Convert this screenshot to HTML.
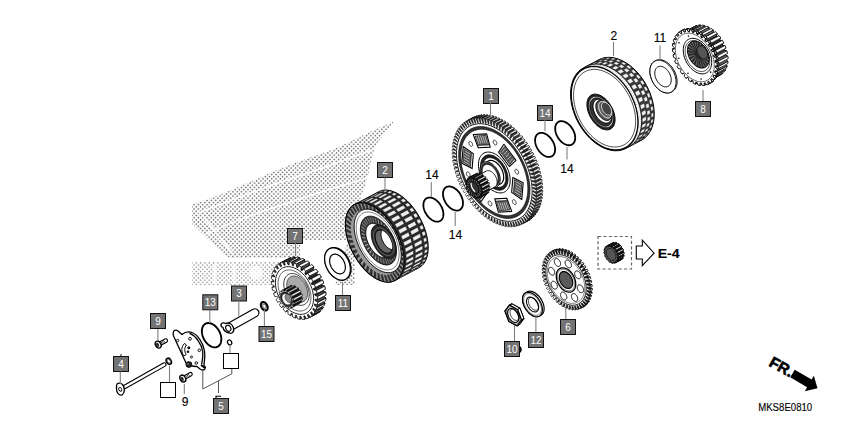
<!DOCTYPE html>
<html><head><meta charset="utf-8"><style>
html,body{margin:0;padding:0;background:#fff;overflow:hidden;}
svg{display:block;}
</style></head><body>
<svg width="842" height="421" viewBox="0 0 842 421">
<rect width="842" height="421" fill="#fff"/>
<g id="watermark">
<defs><pattern id="dots" width="3.05" height="3.05" patternUnits="userSpaceOnUse" patternTransform="rotate(45)">
<rect x="0.65" y="0.65" width="1.45" height="1.45" fill="#6a6a6a"/></pattern>
<pattern id="dots2" width="3.05" height="3.05" patternUnits="userSpaceOnUse" patternTransform="rotate(45)">
<rect x="0.7" y="0.7" width="1.3" height="1.3" fill="#858585"/></pattern></defs>
<path fill="url(#dots)" d="M394,121.5 C380,127 355,139 341,146 C325,153 295,162 270,173 C250,182 232,190 224,193 C212,198 200,202 192,204 L192,224 L214,245 L229,258 L300,258 L300,240 L355,240 L355,285 L335,285 L358,205 L367,180 L373,153 L378,142 Z"/>
<path fill="url(#dots2)" d="M192,262 L300,262 L300,285 L192,285 Z"/>
<g fill="#fff" fill-opacity="0.8"><rect x="213.2" y="264" width="3" height="20"/><rect x="232.5" y="264" width="3" height="20"/><ellipse cx="256" cy="272.5" rx="6.5" ry="7"/></g>
<g fill="none" stroke="#fff" stroke-width="1.5" stroke-linecap="round" stroke-linejoin="round">
<path d="M199,213 C210,208 240,197 275,184 C300,176 340,162 377,148"/>
<path d="M202,215 L233,254"/>
<path d="M207,234 C230,222 260,212 318,193 C340,186 360,180 375,176"/>
</g>
</g>
<g id="gear_8">
<polygon points="695.90,29.17 694.90,26.31 696.68,25.62 698.24,28.25 699.12,28.06 698.57,25.20 700.56,25.07 701.75,27.88 702.70,27.95 702.63,25.21 704.75,25.64 705.49,28.51 706.49,28.84 706.89,26.34 709.05,27.31 709.33,30.11 710.32,30.68 711.18,28.54 713.28,30.01 713.08,32.62 714.02,33.41 715.31,31.71 717.25,33.61 716.58,35.92 717.43,36.89 719.08,35.71 720.79,37.97 719.68,39.87 720.40,40.99 722.35,40.37 723.75,42.89 722.24,44.30 722.80,45.51 724.97,45.49 725.99,48.15 724.16,49.02 724.54,50.26 726.81,50.84 727.42,53.53 725.34,53.81 725.52,55.04 727.81,56.19 727.98,58.79 725.74,58.47 725.71,59.63 727.92,61.31 727.63,63.71 725.34,62.79 725.10,63.84 727.13,65.96 726.40,68.05 724.15,66.59 723.72,67.47 725.47,69.95 724.35,71.64 722.23,69.70 721.62,70.38 723.03,73.11 721.55,74.33 719.67,71.99 718.91,72.43 719.91,75.29 718.13,75.98 716.56,73.34 715.69,73.54 716.24,76.40 714.24,76.53 713.06,73.72 712.10,73.65 712.18,76.39 710.06,75.96 709.31,73.09 708.32,72.76 707.91,75.26 705.76,74.29 705.48,71.48 704.49,70.91 703.62,73.06 701.53,71.59 701.73,68.98 700.79,68.19 699.50,69.89 697.56,67.98 698.23,65.67 697.38,64.70 695.72,65.89 694.02,63.63 695.13,61.72 694.41,60.61 692.45,61.22 691.06,58.71 692.57,57.29 692.00,56.09 689.84,56.10 688.82,53.44 690.65,52.58 690.27,51.33 687.99,50.75 687.39,48.06 689.47,47.79 689.29,46.56 687.00,45.40 686.83,42.80 689.07,43.13 689.10,41.97 686.89,40.29 687.17,37.89 689.47,38.81 689.71,37.76 687.68,35.64 688.40,33.55 690.66,35.01 691.09,34.12 689.33,31.64 690.46,29.95 692.58,31.90 693.18,31.22 691.77,28.49 693.26,27.27 695.14,29.61" fill="#fff" stroke="#000" stroke-width="0.70" stroke-linejoin="round" />
<polygon points="677.54,59.44 679.37,58.58 690.65,52.58 688.82,53.44" fill="#666" stroke="#000" stroke-width="0.70" stroke-linejoin="round" />
<polygon points="686.10,70.70 684.45,71.88 695.72,65.89 697.38,64.70" fill="#666" stroke="#000" stroke-width="0.70" stroke-linejoin="round" />
<polygon points="676.11,54.06 678.19,53.79 689.47,47.79 687.39,48.06" fill="#666" stroke="#000" stroke-width="0.70" stroke-linejoin="round" />
<polygon points="689.51,74.19 688.22,75.89 699.50,69.89 700.79,68.19" fill="#666" stroke="#000" stroke-width="0.70" stroke-linejoin="round" />
<polygon points="675.55,48.80 677.79,49.13 689.07,43.13 686.83,42.80" fill="#666" stroke="#000" stroke-width="0.70" stroke-linejoin="round" />
<polygon points="693.21,76.91 692.35,79.06 703.62,73.06 704.49,70.91" fill="#666" stroke="#000" stroke-width="0.70" stroke-linejoin="round" />
<polygon points="675.90,43.89 678.19,44.80 689.47,38.81 687.17,37.89" fill="#666" stroke="#000" stroke-width="0.70" stroke-linejoin="round" />
<polygon points="697.04,78.76 696.64,81.25 707.91,75.26 708.32,72.76" fill="#666" stroke="#000" stroke-width="0.70" stroke-linejoin="round" />
<polygon points="677.13,39.54 679.38,41.00 690.66,35.01 688.40,33.55" fill="#666" stroke="#000" stroke-width="0.70" stroke-linejoin="round" />
<polygon points="700.83,79.64 700.90,82.38 712.18,76.39 712.10,73.65" fill="#666" stroke="#000" stroke-width="0.70" stroke-linejoin="round" />
<polygon points="679.18,35.95 681.30,37.89 692.58,31.90 690.46,29.95" fill="#666" stroke="#000" stroke-width="0.70" stroke-linejoin="round" />
<polygon points="704.41,79.53 704.96,82.39 716.24,76.40 715.69,73.54" fill="#666" stroke="#000" stroke-width="0.70" stroke-linejoin="round" />
<polygon points="681.98,33.27 683.86,35.61 695.14,29.61 693.26,27.27" fill="#666" stroke="#000" stroke-width="0.70" stroke-linejoin="round" />
<polygon points="707.63,78.43 708.63,81.28 719.91,75.29 718.91,72.43" fill="#666" stroke="#000" stroke-width="0.70" stroke-linejoin="round" />
<polygon points="708.39,77.98 707.63,78.43 718.91,72.43 719.67,71.99" fill="#666" stroke="#000" stroke-width="0.70" stroke-linejoin="round" />
<polygon points="683.62,32.31 685.40,31.61 696.68,25.62 694.90,26.31" fill="#fff" stroke="#000" stroke-width="0.70" stroke-linejoin="round" />
<polygon points="711.76,79.10 710.27,80.32 721.55,74.33 723.03,73.11" fill="#fff" stroke="#000" stroke-width="0.70" stroke-linejoin="round" />
<polygon points="685.40,31.61 686.97,34.25 698.24,28.25 696.68,25.62" fill="#666" stroke="#000" stroke-width="0.70" stroke-linejoin="round" />
<polygon points="686.97,34.25 687.84,34.06 699.12,28.06 698.24,28.25" fill="#666" stroke="#000" stroke-width="0.70" stroke-linejoin="round" />
<polygon points="710.35,76.38 711.76,79.10 723.03,73.11 721.62,70.38" fill="#666" stroke="#000" stroke-width="0.70" stroke-linejoin="round" />
<polygon points="710.95,75.70 710.35,76.38 721.62,70.38 722.23,69.70" fill="#666" stroke="#000" stroke-width="0.70" stroke-linejoin="round" />
<polygon points="687.29,31.20 689.29,31.06 700.56,25.07 698.57,25.20" fill="#fff" stroke="#000" stroke-width="0.70" stroke-linejoin="round" />
<polygon points="689.29,31.06 690.47,33.88 701.75,27.88 700.56,25.07" fill="#666" stroke="#000" stroke-width="0.70" stroke-linejoin="round" />
<polygon points="714.20,75.95 713.07,77.64 724.35,71.64 725.47,69.95" fill="#fff" stroke="#000" stroke-width="0.70" stroke-linejoin="round" />
<polygon points="690.47,33.88 691.43,33.94 702.70,27.95 701.75,27.88" fill="#666" stroke="#000" stroke-width="0.70" stroke-linejoin="round" />
<polygon points="712.44,73.47 714.20,75.95 725.47,69.95 723.72,67.47" fill="#666" stroke="#000" stroke-width="0.70" stroke-linejoin="round" />
<polygon points="712.87,72.59 712.44,73.47 723.72,67.47 724.15,66.59" fill="#666" stroke="#000" stroke-width="0.70" stroke-linejoin="round" />
<polygon points="691.35,31.21 693.47,31.63 704.75,25.64 702.63,25.21" fill="#fff" stroke="#000" stroke-width="0.70" stroke-linejoin="round" />
<polygon points="693.47,31.63 694.22,34.51 705.49,28.51 704.75,25.64" fill="#666" stroke="#000" stroke-width="0.70" stroke-linejoin="round" />
<polygon points="694.22,34.51 695.21,34.83 706.49,28.84 705.49,28.51" fill="#666" stroke="#000" stroke-width="0.70" stroke-linejoin="round" />
<polygon points="715.85,71.96 715.13,74.05 726.40,68.05 727.13,65.96" fill="#fff" stroke="#000" stroke-width="0.70" stroke-linejoin="round" />
<polygon points="714.06,68.79 713.82,69.83 725.10,63.84 725.34,62.79" fill="#666" stroke="#000" stroke-width="0.70" stroke-linejoin="round" />
<polygon points="713.82,69.83 715.85,71.96 727.13,65.96 725.10,63.84" fill="#666" stroke="#000" stroke-width="0.70" stroke-linejoin="round" />
<polygon points="698.05,36.11 699.04,36.68 710.32,30.68 709.33,30.11" fill="#666" stroke="#000" stroke-width="0.70" stroke-linejoin="round" />
<polygon points="695.62,32.34 697.77,33.31 709.05,27.31 706.89,26.34" fill="#fff" stroke="#000" stroke-width="0.70" stroke-linejoin="round" />
<polygon points="697.77,33.31 698.05,36.11 709.33,30.11 709.05,27.31" fill="#666" stroke="#000" stroke-width="0.70" stroke-linejoin="round" />
<polygon points="714.46,64.46 714.43,65.63 725.71,59.63 725.74,58.47" fill="#666" stroke="#000" stroke-width="0.70" stroke-linejoin="round" />
<polygon points="716.64,67.30 716.36,69.70 727.63,63.71 727.92,61.31" fill="#fff" stroke="#000" stroke-width="0.70" stroke-linejoin="round" />
<polygon points="714.43,65.63 716.64,67.30 727.92,61.31 725.71,59.63" fill="#666" stroke="#000" stroke-width="0.70" stroke-linejoin="round" />
<polygon points="701.80,38.62 702.74,39.40 714.02,33.41 713.08,32.62" fill="#666" stroke="#000" stroke-width="0.70" stroke-linejoin="round" />
<polygon points="714.06,59.80 714.24,61.04 725.52,55.04 725.34,53.81" fill="#666" stroke="#000" stroke-width="0.70" stroke-linejoin="round" />
<polygon points="702.00,36.00 701.80,38.62 713.08,32.62 713.28,30.01" fill="#666" stroke="#000" stroke-width="0.70" stroke-linejoin="round" />
<polygon points="699.91,34.53 702.00,36.00 713.28,30.01 711.18,28.54" fill="#fff" stroke="#000" stroke-width="0.70" stroke-linejoin="round" />
<polygon points="714.24,61.04 716.53,62.19 727.81,56.19 725.52,55.04" fill="#666" stroke="#000" stroke-width="0.70" stroke-linejoin="round" />
<polygon points="716.53,62.19 716.70,64.79 727.98,58.79 727.81,56.19" fill="#fff" stroke="#000" stroke-width="0.70" stroke-linejoin="round" />
<polygon points="705.30,41.92 706.15,42.89 717.43,36.89 716.58,35.92" fill="#666" stroke="#000" stroke-width="0.70" stroke-linejoin="round" />
<polygon points="712.88,55.01 713.26,56.26 724.54,50.26 724.16,49.02" fill="#666" stroke="#000" stroke-width="0.70" stroke-linejoin="round" />
<polygon points="705.97,39.61 705.30,41.92 716.58,35.92 717.25,33.61" fill="#666" stroke="#000" stroke-width="0.70" stroke-linejoin="round" />
<polygon points="708.40,45.87 709.12,46.98 720.40,40.99 719.68,39.87" fill="#666" stroke="#000" stroke-width="0.70" stroke-linejoin="round" />
<polygon points="710.96,50.30 711.53,51.51 722.80,45.51 722.24,44.30" fill="#666" stroke="#000" stroke-width="0.70" stroke-linejoin="round" />
<polygon points="713.26,56.26 715.54,56.84 726.81,50.84 724.54,50.26" fill="#666" stroke="#000" stroke-width="0.70" stroke-linejoin="round" />
<polygon points="704.03,37.70 705.97,39.61 717.25,33.61 715.31,31.71" fill="#fff" stroke="#000" stroke-width="0.70" stroke-linejoin="round" />
<polygon points="715.54,56.84 716.14,59.53 727.42,53.53 726.81,50.84" fill="#fff" stroke="#000" stroke-width="0.70" stroke-linejoin="round" />
<polygon points="709.51,43.97 708.40,45.87 719.68,39.87 720.79,37.97" fill="#666" stroke="#000" stroke-width="0.70" stroke-linejoin="round" />
<polygon points="711.53,51.51 713.69,51.49 724.97,45.49 722.80,45.51" fill="#666" stroke="#000" stroke-width="0.70" stroke-linejoin="round" />
<polygon points="709.12,46.98 711.08,46.37 722.35,40.37 720.40,40.99" fill="#666" stroke="#000" stroke-width="0.70" stroke-linejoin="round" />
<polygon points="712.47,48.89 710.96,50.30 722.24,44.30 723.75,42.89" fill="#666" stroke="#000" stroke-width="0.70" stroke-linejoin="round" />
<polygon points="707.81,41.71 709.51,43.97 720.79,37.97 719.08,35.71" fill="#fff" stroke="#000" stroke-width="0.70" stroke-linejoin="round" />
<polygon points="713.69,51.49 714.71,54.15 725.99,48.15 724.97,45.49" fill="#fff" stroke="#000" stroke-width="0.70" stroke-linejoin="round" />
<polygon points="711.08,46.37 712.47,48.89 723.75,42.89 722.35,40.37" fill="#fff" stroke="#000" stroke-width="0.70" stroke-linejoin="round" />
<polygon points="683.55,32.34 682.82,29.90 684.56,29.21 685.99,31.36 687.16,31.10 686.82,28.69 688.77,28.55 689.90,30.89 691.18,30.97 691.25,28.71 693.33,29.11 694.10,31.54 695.43,31.97 695.90,29.94 698.02,30.87 698.40,33.29 699.73,34.04 700.58,32.33 702.64,33.77 702.62,36.05 703.88,37.10 705.08,35.79 706.99,37.65 706.57,39.72 707.71,41.01 709.20,40.16 710.88,42.37 710.07,44.12 711.05,45.61 712.77,45.25 714.15,47.71 712.98,49.07 713.75,50.68 715.62,50.83 716.63,53.44 715.17,54.35 715.69,56.02 717.63,56.67 718.24,59.31 716.54,59.73 716.79,61.38 718.72,62.50 718.89,65.06 717.04,64.97 717.01,66.53 718.84,68.08 718.57,70.44 716.63,69.85 716.32,71.25 717.97,73.16 717.28,75.22 715.34,74.15 714.77,75.33 716.17,77.51 715.07,79.18 713.23,77.68 712.42,78.60 713.51,80.95 712.06,82.16 710.38,80.30 709.37,80.90 710.10,83.33 708.36,84.03 706.93,81.87 705.75,82.14 706.09,84.54 704.14,84.69 703.01,82.35 701.73,82.27 701.67,84.53 699.59,84.13 698.81,81.70 697.48,81.27 697.01,83.30 694.90,82.36 694.51,79.95 693.19,79.20 692.33,80.90 690.28,79.47 690.30,77.18 689.04,76.14 687.84,77.45 685.92,75.58 686.35,73.52 685.21,72.23 683.72,73.08 682.03,70.86 682.84,69.12 681.87,67.63 680.15,67.99 678.77,65.52 679.93,64.17 679.17,62.55 677.30,62.41 676.28,59.79 677.74,58.89 677.23,57.22 675.29,56.57 674.68,53.93 676.37,53.51 676.12,51.86 674.20,50.73 674.02,48.18 675.88,48.26 675.91,46.70 674.08,45.15 674.35,42.79 676.29,43.39 676.59,41.98 674.94,40.08 675.64,38.02 677.58,39.09 678.15,37.90 676.74,35.72 677.84,34.05 679.69,35.55 680.50,34.64 679.41,32.28 680.86,31.07 682.54,32.94" fill="#fff" stroke="#000" stroke-width="0.90" stroke-linejoin="round" />
<polygon points="683.55,73.11 682.06,73.96 683.72,73.08 685.21,72.23" fill="#fff" stroke="#000" stroke-width="0.90" stroke-linejoin="round" />
<polygon points="673.02,54.81 674.71,54.39 676.37,53.51 674.68,53.93" fill="#fff" stroke="#000" stroke-width="0.90" stroke-linejoin="round" />
<polygon points="687.38,77.02 686.18,78.33 687.84,77.45 689.04,76.14" fill="#fff" stroke="#000" stroke-width="0.90" stroke-linejoin="round" />
<polygon points="672.36,49.06 674.22,49.15 675.88,48.26 674.02,48.18" fill="#fff" stroke="#000" stroke-width="0.90" stroke-linejoin="round" />
<polygon points="691.53,80.08 690.68,81.79 692.33,80.90 693.19,79.20" fill="#fff" stroke="#000" stroke-width="0.90" stroke-linejoin="round" />
<polygon points="672.69,43.68 674.63,44.27 676.29,43.39 674.35,42.79" fill="#fff" stroke="#000" stroke-width="0.90" stroke-linejoin="round" />
<polygon points="695.83,82.15 695.35,84.18 697.01,83.30 697.48,81.27" fill="#fff" stroke="#000" stroke-width="0.90" stroke-linejoin="round" />
<polygon points="673.98,38.90 675.92,39.97 677.58,39.09 675.64,38.02" fill="#fff" stroke="#000" stroke-width="0.90" stroke-linejoin="round" />
<polygon points="700.08,83.15 700.01,85.41 701.67,84.53 701.73,82.27" fill="#fff" stroke="#000" stroke-width="0.90" stroke-linejoin="round" />
<polygon points="676.18,34.93 678.03,36.44 679.69,35.55 677.84,34.05" fill="#fff" stroke="#000" stroke-width="0.90" stroke-linejoin="round" />
<polygon points="704.10,83.02 704.44,85.42 706.09,84.54 705.75,82.14" fill="#fff" stroke="#000" stroke-width="0.90" stroke-linejoin="round" />
<polygon points="679.20,31.95 680.88,33.82 682.54,32.94 680.86,31.07" fill="#fff" stroke="#000" stroke-width="0.90" stroke-linejoin="round" />
<polygon points="707.71,81.78 708.44,84.21 710.10,83.33 709.37,80.90" fill="#fff" stroke="#000" stroke-width="0.90" stroke-linejoin="round" />
<polygon points="708.72,81.18 707.71,81.78 709.37,80.90 710.38,80.30" fill="#fff" stroke="#000" stroke-width="0.90" stroke-linejoin="round" />
<polygon points="681.16,30.79 682.90,30.09 684.56,29.21 682.82,29.90" fill="#fff" stroke="#000" stroke-width="0.90" stroke-linejoin="round" />
<polygon points="682.90,30.09 684.33,32.24 685.99,31.36 684.56,29.21" fill="#fff" stroke="#000" stroke-width="0.90" stroke-linejoin="round" />
<polygon points="711.85,81.84 710.40,83.05 712.06,82.16 713.51,80.95" fill="#fff" stroke="#000" stroke-width="0.90" stroke-linejoin="round" />
<polygon points="684.33,32.24 685.50,31.98 687.16,31.10 685.99,31.36" fill="#fff" stroke="#000" stroke-width="0.90" stroke-linejoin="round" />
<polygon points="710.76,79.48 711.85,81.84 713.51,80.95 712.42,78.60" fill="#fff" stroke="#000" stroke-width="0.90" stroke-linejoin="round" />
<polygon points="711.57,78.56 710.76,79.48 712.42,78.60 713.23,77.68" fill="#fff" stroke="#000" stroke-width="0.90" stroke-linejoin="round" />
<polygon points="685.16,29.58 687.12,29.43 688.77,28.55 686.82,28.69" fill="#fff" stroke="#000" stroke-width="0.90" stroke-linejoin="round" />
<polygon points="687.12,29.43 688.24,31.77 689.90,30.89 688.77,28.55" fill="#fff" stroke="#000" stroke-width="0.90" stroke-linejoin="round" />
<polygon points="714.51,78.40 713.42,80.07 715.07,79.18 716.17,77.51" fill="#fff" stroke="#000" stroke-width="0.90" stroke-linejoin="round" />
<polygon points="688.24,31.77 689.52,31.85 691.18,30.97 689.90,30.89" fill="#fff" stroke="#000" stroke-width="0.90" stroke-linejoin="round" />
<polygon points="713.11,76.22 714.51,78.40 716.17,77.51 714.77,75.33" fill="#fff" stroke="#000" stroke-width="0.90" stroke-linejoin="round" />
<polygon points="713.68,75.03 713.11,76.22 714.77,75.33 715.34,74.15" fill="#fff" stroke="#000" stroke-width="0.90" stroke-linejoin="round" />
<polygon points="689.59,29.59 691.67,29.99 693.33,29.11 691.25,28.71" fill="#fff" stroke="#000" stroke-width="0.90" stroke-linejoin="round" />
<polygon points="691.67,29.99 692.44,32.42 694.10,31.54 693.33,29.11" fill="#fff" stroke="#000" stroke-width="0.90" stroke-linejoin="round" />
<polygon points="692.44,32.42 693.77,32.85 695.43,31.97 694.10,31.54" fill="#fff" stroke="#000" stroke-width="0.90" stroke-linejoin="round" />
<polygon points="716.32,74.04 715.62,76.10 717.28,75.22 717.97,73.16" fill="#fff" stroke="#000" stroke-width="0.90" stroke-linejoin="round" />
<polygon points="714.66,72.14 716.32,74.04 717.97,73.16 716.32,71.25" fill="#fff" stroke="#000" stroke-width="0.90" stroke-linejoin="round" />
<polygon points="714.97,70.73 714.66,72.14 716.32,71.25 716.63,69.85" fill="#fff" stroke="#000" stroke-width="0.90" stroke-linejoin="round" />
<polygon points="694.25,30.82 696.36,31.76 698.02,30.87 695.90,29.94" fill="#fff" stroke="#000" stroke-width="0.90" stroke-linejoin="round" />
<polygon points="696.36,31.76 696.75,34.17 698.40,33.29 698.02,30.87" fill="#fff" stroke="#000" stroke-width="0.90" stroke-linejoin="round" />
<polygon points="696.75,34.17 698.07,34.92 699.73,34.04 698.40,33.29" fill="#fff" stroke="#000" stroke-width="0.90" stroke-linejoin="round" />
<polygon points="717.18,68.96 716.91,71.32 718.57,70.44 718.84,68.08" fill="#fff" stroke="#000" stroke-width="0.90" stroke-linejoin="round" />
<polygon points="715.38,65.85 715.35,67.41 717.01,66.53 717.04,64.97" fill="#fff" stroke="#000" stroke-width="0.90" stroke-linejoin="round" />
<polygon points="715.35,67.41 717.18,68.96 718.84,68.08 717.01,66.53" fill="#fff" stroke="#000" stroke-width="0.90" stroke-linejoin="round" />
<polygon points="700.96,36.93 702.22,37.98 703.88,37.10 702.62,36.05" fill="#fff" stroke="#000" stroke-width="0.90" stroke-linejoin="round" />
<polygon points="698.92,33.21 700.98,34.65 702.64,33.77 700.58,32.33" fill="#fff" stroke="#000" stroke-width="0.90" stroke-linejoin="round" />
<polygon points="700.98,34.65 700.96,36.93 702.62,36.05 702.64,33.77" fill="#fff" stroke="#000" stroke-width="0.90" stroke-linejoin="round" />
<polygon points="714.89,60.61 715.13,62.26 716.79,61.38 716.54,59.73" fill="#fff" stroke="#000" stroke-width="0.90" stroke-linejoin="round" />
<polygon points="715.13,62.26 717.06,63.39 718.72,62.50 716.79,61.38" fill="#fff" stroke="#000" stroke-width="0.90" stroke-linejoin="round" />
<polygon points="717.06,63.39 717.24,65.94 718.89,65.06 718.72,62.50" fill="#fff" stroke="#000" stroke-width="0.90" stroke-linejoin="round" />
<polygon points="704.91,40.60 706.05,41.89 707.71,41.01 706.57,39.72" fill="#fff" stroke="#000" stroke-width="0.90" stroke-linejoin="round" />
<polygon points="713.51,55.23 714.03,56.90 715.69,56.02 715.17,54.35" fill="#fff" stroke="#000" stroke-width="0.90" stroke-linejoin="round" />
<polygon points="705.33,38.54 704.91,40.60 706.57,39.72 706.99,37.65" fill="#fff" stroke="#000" stroke-width="0.90" stroke-linejoin="round" />
<polygon points="703.42,36.67 705.33,38.54 706.99,37.65 705.08,35.79" fill="#fff" stroke="#000" stroke-width="0.90" stroke-linejoin="round" />
<polygon points="714.03,56.90 715.97,57.55 717.63,56.67 715.69,56.02" fill="#fff" stroke="#000" stroke-width="0.90" stroke-linejoin="round" />
<polygon points="708.42,45.00 709.39,46.49 711.05,45.61 710.07,44.12" fill="#fff" stroke="#000" stroke-width="0.90" stroke-linejoin="round" />
<polygon points="711.33,49.95 712.09,51.56 713.75,50.68 712.98,49.07" fill="#fff" stroke="#000" stroke-width="0.90" stroke-linejoin="round" />
<polygon points="715.97,57.55 716.58,60.19 718.24,59.31 717.63,56.67" fill="#fff" stroke="#000" stroke-width="0.90" stroke-linejoin="round" />
<polygon points="714.98,54.32 713.51,55.23 715.17,54.35 716.63,53.44" fill="#fff" stroke="#000" stroke-width="0.90" stroke-linejoin="round" />
<polygon points="709.23,43.25 708.42,45.00 710.07,44.12 710.88,42.37" fill="#fff" stroke="#000" stroke-width="0.90" stroke-linejoin="round" />
<polygon points="712.09,51.56 713.96,51.71 715.62,50.83 713.75,50.68" fill="#fff" stroke="#000" stroke-width="0.90" stroke-linejoin="round" />
<polygon points="709.39,46.49 711.11,46.13 712.77,45.25 711.05,45.61" fill="#fff" stroke="#000" stroke-width="0.90" stroke-linejoin="round" />
<polygon points="712.49,48.59 711.33,49.95 712.98,49.07 714.15,47.71" fill="#fff" stroke="#000" stroke-width="0.90" stroke-linejoin="round" />
<polygon points="707.54,41.04 709.23,43.25 710.88,42.37 709.20,40.16" fill="#fff" stroke="#000" stroke-width="0.90" stroke-linejoin="round" />
<polygon points="713.96,51.71 714.98,54.32 716.63,53.44 715.62,50.83" fill="#fff" stroke="#000" stroke-width="0.90" stroke-linejoin="round" />
<polygon points="711.11,46.13 712.49,48.59 714.15,47.71 712.77,45.25" fill="#fff" stroke="#000" stroke-width="0.90" stroke-linejoin="round" />
<polygon points="681.89,33.22 681.16,30.79 682.90,30.09 684.33,32.24 685.50,31.98 685.16,29.58 687.12,29.43 688.24,31.77 689.52,31.85 689.59,29.59 691.67,29.99 692.44,32.42 693.77,32.85 694.25,30.82 696.36,31.76 696.75,34.17 698.07,34.92 698.92,33.21 700.98,34.65 700.96,36.93 702.22,37.98 703.42,36.67 705.33,38.54 704.91,40.60 706.05,41.89 707.54,41.04 709.23,43.25 708.42,45.00 709.39,46.49 711.11,46.13 712.49,48.59 711.33,49.95 712.09,51.56 713.96,51.71 714.98,54.32 713.51,55.23 714.03,56.90 715.97,57.55 716.58,60.19 714.89,60.61 715.13,62.26 717.06,63.39 717.24,65.94 715.38,65.85 715.35,67.41 717.18,68.96 716.91,71.32 714.97,70.73 714.66,72.14 716.32,74.04 715.62,76.10 713.68,75.03 713.11,76.22 714.51,78.40 713.42,80.07 711.57,78.56 710.76,79.48 711.85,81.84 710.40,83.05 708.72,81.18 707.71,81.78 708.44,84.21 706.70,84.91 705.27,82.76 704.10,83.02 704.44,85.42 702.48,85.57 701.36,83.23 700.08,83.15 700.01,85.41 697.93,85.01 697.16,82.58 695.83,82.15 695.35,84.18 693.24,83.24 692.85,80.83 691.53,80.08 690.68,81.79 688.62,80.35 688.64,78.07 687.38,77.02 686.18,78.33 684.27,76.46 684.69,74.40 683.55,73.11 682.06,73.96 680.37,71.75 681.18,70.00 680.21,68.51 678.49,68.87 677.11,66.41 678.27,65.05 677.51,63.44 675.64,63.29 674.62,60.68 676.09,59.77 675.57,58.10 673.63,57.45 673.02,54.81 674.71,54.39 674.47,52.74 672.54,51.61 672.36,49.06 674.22,49.15 674.25,47.59 672.42,46.04 672.69,43.68 674.63,44.27 674.94,42.86 673.28,40.96 673.98,38.90 675.92,39.97 676.49,38.78 675.09,36.60 676.18,34.93 678.03,36.44 678.84,35.52 677.75,33.16 679.20,31.95 680.88,33.82" fill="#fff" stroke="#000" stroke-width="0.90" stroke-linejoin="round" />
<polygon points="682.59,34.54 683.96,33.93 685.41,33.49 686.93,33.24 688.51,33.17 690.14,33.29 691.80,33.59 693.49,34.07 695.19,34.74 696.88,35.57 698.56,36.57 700.21,37.73 701.82,39.04 703.37,40.50 704.86,42.08 706.28,43.78 707.60,45.58 708.83,47.47 709.95,49.44 710.96,51.48 711.84,53.55 712.59,55.66 713.21,57.78 713.69,59.90 714.02,62.00 714.21,64.07 714.25,66.08 714.14,68.04 713.89,69.91 713.49,71.68 712.95,73.35 712.27,74.90 711.45,76.32 710.51,77.59 709.45,78.71 708.28,79.67 707.01,80.46 705.64,81.07 704.19,81.51 702.67,81.76 701.09,81.83 699.46,81.71 697.80,81.41 696.11,80.93 694.41,80.26 692.72,79.43 691.04,78.43 689.39,77.27 687.78,75.96 686.23,74.50 684.74,72.92 683.32,71.22 682.00,69.42 680.77,67.53 679.65,65.56 678.64,63.52 677.76,61.45 677.01,59.34 676.39,57.22 675.91,55.10 675.58,53.00 675.39,50.93 675.35,48.92 675.46,46.96 675.71,45.09 676.11,43.32 676.65,41.65 677.33,40.10 678.15,38.68 679.09,37.41 680.15,36.29 681.32,35.33" fill="none" stroke="#000" stroke-width="0.60" stroke-linejoin="round" />
<circle cx="688.45" cy="35.99" r="0.8" fill="#000"/>
<circle cx="701.62" cy="41.72" r="0.8" fill="#000"/>
<circle cx="710.80" cy="56.69" r="0.8" fill="#000"/>
<circle cx="710.60" cy="72.14" r="0.8" fill="#000"/>
<circle cx="701.15" cy="79.01" r="0.8" fill="#000"/>
<circle cx="687.98" cy="73.28" r="0.8" fill="#000"/>
<circle cx="678.80" cy="58.31" r="0.8" fill="#000"/>
<circle cx="679.00" cy="42.86" r="0.8" fill="#000"/>
<polygon points="688.53,39.31 689.53,38.86 690.59,38.55 691.70,38.36 692.86,38.31 694.05,38.40 695.26,38.62 696.50,38.97 697.74,39.45 698.98,40.06 700.20,40.80 701.41,41.64 702.58,42.60 703.72,43.66 704.81,44.82 705.84,46.06 706.81,47.38 707.71,48.76 708.53,50.20 709.26,51.69 709.91,53.20 710.46,54.74 710.91,56.29 711.26,57.84 711.50,59.38 711.64,60.89 711.67,62.36 711.59,63.79 711.40,65.16 711.11,66.45 710.71,67.67 710.22,68.81 709.62,69.84 708.94,70.77 708.16,71.59 707.30,72.29 706.37,72.87 705.37,73.31 704.32,73.63 703.20,73.82 702.05,73.87 700.86,73.78 699.64,73.56 698.41,73.21 697.17,72.72 695.93,72.11 694.71,71.38 693.50,70.53 692.32,69.58 691.19,68.51 690.10,67.36 689.07,66.12 688.10,64.80 687.20,63.42 686.38,61.98 685.65,60.49 685.00,58.97 684.45,57.43 684.00,55.88 683.65,54.33 683.40,52.80 683.27,51.29 683.24,49.82 683.32,48.39 683.50,47.02 683.80,45.72 684.19,44.50 684.69,43.37 685.28,42.34 685.97,41.41 686.75,40.59 687.60,39.89" fill="#fff" stroke="#000" stroke-width="1.00" stroke-linejoin="round" />
<polygon points="689.71,41.52 690.57,41.13 691.49,40.85 692.46,40.69 693.46,40.65 694.50,40.72 695.55,40.92 696.62,41.22 697.70,41.64 698.77,42.17 699.84,42.81 700.89,43.55 701.91,44.38 702.89,45.30 703.84,46.30 704.74,47.38 705.58,48.52 706.36,49.73 707.07,50.98 707.71,52.27 708.27,53.58 708.75,54.92 709.14,56.27 709.44,57.61 709.65,58.95 709.77,60.26 709.80,61.54 709.73,62.78 709.57,63.96 709.31,65.09 708.97,66.15 708.54,67.13 708.02,68.03 707.42,68.84 706.75,69.55 706.01,70.16 705.20,70.66 704.33,71.05 703.41,71.32 702.45,71.48 701.44,71.53 700.41,71.45 699.35,71.26 698.28,70.96 697.21,70.54 696.13,70.01 695.07,69.37 694.02,68.63 693.00,67.80 692.01,66.88 691.07,65.88 690.17,64.80 689.33,63.65 688.55,62.45 687.84,61.20 687.20,59.91 686.64,58.59 686.16,57.26 685.77,55.91 685.47,54.57 685.25,53.23 685.13,51.92 685.11,50.64 685.18,49.40 685.34,48.22 685.59,47.09 685.94,46.03 686.37,45.05 686.89,44.15 687.48,43.34 688.16,42.63 688.90,42.02" fill="none" stroke="#000" stroke-width="0.70" stroke-linejoin="round" />
<polygon points="691.50,41.70 692.27,41.36 693.07,41.11 693.92,40.97 694.80,40.93 695.71,41.00 696.64,41.17 697.58,41.44 698.53,41.81 699.47,42.27 700.41,42.83 701.33,43.48 702.22,44.21 703.09,45.02 703.92,45.90 704.71,46.85 705.45,47.85 706.13,48.91 706.76,50.01 707.32,51.14 707.81,52.30 708.23,53.47 708.58,54.66 708.85,55.84 709.03,57.01 709.14,58.16 709.16,59.29 709.10,60.38 708.96,61.42 708.73,62.41 708.43,63.34 708.05,64.21 707.60,64.99 707.07,65.70 706.48,66.33 705.83,66.86 705.12,67.30 704.36,67.65 703.55,67.89 702.70,68.03 701.82,68.07 700.91,68.00 699.98,67.83 699.04,67.57 698.09,67.20 697.15,66.73 696.21,66.17 695.29,65.52 694.40,64.79 693.53,63.98 692.70,63.10 691.91,62.15 691.17,61.15 690.49,60.09 689.86,58.99 689.30,57.86 688.81,56.70 688.39,55.53 688.04,54.34 687.78,53.16 687.59,51.99 687.48,50.84 687.46,49.71 687.52,48.62 687.66,47.58 687.89,46.59 688.19,45.66 688.57,44.80 689.02,44.01 689.55,43.30 690.14,42.67 690.79,42.14" fill="#2a2a2a" stroke="#000" stroke-width="1.00" stroke-linejoin="round" />
<polygon points="695.96,50.09 691.74,42.14 692.46,41.81 696.22,49.97" fill="#aaa" stroke="#000" stroke-width="0.20" stroke-linejoin="round" />
<polygon points="696.88,49.83 694.30,41.42 695.15,41.41 697.18,49.82" fill="#aaa" stroke="#000" stroke-width="0.20" stroke-linejoin="round" />
<polygon points="697.91,49.95 697.19,41.76 698.09,42.06 698.23,50.06" fill="#aaa" stroke="#000" stroke-width="0.20" stroke-linejoin="round" />
<polygon points="698.98,50.44 700.17,43.13 701.05,43.73 699.29,50.65" fill="#aaa" stroke="#000" stroke-width="0.20" stroke-linejoin="round" />
<polygon points="699.99,51.26 703.00,45.42 703.79,46.26 700.27,51.56" fill="#aaa" stroke="#000" stroke-width="0.20" stroke-linejoin="round" />
<polygon points="700.86,52.34 705.45,48.45 706.08,49.46 701.09,52.70" fill="#aaa" stroke="#000" stroke-width="0.20" stroke-linejoin="round" />
<polygon points="701.53,53.60 707.32,51.97 707.75,53.08 701.68,53.99" fill="#aaa" stroke="#000" stroke-width="0.20" stroke-linejoin="round" />
<polygon points="701.94,54.93 708.46,55.69 708.65,56.80 702.00,55.32" fill="#aaa" stroke="#000" stroke-width="0.20" stroke-linejoin="round" />
<polygon points="702.05,56.22 708.78,59.32 708.71,60.34 702.02,56.59" fill="#aaa" stroke="#000" stroke-width="0.20" stroke-linejoin="round" />
<polygon points="701.86,57.38 708.25,62.55 707.93,63.41 701.75,57.68" fill="#aaa" stroke="#000" stroke-width="0.20" stroke-linejoin="round" />
<polygon points="701.38,58.30 706.92,65.14 706.37,65.75 701.19,58.52" fill="#aaa" stroke="#000" stroke-width="0.20" stroke-linejoin="round" />
<polygon points="700.66,58.92 704.88,66.86 704.16,67.19 700.40,59.03" fill="#aaa" stroke="#000" stroke-width="0.20" stroke-linejoin="round" />
<polygon points="699.74,59.17 702.32,67.58 701.48,67.59 699.44,59.18" fill="#aaa" stroke="#000" stroke-width="0.20" stroke-linejoin="round" />
<polygon points="698.71,59.05 699.43,67.25 698.53,66.94 698.39,58.94" fill="#aaa" stroke="#000" stroke-width="0.20" stroke-linejoin="round" />
<polygon points="697.65,58.56 696.45,65.87 695.57,65.28 697.33,58.35" fill="#aaa" stroke="#000" stroke-width="0.20" stroke-linejoin="round" />
<polygon points="696.64,57.74 693.62,63.58 692.84,62.74 696.36,57.44" fill="#aaa" stroke="#000" stroke-width="0.20" stroke-linejoin="round" />
<polygon points="695.76,56.66 691.17,60.55 690.54,59.54 695.54,56.30" fill="#aaa" stroke="#000" stroke-width="0.20" stroke-linejoin="round" />
<polygon points="695.09,55.41 689.30,57.04 688.88,55.93 694.94,55.01" fill="#aaa" stroke="#000" stroke-width="0.20" stroke-linejoin="round" />
<polygon points="694.68,54.08 688.16,53.31 687.97,52.20 694.62,53.68" fill="#aaa" stroke="#000" stroke-width="0.20" stroke-linejoin="round" />
<polygon points="694.57,52.78 687.84,49.68 687.91,48.66 694.60,52.41" fill="#aaa" stroke="#000" stroke-width="0.20" stroke-linejoin="round" />
<polygon points="694.76,51.62 688.37,46.45 688.69,45.59 694.87,51.32" fill="#aaa" stroke="#000" stroke-width="0.20" stroke-linejoin="round" />
<polygon points="695.24,50.70 689.71,43.86 690.25,43.25 695.43,50.48" fill="#aaa" stroke="#000" stroke-width="0.20" stroke-linejoin="round" />
<polygon points="699.00,46.20 699.37,46.04 699.76,45.92 700.17,45.85 700.60,45.83 701.04,45.87 701.48,45.95 701.94,46.08 702.40,46.26 702.85,46.48 703.30,46.75 703.75,47.06 704.18,47.42 704.60,47.81 705.00,48.23 705.38,48.69 705.74,49.18 706.07,49.69 706.37,50.22 706.64,50.76 706.88,51.32 707.08,51.89 707.25,52.46 707.38,53.03 707.47,53.60 707.52,54.15 707.53,54.70 707.50,55.22 707.43,55.73 707.32,56.20 707.18,56.65 706.99,57.07 706.77,57.45 706.52,57.79 706.24,58.09 705.92,58.35 705.58,58.57 705.21,58.73 704.82,58.85 704.41,58.92 703.98,58.93 703.54,58.90 703.10,58.82 702.64,58.69 702.19,58.51 701.73,58.29 701.28,58.02 700.83,57.71 700.40,57.35 699.98,56.96 699.58,56.54 699.20,56.08 698.84,55.59 698.51,55.08 698.21,54.55 697.94,54.01 697.70,53.45 697.50,52.88 697.33,52.31 697.20,51.74 697.11,51.17 697.06,50.62 697.05,50.07 697.08,49.55 697.15,49.04 697.26,48.57 697.40,48.12 697.59,47.70 697.81,47.32 698.06,46.98 698.35,46.67 698.66,46.42" fill="#555" stroke="#000" stroke-width="0.60" stroke-linejoin="round" />
</g>
<g id="washer_11_upper">
<polygon points="671.22,92.05 670.30,92.47 669.32,92.76 668.30,92.93 667.23,92.97 666.14,92.90 665.02,92.69 663.88,92.37 662.74,91.92 661.60,91.36 660.47,90.69 659.36,89.90 658.28,89.02 657.23,88.04 656.23,86.98 655.28,85.84 654.38,84.62 653.56,83.35 652.80,82.02 652.12,80.66 651.53,79.26 651.02,77.84 650.61,76.41 650.29,74.98 650.06,73.57 649.93,72.18 649.91,70.82 649.98,69.51 650.15,68.25 650.42,67.05 650.79,65.93 651.24,64.89 651.79,63.93 652.42,63.08 653.14,62.32 653.93,61.68 654.78,61.15 655.78,60.62 656.70,60.21 657.67,59.91 658.70,59.74 659.76,59.70 660.86,59.78 661.98,59.98 663.11,60.30 664.26,60.75 665.40,61.31 666.53,61.99 667.64,62.77 668.72,63.65 669.77,64.63 670.77,65.69 671.72,66.83 672.61,68.05 673.44,69.32 674.19,70.65 674.87,72.02 675.46,73.41 675.97,74.83 676.39,76.26 676.71,77.69 676.93,79.10 677.06,80.49 677.09,81.85 677.02,83.16 676.84,84.42 676.57,85.62 676.21,86.74 675.75,87.78 675.20,88.74 674.57,89.59 673.86,90.35 673.07,90.99 672.21,91.52" fill="#fff" stroke="#000" stroke-width="1.00" stroke-linejoin="round" />
<polygon points="654.78,61.15 655.70,60.73 656.68,60.44 657.70,60.27 658.77,60.23 659.86,60.30 660.98,60.51 662.12,60.83 663.26,61.28 664.40,61.84 665.53,62.51 666.64,63.30 667.72,64.18 668.77,65.16 669.77,66.22 670.72,67.36 671.62,68.58 672.44,69.85 673.20,71.18 673.88,72.54 674.47,73.94 674.98,75.36 675.39,76.79 675.71,78.22 675.94,79.63 676.07,81.02 676.09,82.38 676.02,83.69 675.85,84.95 675.58,86.15 675.21,87.27 674.76,88.31 674.21,89.27 673.58,90.12 672.86,90.88 672.07,91.52 671.22,92.05 670.30,92.47 669.32,92.76 668.30,92.93 667.23,92.97 666.14,92.90 665.02,92.69 663.88,92.37 662.74,91.92 661.60,91.36 660.47,90.69 659.36,89.90 658.28,89.02 657.23,88.04 656.23,86.98 655.28,85.84 654.38,84.62 653.56,83.35 652.80,82.02 652.12,80.66 651.53,79.26 651.02,77.84 650.61,76.41 650.29,74.98 650.06,73.57 649.93,72.18 649.91,70.82 649.98,69.51 650.15,68.25 650.42,67.05 650.79,65.93 651.24,64.89 651.79,63.93 652.42,63.08 653.14,62.32 653.93,61.68" fill="#fff" stroke="#000" stroke-width="1.00" stroke-linejoin="round" />
<polygon points="657.84,66.89 658.41,66.63 659.03,66.44 659.67,66.34 660.34,66.31 661.03,66.36 661.73,66.48 662.45,66.69 663.16,66.97 663.88,67.32 664.59,67.75 665.29,68.24 665.97,68.79 666.63,69.41 667.26,70.08 667.86,70.79 668.42,71.56 668.94,72.36 669.41,73.19 669.84,74.05 670.21,74.93 670.53,75.82 670.79,76.72 670.99,77.62 671.13,78.50 671.21,79.38 671.23,80.23 671.18,81.06 671.08,81.85 670.91,82.60 670.68,83.31 670.39,83.96 670.05,84.56 669.65,85.10 669.20,85.57 668.70,85.98 668.16,86.31 667.59,86.57 666.97,86.76 666.33,86.86 665.66,86.89 664.97,86.84 664.27,86.72 663.55,86.51 662.84,86.23 662.12,85.88 661.41,85.45 660.71,84.96 660.03,84.41 659.37,83.79 658.74,83.12 658.14,82.41 657.58,81.64 657.06,80.84 656.59,80.01 656.16,79.15 655.79,78.27 655.47,77.38 655.21,76.48 655.01,75.58 654.87,74.70 654.79,73.82 654.77,72.97 654.82,72.14 654.92,71.35 655.09,70.60 655.32,69.89 655.61,69.24 655.95,68.64 656.35,68.10 656.80,67.63 657.30,67.22" fill="#fff" stroke="#000" stroke-width="1.00" stroke-linejoin="round" />
</g>
<g id="drum_2_right">
<polygon points="625.96,148.37 623.57,149.45 621.03,150.21 618.37,150.65 615.60,150.77 612.75,150.57 609.84,150.04 606.89,149.20 603.92,148.04 600.96,146.58 598.02,144.82 595.13,142.79 592.32,140.50 589.60,137.96 586.99,135.19 584.52,132.22 582.20,129.06 580.05,125.75 578.09,122.30 576.32,118.74 574.78,115.11 573.46,111.42 572.38,107.71 571.54,104.00 570.96,100.32 570.63,96.71 570.56,93.18 570.75,89.76 571.19,86.49 571.89,83.38 572.84,80.46 574.03,77.75 575.46,75.27 577.10,73.04 578.96,71.08 581.01,69.41 583.24,68.03 598.83,59.74 601.22,58.66 603.76,57.90 606.42,57.46 609.18,57.34 612.03,57.54 614.95,58.07 617.90,58.92 620.87,60.07 623.83,61.54 626.77,63.29 629.66,65.32 632.47,67.62 635.19,70.16 637.80,72.92 640.27,75.90 642.59,79.05 644.74,82.37 646.70,85.81 648.46,89.37 650.01,93.00 651.33,96.69 652.41,100.40 653.25,104.11 653.83,107.79 654.16,111.41 654.23,114.94 654.04,118.35 653.60,121.62 652.89,124.73 651.94,127.65 650.75,130.36 649.33,132.84 647.68,135.07 645.83,137.03 643.78,138.70 641.55,140.09" fill="#3a3a3a" stroke="#000" stroke-width="1.00" stroke-linejoin="round" />
<polygon points="583.24,68.03 584.66,67.34 587.64,65.76 586.22,66.44" fill="#fff" stroke="none" />
<polygon points="584.66,67.34 586.13,66.77 589.11,65.19 587.64,65.76" fill="#fff" stroke="none" />
<polygon points="586.13,66.77 587.65,66.32 590.63,64.73 589.11,65.19" fill="#fff" stroke="none" />
<polygon points="587.65,66.32 589.22,65.97 592.20,64.39 590.63,64.73" fill="#fff" stroke="none" />
<polygon points="589.22,65.97 590.83,65.75 593.81,64.16 592.20,64.39" fill="#fff" stroke="none" />
<polygon points="590.83,65.75 592.48,65.64 595.46,64.05 593.81,64.16" fill="#fff" stroke="none" />
<polygon points="592.48,65.64 594.16,65.64 597.14,64.05 595.46,64.05" fill="#fff" stroke="none" />
<polygon points="594.16,65.64 595.87,65.76 598.86,64.18 597.14,64.05" fill="#fff" stroke="none" />
<polygon points="595.87,65.76 597.60,66.00 600.59,64.42 598.86,64.18" fill="#fff" stroke="none" />
<polygon points="597.60,66.00 599.36,66.36 602.34,64.77 600.59,64.42" fill="#fff" stroke="none" />
<polygon points="599.36,66.36 601.13,66.83 604.11,65.24 602.34,64.77" fill="#fff" stroke="none" />
<polygon points="601.13,66.83 602.90,67.41 605.89,65.82 604.11,65.24" fill="#fff" stroke="none" />
<polygon points="602.90,67.41 604.69,68.11 607.67,66.52 605.89,65.82" fill="#fff" stroke="none" />
<polygon points="604.69,68.11 606.47,68.91 609.45,67.32 607.67,66.52" fill="#fff" stroke="none" />
<polygon points="606.47,68.91 608.24,69.82 611.23,68.24 609.45,67.32" fill="#fff" stroke="none" />
<polygon points="608.24,69.82 610.01,70.84 613.00,69.25 611.23,68.24" fill="#fff" stroke="none" />
<polygon points="610.01,70.84 611.76,71.96 614.75,70.37 613.00,69.25" fill="#fff" stroke="none" />
<polygon points="611.76,71.96 613.50,73.18 616.48,71.59 614.75,70.37" fill="#fff" stroke="none" />
<polygon points="613.50,73.18 615.20,74.50 618.19,72.91 616.48,71.59" fill="#fff" stroke="none" />
<polygon points="615.20,74.50 616.88,75.90 619.87,74.32 618.19,72.91" fill="#fff" stroke="none" />
<polygon points="616.88,75.90 618.53,77.40 621.51,75.81 619.87,74.32" fill="#fff" stroke="none" />
<polygon points="618.53,77.40 620.13,78.98 623.12,77.39 621.51,75.81" fill="#fff" stroke="none" />
<polygon points="620.13,78.98 621.70,80.64 624.68,79.05 623.12,77.39" fill="#fff" stroke="none" />
<polygon points="621.70,80.64 623.22,82.38 626.20,80.79 624.68,79.05" fill="#fff" stroke="none" />
<polygon points="623.22,82.38 624.68,84.18 627.67,82.60 626.20,80.79" fill="#fff" stroke="none" />
<polygon points="624.68,84.18 626.09,86.06 629.08,84.47 627.67,82.60" fill="#fff" stroke="none" />
<polygon points="626.09,86.06 627.45,87.99 630.43,86.40 629.08,84.47" fill="#fff" stroke="none" />
<polygon points="627.45,87.99 628.74,89.98 631.72,88.39 630.43,86.40" fill="#fff" stroke="none" />
<polygon points="628.74,89.98 629.96,92.02 632.95,90.43 631.72,88.39" fill="#fff" stroke="none" />
<polygon points="629.96,92.02 631.11,94.10 634.10,92.51 632.95,90.43" fill="#fff" stroke="none" />
<polygon points="631.11,94.10 632.20,96.22 635.18,94.64 634.10,92.51" fill="#fff" stroke="none" />
<polygon points="632.20,96.22 633.20,98.38 636.19,96.79 635.18,94.64" fill="#fff" stroke="none" />
<polygon points="633.20,98.38 634.13,100.56 637.12,98.97 636.19,96.79" fill="#fff" stroke="none" />
<polygon points="634.13,100.56 634.98,102.76 637.96,101.18 637.12,98.97" fill="#fff" stroke="none" />
<polygon points="634.98,102.76 635.74,104.98 638.73,103.39 637.96,101.18" fill="#fff" stroke="none" />
<polygon points="635.74,104.98 636.42,107.21 639.40,105.62 638.73,103.39" fill="#fff" stroke="none" />
<polygon points="636.42,107.21 637.01,109.44 639.99,107.85 639.40,105.62" fill="#fff" stroke="none" />
<polygon points="637.01,109.44 637.51,111.66 640.50,110.07 639.99,107.85" fill="#fff" stroke="none" />
<polygon points="637.51,111.66 637.92,113.88 640.91,112.29 640.50,110.07" fill="#fff" stroke="none" />
<polygon points="637.92,113.88 638.24,116.08 641.23,114.49 640.91,112.29" fill="#fff" stroke="none" />
<polygon points="638.24,116.08 638.47,118.26 641.46,116.67 641.23,114.49" fill="#fff" stroke="none" />
<polygon points="638.47,118.26 638.61,120.41 641.59,118.82 641.46,116.67" fill="#fff" stroke="none" />
<polygon points="638.61,120.41 638.65,122.53 641.63,120.94 641.59,118.82" fill="#fff" stroke="none" />
<polygon points="638.65,122.53 638.60,124.60 641.58,123.02 641.63,120.94" fill="#fff" stroke="none" />
<polygon points="638.60,124.60 638.45,126.64 641.44,125.05 641.58,123.02" fill="#fff" stroke="none" />
<polygon points="638.45,126.64 638.22,128.62 641.20,127.03 641.44,125.05" fill="#fff" stroke="none" />
<polygon points="638.22,128.62 637.89,130.55 640.87,128.96 641.20,127.03" fill="#fff" stroke="none" />
<polygon points="637.89,130.55 637.47,132.41 640.45,130.83 640.87,128.96" fill="#fff" stroke="none" />
<polygon points="637.47,132.41 636.96,134.21 639.94,132.63 640.45,130.83" fill="#fff" stroke="none" />
<polygon points="636.96,134.21 636.36,135.94 639.34,134.36 639.94,132.63" fill="#fff" stroke="none" />
<polygon points="636.36,135.94 635.67,137.59 638.66,136.01 639.34,134.36" fill="#fff" stroke="none" />
<polygon points="635.67,137.59 634.90,139.17 637.88,137.58 638.66,136.01" fill="#fff" stroke="none" />
<polygon points="634.90,139.17 634.04,140.65 637.03,139.07 637.88,137.58" fill="#fff" stroke="none" />
<polygon points="634.04,140.65 633.11,142.05 636.09,140.46 637.03,139.07" fill="#fff" stroke="none" />
<polygon points="633.11,142.05 632.10,143.36 635.08,141.77 636.09,140.46" fill="#fff" stroke="none" />
<polygon points="632.10,143.36 631.01,144.57 633.99,142.98 635.08,141.77" fill="#fff" stroke="none" />
<polygon points="631.01,144.57 629.85,145.67 632.83,144.09 633.99,142.98" fill="#fff" stroke="none" />
<polygon points="629.85,145.67 628.62,146.68 631.60,145.09 632.83,144.09" fill="#fff" stroke="none" />
<polygon points="628.62,146.68 627.32,147.58 630.30,145.99 631.60,145.09" fill="#fff" stroke="none" />
<polygon points="627.32,147.58 625.96,148.37 628.95,146.79 630.30,145.99" fill="#fff" stroke="none" />
<polygon points="586.22,66.44 588.62,65.36 591.15,64.60 593.81,64.16 596.58,64.04 599.43,64.24 602.34,64.77 605.30,65.62 608.26,66.78 611.23,68.24 614.17,69.99 617.05,72.02 619.87,74.32 622.59,76.86 625.19,79.62 627.67,82.60 629.99,85.75 632.14,89.07 634.10,92.51 635.86,96.07 637.41,99.70 638.73,103.39 639.81,107.11 640.64,110.81 641.23,114.49 641.56,118.11 641.63,121.64 641.44,125.05 640.99,128.33 640.29,131.44 639.34,134.36 638.15,137.06 636.73,139.54 635.08,141.77 633.23,143.73 631.18,145.41 628.95,146.79 626.55,147.86 624.02,148.62 621.36,149.07 618.59,149.19 615.74,148.98 612.83,148.45 609.87,147.61 606.90,146.45 603.94,144.99 601.00,143.24 598.12,141.20 595.30,138.91 592.58,136.37 589.97,133.60 587.50,130.63 585.18,127.47 583.03,124.16 581.07,120.71 579.31,117.16 577.76,113.52 576.44,109.83 575.36,106.12 574.53,102.41 573.94,98.74 573.61,95.12 573.54,91.59 573.73,88.17 574.18,84.90 574.88,81.79 575.83,78.87 577.02,76.16 578.44,73.68 580.09,71.46 581.94,69.50 583.99,67.82" fill="none" stroke="#000" stroke-width="0.80" stroke-linejoin="round" />
<polygon points="591.30,64.38 594.25,63.83 598.23,61.71 595.28,62.26" fill="#f0f0f0" stroke="#000" stroke-width="0.35" stroke-linejoin="round" />
<polygon points="596.13,63.70 599.28,63.80 603.26,61.68 600.11,61.58" fill="#f0f0f0" stroke="#000" stroke-width="0.35" stroke-linejoin="round" />
<polygon points="601.25,64.06 604.53,64.82 608.51,62.70 605.23,61.95" fill="#f0f0f0" stroke="#000" stroke-width="0.35" stroke-linejoin="round" />
<polygon points="606.55,65.47 609.87,66.85 613.85,64.74 610.53,63.36" fill="#f0f0f0" stroke="#000" stroke-width="0.35" stroke-linejoin="round" />
<polygon points="611.89,67.88 615.17,69.86 619.15,67.74 615.87,65.77" fill="#f0f0f0" stroke="#000" stroke-width="0.35" stroke-linejoin="round" />
<polygon points="617.14,71.24 620.30,73.76 624.28,71.64 621.12,69.12" fill="#f0f0f0" stroke="#000" stroke-width="0.35" stroke-linejoin="round" />
<polygon points="622.18,75.46 625.13,78.46 629.11,76.35 626.16,73.34" fill="#f0f0f0" stroke="#000" stroke-width="0.35" stroke-linejoin="round" />
<polygon points="626.86,80.44 629.55,83.85 633.53,81.74 630.84,78.32" fill="#f0f0f0" stroke="#000" stroke-width="0.35" stroke-linejoin="round" />
<polygon points="631.10,86.05 633.44,89.79 637.42,87.67 635.08,83.93" fill="#f0f0f0" stroke="#000" stroke-width="0.35" stroke-linejoin="round" />
<polygon points="634.76,92.16 636.71,96.14 640.69,94.02 638.74,90.05" fill="#f0f0f0" stroke="#000" stroke-width="0.35" stroke-linejoin="round" />
<polygon points="637.78,98.62 639.29,102.73 643.27,100.61 641.76,96.50" fill="#f0f0f0" stroke="#000" stroke-width="0.35" stroke-linejoin="round" />
<polygon points="640.07,105.27 641.09,109.41 645.07,107.29 644.05,103.15" fill="#f0f0f0" stroke="#000" stroke-width="0.35" stroke-linejoin="round" />
<polygon points="641.57,111.94 642.09,116.01 646.07,113.90 645.55,109.82" fill="#f0f0f0" stroke="#000" stroke-width="0.35" stroke-linejoin="round" />
<polygon points="642.25,118.47 642.26,122.38 646.24,120.26 646.23,116.35" fill="#f0f0f0" stroke="#000" stroke-width="0.35" stroke-linejoin="round" />
<polygon points="642.10,124.70 641.59,128.34 645.57,126.23 646.08,122.58" fill="#f0f0f0" stroke="#000" stroke-width="0.35" stroke-linejoin="round" />
<polygon points="641.11,130.47 640.09,133.77 644.07,131.65 645.09,128.36" fill="#f0f0f0" stroke="#000" stroke-width="0.35" stroke-linejoin="round" />
<polygon points="639.32,135.66 637.82,138.51 641.80,136.39 643.30,133.54" fill="#f0f0f0" stroke="#000" stroke-width="0.35" stroke-linejoin="round" />
<polygon points="636.76,140.11 634.81,142.46 638.79,140.35 640.74,138.00" fill="#f0f0f0" stroke="#000" stroke-width="0.35" stroke-linejoin="round" />
<polygon points="633.49,143.73 631.15,145.52 635.13,143.41 637.47,141.62" fill="#f0f0f0" stroke="#000" stroke-width="0.35" stroke-linejoin="round" />
<polygon points="597.68,61.42 600.70,61.07 603.69,59.48 600.67,59.83" fill="#f0f0f0" stroke="#000" stroke-width="0.35" stroke-linejoin="round" />
<polygon points="602.61,61.05 605.81,61.35 608.79,59.76 605.60,59.46" fill="#f0f0f0" stroke="#000" stroke-width="0.35" stroke-linejoin="round" />
<polygon points="607.81,61.73 611.10,62.68 614.08,61.09 610.79,60.15" fill="#f0f0f0" stroke="#000" stroke-width="0.35" stroke-linejoin="round" />
<polygon points="613.13,63.45 616.44,65.01 619.43,63.42 616.12,61.86" fill="#f0f0f0" stroke="#000" stroke-width="0.35" stroke-linejoin="round" />
<polygon points="618.46,66.15 621.70,68.29 624.69,66.71 621.44,64.56" fill="#f0f0f0" stroke="#000" stroke-width="0.35" stroke-linejoin="round" />
<polygon points="623.66,69.78 626.76,72.45 629.74,70.86 626.64,68.19" fill="#f0f0f0" stroke="#000" stroke-width="0.35" stroke-linejoin="round" />
<polygon points="628.60,74.23 631.48,77.37 634.46,75.78 631.58,72.65" fill="#f0f0f0" stroke="#000" stroke-width="0.35" stroke-linejoin="round" />
<polygon points="633.16,79.42 635.75,82.94 638.74,81.35 636.15,77.83" fill="#f0f0f0" stroke="#000" stroke-width="0.35" stroke-linejoin="round" />
<polygon points="637.23,85.19 639.47,89.01 642.45,87.43 640.22,83.61" fill="#f0f0f0" stroke="#000" stroke-width="0.35" stroke-linejoin="round" />
<polygon points="640.71,91.42 642.54,95.45 645.52,93.86 643.70,89.84" fill="#f0f0f0" stroke="#000" stroke-width="0.35" stroke-linejoin="round" />
<polygon points="643.52,97.96 644.89,102.09 647.87,100.50 646.50,96.37" fill="#f0f0f0" stroke="#000" stroke-width="0.35" stroke-linejoin="round" />
<polygon points="645.58,104.63 646.46,108.76 649.44,107.17 648.56,103.04" fill="#f0f0f0" stroke="#000" stroke-width="0.35" stroke-linejoin="round" />
<polygon points="646.84,111.27 647.21,115.31 650.19,113.72 649.82,109.69" fill="#f0f0f0" stroke="#000" stroke-width="0.35" stroke-linejoin="round" />
<polygon points="647.27,117.73 647.12,121.57 650.10,119.98 650.26,116.14" fill="#f0f0f0" stroke="#000" stroke-width="0.35" stroke-linejoin="round" />
<polygon points="646.87,123.84 646.20,127.39 649.18,125.80 649.85,122.25" fill="#f0f0f0" stroke="#000" stroke-width="0.35" stroke-linejoin="round" />
<polygon points="645.63,129.45 644.47,132.62 647.45,131.03 648.62,127.87" fill="#f0f0f0" stroke="#000" stroke-width="0.35" stroke-linejoin="round" />
<polygon points="643.60,134.43 641.96,137.14 644.95,135.55 646.59,132.84" fill="#f0f0f0" stroke="#000" stroke-width="0.35" stroke-linejoin="round" />
<polygon points="640.82,138.65 638.75,140.83 641.74,139.24 643.81,137.06" fill="#f0f0f0" stroke="#000" stroke-width="0.35" stroke-linejoin="round" />
<polygon points="637.36,142.00 634.92,143.61 637.90,142.02 640.35,140.41" fill="#f0f0f0" stroke="#000" stroke-width="0.35" stroke-linejoin="round" />
<polygon points="600.25,59.61 603.20,59.07 605.53,57.83 602.57,58.38" fill="#f0f0f0" stroke="#000" stroke-width="0.35" stroke-linejoin="round" />
<polygon points="605.08,58.93 608.23,59.04 610.55,57.80 607.40,57.70" fill="#f0f0f0" stroke="#000" stroke-width="0.35" stroke-linejoin="round" />
<polygon points="610.21,59.30 613.48,60.05 615.80,58.82 612.53,58.07" fill="#f0f0f0" stroke="#000" stroke-width="0.35" stroke-linejoin="round" />
<polygon points="615.51,60.71 618.82,62.09 621.14,60.86 617.83,59.48" fill="#f0f0f0" stroke="#000" stroke-width="0.35" stroke-linejoin="round" />
<polygon points="620.85,63.12 624.12,65.10 626.44,63.86 623.17,61.89" fill="#f0f0f0" stroke="#000" stroke-width="0.35" stroke-linejoin="round" />
<polygon points="626.10,66.48 629.25,69.00 631.57,67.77 628.42,65.24" fill="#f0f0f0" stroke="#000" stroke-width="0.35" stroke-linejoin="round" />
<polygon points="631.13,70.70 634.09,73.70 636.41,72.47 633.45,69.46" fill="#f0f0f0" stroke="#000" stroke-width="0.35" stroke-linejoin="round" />
<polygon points="635.82,75.68 638.50,79.09 640.83,77.86 638.14,74.44" fill="#f0f0f0" stroke="#000" stroke-width="0.35" stroke-linejoin="round" />
<polygon points="640.05,81.29 642.40,85.03 644.72,83.79 642.37,80.06" fill="#f0f0f0" stroke="#000" stroke-width="0.35" stroke-linejoin="round" />
<polygon points="643.72,87.40 645.67,91.37 647.99,90.14 646.04,86.17" fill="#f0f0f0" stroke="#000" stroke-width="0.35" stroke-linejoin="round" />
<polygon points="646.73,93.86 648.24,97.97 650.56,96.73 649.05,92.62" fill="#f0f0f0" stroke="#000" stroke-width="0.35" stroke-linejoin="round" />
<polygon points="649.02,100.51 650.05,104.65 652.37,103.41 651.34,99.27" fill="#f0f0f0" stroke="#000" stroke-width="0.35" stroke-linejoin="round" />
<polygon points="650.53,107.18 651.05,111.25 653.37,110.02 652.85,105.94" fill="#f0f0f0" stroke="#000" stroke-width="0.35" stroke-linejoin="round" />
<polygon points="651.21,113.71 651.21,117.62 653.54,116.38 653.53,112.47" fill="#f0f0f0" stroke="#000" stroke-width="0.35" stroke-linejoin="round" />
<polygon points="651.06,119.94 650.54,123.58 652.86,122.35 653.38,118.70" fill="#f0f0f0" stroke="#000" stroke-width="0.35" stroke-linejoin="round" />
<polygon points="650.07,125.71 649.05,129.00 651.37,127.77 652.39,124.48" fill="#f0f0f0" stroke="#000" stroke-width="0.35" stroke-linejoin="round" />
<polygon points="648.27,130.89 646.77,133.75 649.09,132.51 650.60,129.66" fill="#f0f0f0" stroke="#000" stroke-width="0.35" stroke-linejoin="round" />
<polygon points="645.71,135.35 643.77,137.70 646.09,136.47 648.03,134.12" fill="#f0f0f0" stroke="#000" stroke-width="0.35" stroke-linejoin="round" />
<polygon points="642.45,138.97 640.11,140.76 642.43,139.53 644.77,137.74" fill="#f0f0f0" stroke="#000" stroke-width="0.35" stroke-linejoin="round" />
<polygon points="583.71,68.91 586.05,67.86 588.53,67.11 591.13,66.68 593.84,66.56 596.63,66.76 599.47,67.28 602.36,68.11 605.27,69.24 608.16,70.67 611.04,72.38 613.86,74.37 616.61,76.61 619.27,79.10 621.82,81.80 624.24,84.71 626.51,87.80 628.61,91.04 630.53,94.41 632.25,97.89 633.77,101.44 635.06,105.05 636.11,108.68 636.93,112.31 637.50,115.90 637.83,119.44 637.89,122.89 637.71,126.23 637.27,129.44 636.59,132.48 635.66,135.33 634.49,137.98 633.10,140.41 631.49,142.58 629.68,144.50 627.67,146.14 625.49,147.49 623.15,148.54 620.67,149.29 618.07,149.72 615.36,149.84 612.57,149.64 609.73,149.12 606.84,148.29 603.93,147.16 601.04,145.73 598.16,144.02 595.34,142.03 592.59,139.79 589.93,137.30 587.38,134.60 584.96,131.69 582.69,128.60 580.59,125.36 578.67,121.99 576.95,118.51 575.43,114.96 574.14,111.35 573.09,107.72 572.27,104.09 571.70,100.50 571.37,96.96 571.31,93.51 571.49,90.17 571.93,86.96 572.61,83.92 573.54,81.07 574.71,78.42 576.10,75.99 577.71,73.82 579.52,71.90 581.53,70.26" fill="#fff" stroke="#000" stroke-width="1.10" stroke-linejoin="round" />
<polygon points="585.12,71.56 587.30,70.58 589.61,69.88 592.04,69.48 594.56,69.37 597.16,69.56 599.82,70.04 602.51,70.81 605.22,71.86 607.92,73.20 610.60,74.80 613.24,76.65 615.80,78.74 618.28,81.06 620.66,83.58 622.92,86.30 625.03,89.17 626.99,92.20 628.78,95.34 630.39,98.58 631.80,101.90 633.00,105.26 633.99,108.65 634.75,112.03 635.29,115.39 635.59,118.68 635.65,121.90 635.48,125.02 635.07,128.00 634.43,130.84 633.56,133.50 632.48,135.97 631.18,138.23 629.68,140.27 627.99,142.05 626.12,143.58 624.08,144.84 621.90,145.82 619.59,146.52 617.16,146.92 614.64,147.03 612.04,146.84 609.38,146.36 606.69,145.59 603.98,144.54 601.28,143.20 598.60,141.60 595.96,139.75 593.40,137.66 590.92,135.34 588.54,132.82 586.28,130.10 584.17,127.23 582.21,124.20 580.42,121.06 578.81,117.82 577.40,114.50 576.20,111.14 575.21,107.75 574.45,104.37 573.91,101.01 573.61,97.72 573.55,94.50 573.72,91.38 574.13,88.40 574.77,85.56 575.64,82.90 576.72,80.43 578.02,78.17 579.52,76.13 581.21,74.35 583.08,72.82" fill="none" stroke="#000" stroke-width="0.70" stroke-linejoin="round" />
<polygon points="591.25,95.11 592.17,94.67 593.16,94.35 594.20,94.17 595.30,94.13 596.45,94.22 597.62,94.45 598.83,94.81 600.04,95.30 601.27,95.92 602.49,96.66 603.71,97.52 604.90,98.49 606.06,99.56 607.19,100.73 608.26,101.98 609.29,103.31 610.24,104.70 611.13,106.15 611.94,107.64 612.67,109.17 613.31,110.72 613.86,112.28 614.30,113.84 614.65,115.38 614.89,116.89 615.03,118.37 615.06,119.80 614.98,121.18 614.80,122.48 614.51,123.70 614.12,124.83 613.63,125.87 613.04,126.80 612.36,127.62 611.60,128.31 610.75,128.89 609.83,129.33 608.84,129.65 607.80,129.83 606.70,129.87 605.55,129.78 604.38,129.55 603.17,129.19 601.96,128.70 600.73,128.08 599.51,127.34 598.29,126.48 597.10,125.51 595.94,124.44 594.81,123.27 593.74,122.02 592.71,120.69 591.76,119.30 590.87,117.85 590.06,116.36 589.33,114.83 588.69,113.28 588.14,111.72 587.70,110.16 587.35,108.62 587.11,107.11 586.97,105.63 586.94,104.20 587.02,102.82 587.20,101.52 587.49,100.30 587.88,99.17 588.37,98.13 588.96,97.20 589.64,96.38 590.40,95.69" fill="#222" stroke="#000" stroke-width="1.00" stroke-linejoin="round" />
<polygon points="592.50,97.28 593.30,96.89 594.16,96.62 595.08,96.46 596.03,96.42 597.03,96.50 598.06,96.70 599.10,97.01 600.17,97.44 601.24,97.98 602.30,98.63 603.36,99.38 604.40,100.22 605.41,101.16 606.39,102.17 607.33,103.26 608.22,104.42 609.06,105.64 609.83,106.90 610.54,108.20 611.18,109.53 611.73,110.88 612.21,112.24 612.60,113.60 612.90,114.94 613.11,116.27 613.23,117.56 613.26,118.80 613.19,120.00 613.03,121.13 612.78,122.20 612.44,123.19 612.01,124.09 611.50,124.90 610.90,125.61 610.24,126.22 609.50,126.72 608.70,127.11 607.84,127.38 606.92,127.54 605.97,127.58 604.97,127.50 603.94,127.30 602.90,126.99 601.83,126.56 600.76,126.02 599.70,125.37 598.64,124.62 597.60,123.78 596.59,122.84 595.61,121.83 594.67,120.74 593.78,119.58 592.94,118.36 592.17,117.10 591.46,115.80 590.82,114.47 590.27,113.12 589.79,111.76 589.40,110.40 589.10,109.06 588.89,107.73 588.77,106.44 588.74,105.20 588.81,104.00 588.97,102.87 589.22,101.80 589.56,100.81 589.99,99.91 590.50,99.10 591.10,98.39 591.76,97.78" fill="#fff" stroke="#000" stroke-width="0.60" stroke-linejoin="round" />
<polygon points="593.25,98.58 593.98,98.22 594.77,97.97 595.60,97.83 596.47,97.80 597.38,97.87 598.32,98.05 599.27,98.34 600.24,98.73 601.21,99.22 602.19,99.81 603.15,100.49 604.10,101.26 605.02,102.11 605.92,103.04 606.77,104.03 607.59,105.09 608.35,106.20 609.05,107.35 609.70,108.54 610.28,109.75 610.79,110.98 611.22,112.22 611.57,113.46 611.85,114.68 612.04,115.89 612.15,117.07 612.18,118.20 612.11,119.29 611.97,120.33 611.74,121.30 611.43,122.20 611.04,123.02 610.57,123.76 610.03,124.41 609.42,124.97 608.75,125.42 608.02,125.78 607.23,126.03 606.40,126.17 605.53,126.20 604.62,126.13 603.68,125.95 602.73,125.66 601.76,125.27 600.79,124.78 599.81,124.19 598.85,123.51 597.90,122.74 596.98,121.89 596.08,120.96 595.23,119.97 594.41,118.91 593.65,117.80 592.95,116.65 592.30,115.46 591.72,114.25 591.21,113.02 590.78,111.78 590.43,110.54 590.15,109.32 589.96,108.11 589.85,106.93 589.82,105.80 589.89,104.71 590.03,103.67 590.26,102.70 590.57,101.80 590.96,100.98 591.43,100.24 591.97,99.59 592.58,99.03" fill="#333" stroke="#000" stroke-width="0.80" stroke-linejoin="round" />
<polygon points="595.89,99.94 596.50,99.64 597.16,99.44 597.86,99.32 598.59,99.29 599.35,99.35 600.13,99.50 600.94,99.74 601.75,100.07 602.57,100.48 603.38,100.98 604.19,101.55 604.99,102.19 605.76,102.91 606.51,103.68 607.23,104.52 607.91,105.40 608.55,106.33 609.14,107.30 609.68,108.30 610.17,109.31 610.59,110.35 610.96,111.39 611.25,112.42 611.49,113.45 611.65,114.46 611.74,115.45 611.76,116.40 611.71,117.32 611.58,118.19 611.39,119.00 611.13,119.76 610.80,120.45 610.41,121.07 609.96,121.61 609.45,122.08 608.89,122.46 608.27,122.76 607.61,122.96 606.92,123.08 606.18,123.11 605.42,123.05 604.64,122.90 603.84,122.66 603.02,122.33 602.21,121.92 601.39,121.42 600.58,120.85 599.79,120.21 599.01,119.49 598.26,118.72 597.54,117.88 596.86,117.00 596.22,116.07 595.63,115.10 595.09,114.10 594.60,113.09 594.18,112.05 593.81,111.01 593.52,109.98 593.29,108.95 593.12,107.94 593.03,106.95 593.01,106.00 593.06,105.08 593.19,104.21 593.38,103.40 593.64,102.64 593.97,101.95 594.36,101.33 594.81,100.79 595.32,100.32" fill="#fff" stroke="#000" stroke-width="1.00" stroke-linejoin="round" />
<polygon points="598.27,100.87 598.79,100.62 599.35,100.45 599.94,100.34 600.56,100.32 601.20,100.37 601.87,100.50 602.54,100.70 603.23,100.98 603.92,101.33 604.61,101.75 605.30,102.23 605.97,102.78 606.63,103.38 607.26,104.04 607.87,104.75 608.45,105.50 608.99,106.28 609.49,107.10 609.94,107.94 610.36,108.80 610.72,109.68 611.02,110.56 611.28,111.44 611.47,112.31 611.61,113.16 611.69,114.00 611.70,114.80 611.66,115.58 611.56,116.31 611.39,117.00 611.17,117.64 610.89,118.22 610.56,118.75 610.18,119.21 609.75,119.60 609.27,119.93 608.75,120.18 608.20,120.35 607.60,120.46 606.98,120.48 606.34,120.43 605.68,120.30 605.00,120.10 604.31,119.82 603.62,119.47 602.93,119.05 602.24,118.57 601.57,118.02 600.92,117.42 600.28,116.76 599.67,116.05 599.10,115.30 598.56,114.52 598.06,113.70 597.60,112.86 597.19,112.00 596.83,111.12 596.52,110.24 596.27,109.36 596.07,108.49 595.93,107.64 595.86,106.80 595.84,106.00 595.88,105.22 595.99,104.49 596.15,103.80 596.37,103.16 596.65,102.58 596.98,102.05 597.36,101.59 597.79,101.20" fill="#555" stroke="#000" stroke-width="1.00" stroke-linejoin="round" />
<polygon points="600.66,101.81 601.08,101.60 601.54,101.46 602.02,101.37 602.53,101.35 603.05,101.39 603.60,101.50 604.15,101.67 604.72,101.89 605.28,102.18 605.85,102.52 606.41,102.92 606.96,103.36 607.49,103.86 608.01,104.40 608.51,104.97 608.98,105.59 609.42,106.23 609.83,106.90 610.21,107.59 610.54,108.29 610.84,109.01 611.09,109.73 611.30,110.45 611.46,111.16 611.57,111.86 611.63,112.54 611.65,113.20 611.61,113.84 611.53,114.44 611.39,115.00 611.21,115.52 610.99,116.00 610.71,116.43 610.40,116.81 610.05,117.13 609.66,117.39 609.23,117.60 608.78,117.74 608.29,117.83 607.79,117.85 607.26,117.81 606.72,117.70 606.16,117.53 605.60,117.31 605.03,117.02 604.47,116.68 603.91,116.28 603.36,115.84 602.82,115.34 602.30,114.80 601.80,114.23 601.33,113.61 600.89,112.97 600.48,112.30 600.11,111.61 599.77,110.91 599.48,110.19 599.22,109.47 599.02,108.75 598.86,108.04 598.75,107.34 598.68,106.66 598.67,106.00 598.70,105.36 598.79,104.76 598.92,104.20 599.10,103.68 599.33,103.20 599.60,102.77 599.91,102.39 600.27,102.07" fill="none" stroke="#fff" stroke-width="1.00" stroke-linejoin="round" />
<polygon points="603.04,102.74 603.37,102.58 603.73,102.47 604.10,102.40 604.50,102.39 604.91,102.42 605.33,102.50 605.76,102.63 606.20,102.81 606.64,103.03 607.08,103.29 607.51,103.60 607.94,103.95 608.36,104.33 608.76,104.75 609.15,105.20 609.52,105.68 609.86,106.18 610.18,106.70 610.47,107.24 610.73,107.78 610.96,108.34 611.16,108.90 611.32,109.46 611.44,110.01 611.53,110.56 611.58,111.09 611.59,111.60 611.56,112.09 611.50,112.56 611.39,113.00 611.25,113.41 611.08,113.78 610.86,114.11 610.62,114.41 610.35,114.66 610.04,114.86 609.71,115.02 609.36,115.13 608.98,115.20 608.59,115.21 608.18,115.18 607.75,115.10 607.32,114.97 606.89,114.79 606.45,114.57 606.01,114.31 605.57,114.00 605.14,113.65 604.73,113.27 604.32,112.85 603.94,112.40 603.57,111.92 603.22,111.42 602.91,110.90 602.61,110.36 602.35,109.82 602.12,109.26 601.93,108.70 601.77,108.14 601.64,107.59 601.56,107.04 601.51,106.51 601.50,106.00 601.52,105.51 601.59,105.04 601.69,104.60 601.83,104.19 602.01,103.82 602.22,103.49 602.46,103.19 602.74,102.94" fill="#444" stroke="#fff" stroke-width="0.80" stroke-linejoin="round" />
</g>
<g id="rings_14_upper">
<polygon points="558.21,122.01 558.86,121.66 559.56,121.40 560.30,121.23 561.08,121.15 561.89,121.16 562.72,121.27 563.58,121.46 564.45,121.75 565.32,122.12 566.19,122.58 567.06,123.11 567.91,123.73 568.74,124.41 569.54,125.16 570.31,125.98 571.04,126.85 571.73,127.76 572.36,128.72 572.95,129.72 573.47,130.74 573.93,131.77 574.32,132.82 574.65,133.87 574.90,134.92 575.08,135.95 575.18,136.97 575.21,137.95 575.16,138.90 575.04,139.80 574.84,140.66 574.57,141.45 574.22,142.19 573.81,142.85 573.33,143.45 572.79,143.96 572.19,144.39 571.54,144.74 570.84,145.00 570.10,145.17 569.32,145.25 568.51,145.24 567.68,145.13 566.82,144.94 565.95,144.65 565.08,144.28 564.21,143.82 563.34,143.29 562.49,142.67 561.66,141.99 560.86,141.24 560.09,140.42 559.36,139.55 558.67,138.64 558.04,137.68 557.45,136.68 556.93,135.66 556.47,134.63 556.08,133.58 555.75,132.53 555.50,131.48 555.32,130.45 555.22,129.43 555.19,128.45 555.24,127.50 555.36,126.60 555.56,125.74 555.83,124.95 556.18,124.21 556.59,123.55 557.07,122.95 557.61,122.44" fill="none" stroke="#000" stroke-width="1.80" stroke-linejoin="round" />
<polygon points="538.11,133.71 538.76,133.36 539.46,133.10 540.20,132.93 540.98,132.85 541.79,132.86 542.62,132.97 543.48,133.16 544.35,133.45 545.22,133.82 546.09,134.28 546.96,134.81 547.81,135.43 548.64,136.11 549.44,136.86 550.21,137.68 550.94,138.55 551.63,139.46 552.26,140.42 552.85,141.42 553.37,142.44 553.83,143.47 554.22,144.52 554.55,145.57 554.80,146.62 554.98,147.65 555.08,148.67 555.11,149.65 555.06,150.60 554.94,151.50 554.74,152.36 554.47,153.15 554.12,153.89 553.71,154.55 553.23,155.15 552.69,155.66 552.09,156.09 551.44,156.44 550.74,156.70 550.00,156.87 549.22,156.95 548.41,156.94 547.58,156.83 546.72,156.64 545.85,156.35 544.98,155.98 544.11,155.52 543.24,154.99 542.39,154.37 541.56,153.69 540.76,152.94 539.99,152.12 539.26,151.25 538.57,150.34 537.94,149.38 537.35,148.38 536.83,147.36 536.37,146.33 535.98,145.28 535.65,144.23 535.40,143.18 535.22,142.15 535.12,141.13 535.09,140.15 535.14,139.20 535.26,138.30 535.46,137.44 535.73,136.65 536.08,135.91 536.49,135.25 536.97,134.65 537.51,134.14" fill="none" stroke="#000" stroke-width="1.80" stroke-linejoin="round" />
</g>
<g id="gear_1">
<polygon points="475.42,121.95 473.35,117.39 474.40,116.88 476.89,121.24 477.57,120.96 475.72,116.34 476.83,115.95 479.13,120.42 479.84,120.21 478.21,115.56 479.38,115.29 481.47,119.84 482.22,119.72 480.82,115.05 482.03,114.91 483.91,119.52 484.69,119.47 483.54,114.81 484.78,114.80 486.44,119.45 487.24,119.48 486.33,114.86 487.62,114.97 489.04,119.64 489.85,119.75 489.20,115.18 490.52,115.41 491.69,120.08 492.53,120.26 492.13,115.78 493.46,116.13 494.39,120.76 495.24,121.03 495.10,116.64 496.45,117.12 497.13,121.70 497.98,122.04 498.10,117.78 499.46,118.38 499.88,122.87 500.73,123.29 501.11,119.18 502.47,119.89 502.63,124.29 503.48,124.77 504.12,120.83 505.47,121.66 505.37,125.93 506.22,126.48 507.11,122.73 508.44,123.66 508.09,127.79 508.93,128.41 510.07,124.87 511.38,125.90 510.77,129.86 511.59,130.55 512.97,127.23 514.26,128.36 513.40,132.14 514.20,132.88 515.82,129.81 517.07,131.03 515.96,134.60 516.74,135.40 518.58,132.58 519.80,133.89 518.45,137.23 519.20,138.09 521.26,135.54 522.43,136.94 520.84,140.04 521.56,140.93 523.83,138.68 524.94,140.14 523.13,142.99 523.81,143.93 526.28,141.97 527.34,143.50 525.30,146.07 525.95,147.05 528.60,145.40 529.59,146.98 527.35,149.27 527.96,150.28 530.77,148.95 531.70,150.58 529.26,152.57 529.82,153.61 532.79,152.60 533.65,154.27 531.02,155.96 531.54,157.02 534.65,156.34 535.43,158.04 532.63,159.41 533.10,160.49 536.33,160.14 537.03,161.87 534.08,162.92 534.49,164.01 537.84,163.99 538.45,165.73 535.35,166.45 535.71,167.55 539.15,167.86 539.67,169.61 536.45,170.00 536.75,171.10 540.26,171.75 540.70,173.49 537.36,173.55 537.61,174.64 541.17,175.62 541.52,177.35 538.09,177.07 538.28,178.16 541.88,179.45 542.13,181.16 538.63,180.55 538.75,181.62 542.37,183.24 542.52,184.92 538.97,183.98 539.03,185.03 542.65,186.95 542.71,188.59 539.11,187.33 539.12,188.35 542.72,190.57 542.68,192.17 539.06,190.59 539.00,191.58 542.57,194.08 542.43,195.62 538.81,193.74 538.70,194.69 542.21,197.47 541.97,198.95 538.37,196.76 538.19,197.67 541.63,200.71 541.31,202.12 537.73,199.64 537.50,200.50 540.85,203.79 540.43,205.12 536.91,202.37 536.62,203.18 539.86,206.70 539.35,207.94 535.90,204.93 535.55,205.68 538.67,209.41 538.07,210.57 534.71,207.30 534.30,208.00 537.28,211.92 536.60,212.98 533.34,209.49 532.89,210.12 535.71,214.21 534.94,215.17 531.81,211.46 531.30,212.03 533.96,216.27 533.12,217.12 530.12,213.22 529.56,213.73 532.04,218.09 531.12,218.83 528.28,214.76 527.68,215.19 529.96,219.67 528.97,220.29 526.29,216.07 525.65,216.42 527.72,220.98 526.67,221.49 524.18,217.13 523.50,217.41 525.35,222.03 524.24,222.42 521.94,217.95 521.23,218.16 522.86,222.81 521.69,223.08 519.60,218.53 518.85,218.65 520.25,223.32 519.04,223.46 517.16,218.85 516.38,218.90 517.53,223.56 516.28,223.57 514.63,218.92 513.83,218.89 514.74,223.51 513.45,223.40 512.03,218.73 511.22,218.62 511.87,223.19 510.55,222.96 509.38,218.29 508.54,218.11 508.94,222.59 507.61,222.24 506.67,217.61 505.83,217.34 505.97,221.73 504.62,221.25 503.94,216.67 503.09,216.33 502.97,220.59 501.61,219.99 501.19,215.50 500.34,215.08 499.96,219.19 498.60,218.48 498.44,214.08 497.59,213.60 496.95,217.54 495.60,216.71 495.69,212.44 494.85,211.89 493.96,215.64 492.62,214.71 492.98,210.58 492.14,209.96 491.00,213.50 489.69,212.47 490.30,208.51 489.48,207.82 488.10,211.14 486.81,210.01 487.67,206.23 486.87,205.49 485.25,208.56 484.00,207.34 485.11,203.77 484.33,202.97 482.49,205.79 481.27,204.48 482.62,201.13 481.87,200.28 479.81,202.82 478.64,201.43 480.23,198.33 479.51,197.43 477.24,199.69 476.12,198.23 477.94,195.38 477.26,194.44 474.79,196.40 473.73,194.87 475.77,192.30 475.12,191.32 472.47,192.97 471.48,191.39 473.72,189.10 473.11,188.09 470.30,189.42 469.37,187.79 471.81,185.80 471.25,184.76 468.28,185.77 467.42,184.10 470.05,182.41 469.53,181.35 466.42,182.03 465.64,180.33 468.44,178.96 467.97,177.88 464.74,178.23 464.04,176.50 466.99,175.45 466.58,174.36 463.23,174.38 462.62,172.64 465.72,171.92 465.36,170.82 461.92,170.50 461.40,168.76 464.62,168.37 464.32,167.27 460.81,166.62 460.37,164.88 463.71,164.82 463.46,163.73 459.90,162.75 459.55,161.02 462.98,161.30 462.79,160.21 459.19,158.92 458.94,157.21 462.44,157.82 462.32,156.75 458.70,155.13 458.54,153.45 462.10,154.39 462.04,153.34 458.42,151.42 458.36,149.78 461.96,151.04 461.95,150.02 458.35,147.80 458.39,146.20 462.01,147.78 462.07,146.79 458.50,144.29 458.64,142.75 462.26,144.63 462.37,143.68 458.86,140.90 459.09,139.42 462.70,141.61 462.88,140.70 459.44,137.66 459.76,136.25 463.34,138.73 463.57,137.87 460.22,134.58 460.64,133.25 464.16,136.00 464.45,135.19 461.21,131.67 461.72,130.43 465.17,133.44 465.52,132.68 462.40,128.96 463.00,127.80 466.36,131.07 466.77,130.37 463.79,126.45 464.47,125.39 467.73,128.88 468.18,128.25 465.36,124.16 466.13,123.20 469.26,126.91 469.77,126.34 467.11,122.10 467.95,121.25 470.95,125.14 471.51,124.64 469.03,120.28 469.95,119.54 472.79,123.61 473.39,123.18 471.11,118.70 472.10,118.08 474.78,122.30" fill="#fff" stroke="#000" stroke-width="0.50" stroke-linejoin="round" />
<polygon points="459.40,183.64 462.20,182.27 468.44,178.96 465.64,180.33" fill="#333" stroke="#000" stroke-width="0.50" stroke-linejoin="round" />
<polygon points="468.89,194.64 466.24,196.29 472.47,192.97 475.12,191.32" fill="#333" stroke="#000" stroke-width="0.50" stroke-linejoin="round" />
<polygon points="457.80,179.82 460.76,178.77 466.99,175.45 464.04,176.50" fill="#333" stroke="#000" stroke-width="0.50" stroke-linejoin="round" />
<polygon points="471.02,197.76 468.56,199.72 474.79,196.40 477.26,194.44" fill="#333" stroke="#000" stroke-width="0.50" stroke-linejoin="round" />
<polygon points="456.39,175.95 459.48,175.23 465.72,171.92 462.62,172.64" fill="#333" stroke="#000" stroke-width="0.50" stroke-linejoin="round" />
<polygon points="473.28,200.75 471.01,203.01 477.24,199.69 479.51,197.43" fill="#333" stroke="#000" stroke-width="0.50" stroke-linejoin="round" />
<polygon points="455.16,172.07 458.38,171.68 464.62,168.37 461.40,168.76" fill="#333" stroke="#000" stroke-width="0.50" stroke-linejoin="round" />
<polygon points="475.64,203.60 473.58,206.14 479.81,202.82 481.87,200.28" fill="#333" stroke="#000" stroke-width="0.50" stroke-linejoin="round" />
<polygon points="454.14,168.19 457.47,168.14 463.71,164.82 460.37,164.88" fill="#333" stroke="#000" stroke-width="0.50" stroke-linejoin="round" />
<polygon points="478.09,206.29 476.25,209.10 482.49,205.79 484.33,202.97" fill="#333" stroke="#000" stroke-width="0.50" stroke-linejoin="round" />
<polygon points="453.32,164.34 456.74,164.61 462.98,161.30 459.55,161.02" fill="#333" stroke="#000" stroke-width="0.50" stroke-linejoin="round" />
<polygon points="480.63,208.81 479.02,211.88 485.25,208.56 486.87,205.49" fill="#333" stroke="#000" stroke-width="0.50" stroke-linejoin="round" />
<polygon points="452.71,160.52 456.21,161.13 462.44,157.82 458.94,157.21" fill="#333" stroke="#000" stroke-width="0.50" stroke-linejoin="round" />
<polygon points="483.24,211.14 481.86,214.46 488.10,211.14 489.48,207.82" fill="#333" stroke="#000" stroke-width="0.50" stroke-linejoin="round" />
<polygon points="452.31,156.77 455.87,157.71 462.10,154.39 458.54,153.45" fill="#333" stroke="#000" stroke-width="0.50" stroke-linejoin="round" />
<polygon points="485.91,213.27 484.77,216.82 491.00,213.50 492.14,209.96" fill="#333" stroke="#000" stroke-width="0.50" stroke-linejoin="round" />
<polygon points="452.13,153.09 455.72,154.36 461.96,151.04 458.36,149.78" fill="#333" stroke="#000" stroke-width="0.50" stroke-linejoin="round" />
<polygon points="488.61,215.20 487.73,218.95 493.96,215.64 494.85,211.89" fill="#333" stroke="#000" stroke-width="0.50" stroke-linejoin="round" />
<polygon points="452.16,149.52 455.77,151.10 462.01,147.78 458.39,146.20" fill="#333" stroke="#000" stroke-width="0.50" stroke-linejoin="round" />
<polygon points="491.35,216.91 490.72,220.85 496.95,217.54 497.59,213.60" fill="#333" stroke="#000" stroke-width="0.50" stroke-linejoin="round" />
<polygon points="452.40,146.06 456.02,147.95 462.26,144.63 458.64,142.75" fill="#333" stroke="#000" stroke-width="0.50" stroke-linejoin="round" />
<polygon points="494.10,218.40 493.72,222.51 499.96,219.19 500.34,215.08" fill="#333" stroke="#000" stroke-width="0.50" stroke-linejoin="round" />
<polygon points="452.86,142.74 456.47,144.93 462.70,141.61 459.09,139.42" fill="#333" stroke="#000" stroke-width="0.50" stroke-linejoin="round" />
<polygon points="496.86,219.65 496.73,223.90 502.97,220.59 503.09,216.33" fill="#333" stroke="#000" stroke-width="0.50" stroke-linejoin="round" />
<polygon points="453.53,139.57 457.10,142.04 463.34,138.73 459.76,136.25" fill="#333" stroke="#000" stroke-width="0.50" stroke-linejoin="round" />
<polygon points="499.60,220.66 499.73,225.04 505.97,221.73 505.83,217.34" fill="#333" stroke="#000" stroke-width="0.50" stroke-linejoin="round" />
<polygon points="454.41,136.56 457.93,139.32 464.16,136.00 460.64,133.25" fill="#333" stroke="#000" stroke-width="0.50" stroke-linejoin="round" />
<polygon points="502.31,221.42 502.70,225.91 508.94,222.59 508.54,218.11" fill="#333" stroke="#000" stroke-width="0.50" stroke-linejoin="round" />
<polygon points="455.49,133.74 458.94,136.76 465.17,133.44 461.72,130.43" fill="#333" stroke="#000" stroke-width="0.50" stroke-linejoin="round" />
<polygon points="504.98,221.94 505.63,226.51 511.87,223.19 511.22,218.62" fill="#333" stroke="#000" stroke-width="0.50" stroke-linejoin="round" />
<polygon points="456.77,131.12 460.13,134.38 466.36,131.07 463.00,127.80" fill="#333" stroke="#000" stroke-width="0.50" stroke-linejoin="round" />
<polygon points="507.60,222.20 508.50,226.83 514.74,223.51 513.83,218.89" fill="#333" stroke="#000" stroke-width="0.50" stroke-linejoin="round" />
<polygon points="458.24,128.71 461.49,132.20 467.73,128.88 464.47,125.39" fill="#333" stroke="#000" stroke-width="0.50" stroke-linejoin="round" />
<polygon points="510.15,222.21 511.30,226.87 517.53,223.56 516.38,218.90" fill="#333" stroke="#000" stroke-width="0.50" stroke-linejoin="round" />
<polygon points="459.89,126.52 463.02,130.22 469.26,126.91 466.13,123.20" fill="#333" stroke="#000" stroke-width="0.50" stroke-linejoin="round" />
<polygon points="512.62,221.97 514.01,226.64 520.25,223.32 518.85,218.65" fill="#333" stroke="#000" stroke-width="0.50" stroke-linejoin="round" />
<polygon points="461.72,124.56 464.72,128.46 470.95,125.14 467.95,121.25" fill="#333" stroke="#000" stroke-width="0.50" stroke-linejoin="round" />
<polygon points="514.99,221.47 516.62,226.13 522.86,222.81 521.23,218.16" fill="#333" stroke="#000" stroke-width="0.50" stroke-linejoin="round" />
<polygon points="463.71,122.85 466.56,126.92 472.79,123.61 469.95,119.54" fill="#333" stroke="#000" stroke-width="0.50" stroke-linejoin="round" />
<polygon points="517.26,220.73 519.12,225.35 525.35,222.03 523.50,217.41" fill="#333" stroke="#000" stroke-width="0.50" stroke-linejoin="round" />
<polygon points="465.87,121.39 468.54,125.62 474.78,122.30 472.10,118.08" fill="#333" stroke="#000" stroke-width="0.50" stroke-linejoin="round" />
<polygon points="519.42,219.74 521.49,224.30 527.72,220.98 525.65,216.42" fill="#333" stroke="#000" stroke-width="0.50" stroke-linejoin="round" />
<polygon points="520.06,219.38 519.42,219.74 525.65,216.42 526.29,216.07" fill="#333" stroke="#000" stroke-width="0.50" stroke-linejoin="round" />
<polygon points="467.11,120.70 468.16,120.20 474.40,116.88 473.35,117.39" fill="#fff" stroke="#000" stroke-width="0.50" stroke-linejoin="round" />
<polygon points="468.16,120.20 470.66,124.55 476.89,121.24 474.40,116.88" fill="#333" stroke="#000" stroke-width="0.50" stroke-linejoin="round" />
<polygon points="523.72,222.98 522.73,223.61 528.97,220.29 529.96,219.67" fill="#fff" stroke="#000" stroke-width="0.50" stroke-linejoin="round" />
<polygon points="470.66,124.55 471.34,124.27 477.57,120.96 476.89,121.24" fill="#333" stroke="#000" stroke-width="0.50" stroke-linejoin="round" />
<polygon points="521.44,218.51 523.72,222.98 529.96,219.67 527.68,215.19" fill="#333" stroke="#000" stroke-width="0.50" stroke-linejoin="round" />
<polygon points="522.04,218.08 521.44,218.51 527.68,215.19 528.28,214.76" fill="#333" stroke="#000" stroke-width="0.50" stroke-linejoin="round" />
<polygon points="469.48,119.65 470.59,119.27 476.83,115.95 475.72,116.34" fill="#fff" stroke="#000" stroke-width="0.50" stroke-linejoin="round" />
<polygon points="470.59,119.27 472.89,123.73 479.13,120.42 476.83,115.95" fill="#333" stroke="#000" stroke-width="0.50" stroke-linejoin="round" />
<polygon points="525.80,221.41 524.89,222.15 531.12,218.83 532.04,218.09" fill="#fff" stroke="#000" stroke-width="0.50" stroke-linejoin="round" />
<polygon points="472.89,123.73 473.61,123.53 479.84,120.21 479.13,120.42" fill="#333" stroke="#000" stroke-width="0.50" stroke-linejoin="round" />
<polygon points="523.33,217.04 525.80,221.41 532.04,218.09 529.56,213.73" fill="#333" stroke="#000" stroke-width="0.50" stroke-linejoin="round" />
<polygon points="523.88,216.54 523.33,217.04 529.56,213.73 530.12,213.22" fill="#333" stroke="#000" stroke-width="0.50" stroke-linejoin="round" />
<polygon points="471.98,118.87 473.14,118.61 479.38,115.29 478.21,115.56" fill="#fff" stroke="#000" stroke-width="0.50" stroke-linejoin="round" />
<polygon points="473.14,118.61 475.24,123.16 481.47,119.84 479.38,115.29" fill="#333" stroke="#000" stroke-width="0.50" stroke-linejoin="round" />
<polygon points="475.24,123.16 475.98,123.03 482.22,119.72 481.47,119.84" fill="#333" stroke="#000" stroke-width="0.50" stroke-linejoin="round" />
<polygon points="527.72,219.59 526.88,220.44 533.12,217.12 533.96,216.27" fill="#fff" stroke="#000" stroke-width="0.50" stroke-linejoin="round" />
<polygon points="525.07,215.35 527.72,219.59 533.96,216.27 531.30,212.03" fill="#333" stroke="#000" stroke-width="0.50" stroke-linejoin="round" />
<polygon points="525.58,214.78 525.07,215.35 531.30,212.03 531.81,211.46" fill="#333" stroke="#000" stroke-width="0.50" stroke-linejoin="round" />
<polygon points="474.59,118.36 475.80,118.22 482.03,114.91 480.82,115.05" fill="#fff" stroke="#000" stroke-width="0.50" stroke-linejoin="round" />
<polygon points="475.80,118.22 477.68,122.84 483.91,119.52 482.03,114.91" fill="#333" stroke="#000" stroke-width="0.50" stroke-linejoin="round" />
<polygon points="477.68,122.84 478.45,122.79 484.69,119.47 483.91,119.52" fill="#333" stroke="#000" stroke-width="0.50" stroke-linejoin="round" />
<polygon points="529.48,217.53 528.71,218.48 534.94,215.17 535.71,214.21" fill="#fff" stroke="#000" stroke-width="0.50" stroke-linejoin="round" />
<polygon points="526.65,213.44 529.48,217.53 535.71,214.21 532.89,210.12" fill="#333" stroke="#000" stroke-width="0.50" stroke-linejoin="round" />
<polygon points="527.11,212.80 526.65,213.44 532.89,210.12 533.34,209.49" fill="#333" stroke="#000" stroke-width="0.50" stroke-linejoin="round" />
<polygon points="477.30,118.13 478.55,118.11 484.78,114.80 483.54,114.81" fill="#fff" stroke="#000" stroke-width="0.50" stroke-linejoin="round" />
<polygon points="480.20,122.77 481.00,122.80 487.24,119.48 486.44,119.45" fill="#333" stroke="#000" stroke-width="0.50" stroke-linejoin="round" />
<polygon points="478.55,118.11 480.20,122.77 486.44,119.45 484.78,114.80" fill="#333" stroke="#000" stroke-width="0.50" stroke-linejoin="round" />
<polygon points="531.05,215.23 530.36,216.29 536.60,212.98 537.28,211.92" fill="#fff" stroke="#000" stroke-width="0.50" stroke-linejoin="round" />
<polygon points="528.47,210.62 528.07,211.32 534.30,208.00 534.71,207.30" fill="#333" stroke="#000" stroke-width="0.50" stroke-linejoin="round" />
<polygon points="528.07,211.32 531.05,215.23 537.28,211.92 534.30,208.00" fill="#333" stroke="#000" stroke-width="0.50" stroke-linejoin="round" />
<polygon points="482.80,122.95 483.62,123.06 489.85,119.75 489.04,119.64" fill="#333" stroke="#000" stroke-width="0.50" stroke-linejoin="round" />
<polygon points="480.10,118.17 481.38,118.28 487.62,114.97 486.33,114.86" fill="#fff" stroke="#000" stroke-width="0.50" stroke-linejoin="round" />
<polygon points="481.38,118.28 482.80,122.95 489.04,119.64 487.62,114.97" fill="#333" stroke="#000" stroke-width="0.50" stroke-linejoin="round" />
<polygon points="529.66,208.24 529.31,209.00 535.55,205.68 535.90,204.93" fill="#333" stroke="#000" stroke-width="0.50" stroke-linejoin="round" />
<polygon points="532.43,212.73 531.83,213.88 538.07,210.57 538.67,209.41" fill="#fff" stroke="#000" stroke-width="0.50" stroke-linejoin="round" />
<polygon points="529.31,209.00 532.43,212.73 538.67,209.41 535.55,205.68" fill="#333" stroke="#000" stroke-width="0.50" stroke-linejoin="round" />
<polygon points="485.46,123.39 486.29,123.58 492.53,120.26 491.69,120.08" fill="#333" stroke="#000" stroke-width="0.50" stroke-linejoin="round" />
<polygon points="484.28,118.73 485.46,123.39 491.69,120.08 490.52,115.41" fill="#333" stroke="#000" stroke-width="0.50" stroke-linejoin="round" />
<polygon points="482.97,118.49 484.28,118.73 490.52,115.41 489.20,115.18" fill="#fff" stroke="#000" stroke-width="0.50" stroke-linejoin="round" />
<polygon points="530.67,205.68 530.38,206.50 536.62,203.18 536.91,202.37" fill="#333" stroke="#000" stroke-width="0.50" stroke-linejoin="round" />
<polygon points="530.38,206.50 533.62,210.01 539.86,206.70 536.62,203.18" fill="#333" stroke="#000" stroke-width="0.50" stroke-linejoin="round" />
<polygon points="533.62,210.01 533.11,211.26 539.35,207.94 539.86,206.70" fill="#fff" stroke="#000" stroke-width="0.50" stroke-linejoin="round" />
<polygon points="488.16,124.08 489.00,124.34 495.24,121.03 494.39,120.76" fill="#333" stroke="#000" stroke-width="0.50" stroke-linejoin="round" />
<polygon points="487.23,119.45 488.16,124.08 494.39,120.76 493.46,116.13" fill="#333" stroke="#000" stroke-width="0.50" stroke-linejoin="round" />
<polygon points="485.90,119.09 487.23,119.45 493.46,116.13 492.13,115.78" fill="#fff" stroke="#000" stroke-width="0.50" stroke-linejoin="round" />
<polygon points="531.50,202.96 531.26,203.82 537.50,200.50 537.73,199.64" fill="#333" stroke="#000" stroke-width="0.50" stroke-linejoin="round" />
<polygon points="531.26,203.82 534.61,207.11 540.85,203.79 537.50,200.50" fill="#333" stroke="#000" stroke-width="0.50" stroke-linejoin="round" />
<polygon points="534.61,207.11 534.19,208.44 540.43,205.12 540.85,203.79" fill="#fff" stroke="#000" stroke-width="0.50" stroke-linejoin="round" />
<polygon points="490.89,125.01 491.74,125.35 497.98,122.04 497.13,121.70" fill="#333" stroke="#000" stroke-width="0.50" stroke-linejoin="round" />
<polygon points="490.21,120.44 490.89,125.01 497.13,121.70 496.45,117.12" fill="#333" stroke="#000" stroke-width="0.50" stroke-linejoin="round" />
<polygon points="532.13,200.07 531.96,200.98 538.19,197.67 538.37,196.76" fill="#333" stroke="#000" stroke-width="0.50" stroke-linejoin="round" />
<polygon points="488.87,119.96 490.21,120.44 496.45,117.12 495.10,116.64" fill="#fff" stroke="#000" stroke-width="0.50" stroke-linejoin="round" />
<polygon points="531.96,200.98 535.40,204.03 541.63,200.71 538.19,197.67" fill="#333" stroke="#000" stroke-width="0.50" stroke-linejoin="round" />
<polygon points="535.40,204.03 535.07,205.43 541.31,202.12 541.63,200.71" fill="#fff" stroke="#000" stroke-width="0.50" stroke-linejoin="round" />
<polygon points="493.64,126.19 494.50,126.60 500.73,123.29 499.88,122.87" fill="#333" stroke="#000" stroke-width="0.50" stroke-linejoin="round" />
<polygon points="532.58,197.05 532.46,198.00 538.70,194.69 538.81,193.74" fill="#333" stroke="#000" stroke-width="0.50" stroke-linejoin="round" />
<polygon points="493.22,121.69 493.64,126.19 499.88,122.87 499.46,118.38" fill="#333" stroke="#000" stroke-width="0.50" stroke-linejoin="round" />
<polygon points="491.87,121.10 493.22,121.69 499.46,118.38 498.10,117.78" fill="#fff" stroke="#000" stroke-width="0.50" stroke-linejoin="round" />
<polygon points="532.46,198.00 535.97,200.78 542.21,197.47 538.70,194.69" fill="#333" stroke="#000" stroke-width="0.50" stroke-linejoin="round" />
<polygon points="535.97,200.78 535.74,202.26 541.97,198.95 542.21,197.47" fill="#fff" stroke="#000" stroke-width="0.50" stroke-linejoin="round" />
<polygon points="496.40,127.60 497.25,128.09 503.48,124.77 502.63,124.29" fill="#333" stroke="#000" stroke-width="0.50" stroke-linejoin="round" />
<polygon points="532.83,193.90 532.77,194.89 539.00,191.58 539.06,190.59" fill="#333" stroke="#000" stroke-width="0.50" stroke-linejoin="round" />
<polygon points="496.23,123.21 496.40,127.60 502.63,124.29 502.47,119.89" fill="#333" stroke="#000" stroke-width="0.50" stroke-linejoin="round" />
<polygon points="494.88,122.49 496.23,123.21 502.47,119.89 501.11,119.18" fill="#fff" stroke="#000" stroke-width="0.50" stroke-linejoin="round" />
<polygon points="532.77,194.89 536.34,197.40 542.57,194.08 539.00,191.58" fill="#333" stroke="#000" stroke-width="0.50" stroke-linejoin="round" />
<polygon points="499.14,129.24 499.99,129.80 506.22,126.48 505.37,125.93" fill="#333" stroke="#000" stroke-width="0.50" stroke-linejoin="round" />
<polygon points="536.34,197.40 536.20,198.94 542.43,195.62 542.57,194.08" fill="#fff" stroke="#000" stroke-width="0.50" stroke-linejoin="round" />
<polygon points="532.88,190.64 532.88,191.67 539.12,188.35 539.11,187.33" fill="#333" stroke="#000" stroke-width="0.50" stroke-linejoin="round" />
<polygon points="499.23,124.97 499.14,129.24 505.37,125.93 505.47,121.66" fill="#333" stroke="#000" stroke-width="0.50" stroke-linejoin="round" />
<polygon points="532.88,191.67 536.48,193.89 542.72,190.57 539.12,188.35" fill="#333" stroke="#000" stroke-width="0.50" stroke-linejoin="round" />
<polygon points="497.88,124.15 499.23,124.97 505.47,121.66 504.12,120.83" fill="#fff" stroke="#000" stroke-width="0.50" stroke-linejoin="round" />
<polygon points="501.86,131.10 502.69,131.73 508.93,128.41 508.09,127.79" fill="#333" stroke="#000" stroke-width="0.50" stroke-linejoin="round" />
<polygon points="532.73,187.29 532.80,188.34 539.03,185.03 538.97,183.98" fill="#333" stroke="#000" stroke-width="0.50" stroke-linejoin="round" />
<polygon points="536.48,193.89 536.44,195.48 542.68,192.17 542.72,190.57" fill="#fff" stroke="#000" stroke-width="0.50" stroke-linejoin="round" />
<polygon points="502.21,126.98 501.86,131.10 508.09,127.79 508.44,123.66" fill="#333" stroke="#000" stroke-width="0.50" stroke-linejoin="round" />
<polygon points="532.80,188.34 536.42,190.26 542.65,186.95 539.03,185.03" fill="#333" stroke="#000" stroke-width="0.50" stroke-linejoin="round" />
<polygon points="504.54,133.18 505.36,133.86 511.59,130.55 510.77,129.86" fill="#333" stroke="#000" stroke-width="0.50" stroke-linejoin="round" />
<polygon points="500.87,126.05 502.21,126.98 508.44,123.66 507.11,122.73" fill="#fff" stroke="#000" stroke-width="0.50" stroke-linejoin="round" />
<polygon points="532.39,183.87 532.52,184.94 538.75,181.62 538.63,180.55" fill="#333" stroke="#000" stroke-width="0.50" stroke-linejoin="round" />
<polygon points="536.42,190.26 536.47,191.91 542.71,188.59 542.65,186.95" fill="#fff" stroke="#000" stroke-width="0.50" stroke-linejoin="round" />
<polygon points="505.15,129.22 504.54,133.18 510.77,129.86 511.38,125.90" fill="#333" stroke="#000" stroke-width="0.50" stroke-linejoin="round" />
<polygon points="507.17,135.45 507.97,136.19 514.20,132.88 513.40,132.14" fill="#333" stroke="#000" stroke-width="0.50" stroke-linejoin="round" />
<polygon points="532.52,184.94 536.14,186.55 542.37,183.24 538.75,181.62" fill="#333" stroke="#000" stroke-width="0.50" stroke-linejoin="round" />
<polygon points="531.86,180.39 532.04,181.47 538.28,178.16 538.09,177.07" fill="#333" stroke="#000" stroke-width="0.50" stroke-linejoin="round" />
<polygon points="503.83,128.18 505.15,129.22 511.38,125.90 510.07,124.87" fill="#fff" stroke="#000" stroke-width="0.50" stroke-linejoin="round" />
<polygon points="536.14,186.55 536.29,188.23 542.52,184.92 542.37,183.24" fill="#fff" stroke="#000" stroke-width="0.50" stroke-linejoin="round" />
<polygon points="509.73,137.91 510.51,138.71 516.74,135.40 515.96,134.60" fill="#333" stroke="#000" stroke-width="0.50" stroke-linejoin="round" />
<polygon points="508.03,131.68 507.17,135.45 513.40,132.14 514.26,128.36" fill="#333" stroke="#000" stroke-width="0.50" stroke-linejoin="round" />
<polygon points="531.13,176.86 531.37,177.96 537.61,174.64 537.36,173.55" fill="#333" stroke="#000" stroke-width="0.50" stroke-linejoin="round" />
<polygon points="532.04,181.47 535.64,182.77 541.88,179.45 538.28,178.16" fill="#333" stroke="#000" stroke-width="0.50" stroke-linejoin="round" />
<polygon points="512.21,140.55 512.96,141.40 519.20,138.09 518.45,137.23" fill="#333" stroke="#000" stroke-width="0.50" stroke-linejoin="round" />
<polygon points="506.74,130.54 508.03,131.68 514.26,128.36 512.97,127.23" fill="#fff" stroke="#000" stroke-width="0.50" stroke-linejoin="round" />
<polygon points="510.84,134.35 509.73,137.91 515.96,134.60 517.07,131.03" fill="#333" stroke="#000" stroke-width="0.50" stroke-linejoin="round" />
<polygon points="530.22,173.32 530.52,174.42 536.75,171.10 536.45,170.00" fill="#333" stroke="#000" stroke-width="0.50" stroke-linejoin="round" />
<polygon points="535.64,182.77 535.89,184.48 542.13,181.16 541.88,179.45" fill="#fff" stroke="#000" stroke-width="0.50" stroke-linejoin="round" />
<polygon points="531.37,177.96 534.94,178.93 541.17,175.62 537.61,174.64" fill="#333" stroke="#000" stroke-width="0.50" stroke-linejoin="round" />
<polygon points="514.60,143.35 515.32,144.25 521.56,140.93 520.84,140.04" fill="#333" stroke="#000" stroke-width="0.50" stroke-linejoin="round" />
<polygon points="529.12,169.77 529.48,170.87 535.71,167.55 535.35,166.45" fill="#333" stroke="#000" stroke-width="0.50" stroke-linejoin="round" />
<polygon points="513.56,137.21 512.21,140.55 518.45,137.23 519.80,133.89" fill="#333" stroke="#000" stroke-width="0.50" stroke-linejoin="round" />
<polygon points="509.58,133.12 510.84,134.35 517.07,131.03 515.82,129.81" fill="#fff" stroke="#000" stroke-width="0.50" stroke-linejoin="round" />
<polygon points="516.89,146.30 517.58,147.24 523.81,143.93 523.13,142.99" fill="#333" stroke="#000" stroke-width="0.50" stroke-linejoin="round" />
<polygon points="530.52,174.42 534.03,175.06 540.26,171.75 536.75,171.10" fill="#333" stroke="#000" stroke-width="0.50" stroke-linejoin="round" />
<polygon points="527.84,166.23 528.26,167.32 534.49,164.01 534.08,162.92" fill="#333" stroke="#000" stroke-width="0.50" stroke-linejoin="round" />
<polygon points="534.94,178.93 535.28,180.66 541.52,177.35 541.17,175.62" fill="#fff" stroke="#000" stroke-width="0.50" stroke-linejoin="round" />
<polygon points="519.07,149.38 519.71,150.36 525.95,147.05 525.30,146.07" fill="#333" stroke="#000" stroke-width="0.50" stroke-linejoin="round" />
<polygon points="526.40,162.73 526.86,163.81 533.10,160.49 532.63,159.41" fill="#333" stroke="#000" stroke-width="0.50" stroke-linejoin="round" />
<polygon points="516.19,140.25 514.60,143.35 520.84,140.04 522.43,136.94" fill="#333" stroke="#000" stroke-width="0.50" stroke-linejoin="round" />
<polygon points="521.11,152.58 521.72,153.60 527.96,150.28 527.35,149.27" fill="#333" stroke="#000" stroke-width="0.50" stroke-linejoin="round" />
<polygon points="524.79,159.27 525.30,160.34 531.54,157.02 531.02,155.96" fill="#333" stroke="#000" stroke-width="0.50" stroke-linejoin="round" />
<polygon points="523.02,155.89 523.59,156.93 529.82,153.61 529.26,152.57" fill="#333" stroke="#000" stroke-width="0.50" stroke-linejoin="round" />
<polygon points="529.48,170.87 532.91,171.18 539.15,167.86 535.71,167.55" fill="#333" stroke="#000" stroke-width="0.50" stroke-linejoin="round" />
<polygon points="512.35,135.90 513.56,137.21 519.80,133.89 518.58,132.58" fill="#fff" stroke="#000" stroke-width="0.50" stroke-linejoin="round" />
<polygon points="534.03,175.06 534.46,176.81 540.70,173.49 540.26,171.75" fill="#fff" stroke="#000" stroke-width="0.50" stroke-linejoin="round" />
<polygon points="518.71,143.46 516.89,146.30 523.13,142.99 524.94,140.14" fill="#333" stroke="#000" stroke-width="0.50" stroke-linejoin="round" />
<polygon points="528.26,167.32 531.60,167.30 537.84,163.99 534.49,164.01" fill="#333" stroke="#000" stroke-width="0.50" stroke-linejoin="round" />
<polygon points="521.10,146.81 519.07,149.38 525.30,146.07 527.34,143.50" fill="#333" stroke="#000" stroke-width="0.50" stroke-linejoin="round" />
<polygon points="515.02,138.86 516.19,140.25 522.43,136.94 521.26,135.54" fill="#fff" stroke="#000" stroke-width="0.50" stroke-linejoin="round" />
<polygon points="526.86,163.81 530.10,163.46 536.33,160.14 533.10,160.49" fill="#333" stroke="#000" stroke-width="0.50" stroke-linejoin="round" />
<polygon points="532.91,171.18 533.44,172.93 539.67,169.61 539.15,167.86" fill="#fff" stroke="#000" stroke-width="0.50" stroke-linejoin="round" />
<polygon points="523.36,150.30 521.11,152.58 527.35,149.27 529.59,146.98" fill="#333" stroke="#000" stroke-width="0.50" stroke-linejoin="round" />
<polygon points="525.30,160.34 528.42,159.65 534.65,156.34 531.54,157.02" fill="#333" stroke="#000" stroke-width="0.50" stroke-linejoin="round" />
<polygon points="521.72,153.60 524.54,152.26 530.77,148.95 527.96,150.28" fill="#333" stroke="#000" stroke-width="0.50" stroke-linejoin="round" />
<polygon points="527.42,157.59 524.79,159.27 531.02,155.96 533.65,154.27" fill="#333" stroke="#000" stroke-width="0.50" stroke-linejoin="round" />
<polygon points="525.47,153.89 523.02,155.89 529.26,152.57 531.70,150.58" fill="#333" stroke="#000" stroke-width="0.50" stroke-linejoin="round" />
<polygon points="523.59,156.93 526.56,155.92 532.79,152.60 529.82,153.61" fill="#333" stroke="#000" stroke-width="0.50" stroke-linejoin="round" />
<polygon points="517.59,141.99 518.71,143.46 524.94,140.14 523.83,138.68" fill="#fff" stroke="#000" stroke-width="0.50" stroke-linejoin="round" />
<polygon points="531.60,167.30 532.21,169.05 538.45,165.73 537.84,163.99" fill="#fff" stroke="#000" stroke-width="0.50" stroke-linejoin="round" />
<polygon points="520.04,145.28 521.10,146.81 527.34,143.50 526.28,141.97" fill="#fff" stroke="#000" stroke-width="0.50" stroke-linejoin="round" />
<polygon points="530.10,163.46 530.80,165.18 537.03,161.87 536.33,160.14" fill="#fff" stroke="#000" stroke-width="0.50" stroke-linejoin="round" />
<polygon points="522.36,148.71 523.36,150.30 529.59,146.98 528.60,145.40" fill="#fff" stroke="#000" stroke-width="0.50" stroke-linejoin="round" />
<polygon points="528.42,159.65 529.20,161.36 535.43,158.04 534.65,156.34" fill="#fff" stroke="#000" stroke-width="0.50" stroke-linejoin="round" />
<polygon points="524.54,152.26 525.47,153.89 531.70,150.58 530.77,148.95" fill="#fff" stroke="#000" stroke-width="0.50" stroke-linejoin="round" />
<polygon points="526.56,155.92 527.42,157.59 533.65,154.27 532.79,152.60" fill="#fff" stroke="#000" stroke-width="0.50" stroke-linejoin="round" />
<polygon points="469.18,125.26 467.11,120.70 468.16,120.20 470.66,124.55 471.34,124.27 469.48,119.65 470.59,119.27 472.89,123.73 473.61,123.53 471.98,118.87 473.14,118.61 475.24,123.16 475.98,123.03 474.59,118.36 475.80,118.22 477.68,122.84 478.45,122.79 477.30,118.13 478.55,118.11 480.20,122.77 481.00,122.80 480.10,118.17 481.38,118.28 482.80,122.95 483.62,123.06 482.97,118.49 484.28,118.73 485.46,123.39 486.29,123.58 485.90,119.09 487.23,119.45 488.16,124.08 489.00,124.34 488.87,119.96 490.21,120.44 490.89,125.01 491.74,125.35 491.87,121.10 493.22,121.69 493.64,126.19 494.50,126.60 494.88,122.49 496.23,123.21 496.40,127.60 497.25,128.09 497.88,124.15 499.23,124.97 499.14,129.24 499.99,129.80 500.87,126.05 502.21,126.98 501.86,131.10 502.69,131.73 503.83,128.18 505.15,129.22 504.54,133.18 505.36,133.86 506.74,130.54 508.03,131.68 507.17,135.45 507.97,136.19 509.58,133.12 510.84,134.35 509.73,137.91 510.51,138.71 512.35,135.90 513.56,137.21 512.21,140.55 512.96,141.40 515.02,138.86 516.19,140.25 514.60,143.35 515.32,144.25 517.59,141.99 518.71,143.46 516.89,146.30 517.58,147.24 520.04,145.28 521.10,146.81 519.07,149.38 519.71,150.36 522.36,148.71 523.36,150.30 521.11,152.58 521.72,153.60 524.54,152.26 525.47,153.89 523.02,155.89 523.59,156.93 526.56,155.92 527.42,157.59 524.79,159.27 525.30,160.34 528.42,159.65 529.20,161.36 526.40,162.73 526.86,163.81 530.10,163.46 530.80,165.18 527.84,166.23 528.26,167.32 531.60,167.30 532.21,169.05 529.12,169.77 529.48,170.87 532.91,171.18 533.44,172.93 530.22,173.32 530.52,174.42 534.03,175.06 534.46,176.81 531.13,176.86 531.37,177.96 534.94,178.93 535.28,180.66 531.86,180.39 532.04,181.47 535.64,182.77 535.89,184.48 532.39,183.87 532.52,184.94 536.14,186.55 536.29,188.23 532.73,187.29 532.80,188.34 536.42,190.26 536.47,191.91 532.88,190.64 532.88,191.67 536.48,193.89 536.44,195.48 532.83,193.90 532.77,194.89 536.34,197.40 536.20,198.94 532.58,197.05 532.46,198.00 535.97,200.78 535.74,202.26 532.13,200.07 531.96,200.98 535.40,204.03 535.07,205.43 531.50,202.96 531.26,203.82 534.61,207.11 534.19,208.44 530.67,205.68 530.38,206.50 533.62,210.01 533.11,211.26 529.66,208.24 529.31,209.00 532.43,212.73 531.83,213.88 528.47,210.62 528.07,211.32 531.05,215.23 530.36,216.29 527.11,212.80 526.65,213.44 529.48,217.53 528.71,218.48 525.58,214.78 525.07,215.35 527.72,219.59 526.88,220.44 523.88,216.54 523.33,217.04 525.80,221.41 524.89,222.15 522.04,218.08 521.44,218.51 523.72,222.98 522.73,223.61 520.06,219.38 519.42,219.74 521.49,224.30 520.44,224.80 517.94,220.45 517.26,220.73 519.12,225.35 518.01,225.73 515.71,221.27 514.99,221.47 516.62,226.13 515.46,226.39 513.36,221.84 512.62,221.97 514.01,226.64 512.80,226.78 510.92,222.16 510.15,222.21 511.30,226.87 510.05,226.89 508.40,222.23 507.60,222.20 508.50,226.83 507.22,226.72 505.80,222.05 504.98,221.94 505.63,226.51 504.32,226.27 503.14,221.61 502.31,221.42 502.70,225.91 501.37,225.55 500.44,220.92 499.60,220.66 499.73,225.04 498.39,224.56 497.71,219.99 496.86,219.65 496.73,223.90 495.38,223.31 494.96,218.81 494.10,218.40 493.72,222.51 492.37,221.79 492.20,217.40 491.35,216.91 490.72,220.85 489.37,220.03 489.46,215.76 488.61,215.20 487.73,218.95 486.39,218.02 486.74,213.90 485.91,213.27 484.77,216.82 483.45,215.78 484.06,211.82 483.24,211.14 481.86,214.46 480.57,213.32 481.43,209.55 480.63,208.81 479.02,211.88 477.76,210.65 478.87,207.09 478.09,206.29 476.25,209.10 475.04,207.79 476.39,204.45 475.64,203.60 473.58,206.14 472.41,204.75 474.00,201.65 473.28,200.75 471.01,203.01 469.89,201.54 471.71,198.70 471.02,197.76 468.56,199.72 467.50,198.19 469.53,195.62 468.89,194.64 466.24,196.29 465.24,194.70 467.49,192.42 466.88,191.40 464.06,192.74 463.13,191.11 465.58,189.11 465.01,188.07 462.04,189.08 461.18,187.41 463.81,185.73 463.30,184.66 460.18,185.35 459.40,183.64 462.20,182.27 461.74,181.19 458.50,181.54 457.80,179.82 460.76,178.77 460.34,177.68 457.00,177.70 456.39,175.95 459.48,175.23 459.12,174.13 455.69,173.82 455.16,172.07 458.38,171.68 458.08,170.58 454.57,169.94 454.14,168.19 457.47,168.14 457.23,167.04 453.66,166.07 453.32,164.34 456.74,164.61 456.56,163.53 452.96,162.23 452.71,160.52 456.21,161.13 456.08,160.06 452.46,158.45 452.31,156.77 455.87,157.71 455.80,156.66 452.18,154.74 452.13,153.09 455.72,154.36 455.72,153.33 452.12,151.11 452.16,149.52 455.77,151.10 455.83,150.11 452.26,147.60 452.40,146.06 456.02,147.95 456.14,147.00 452.63,144.22 452.86,142.74 456.47,144.93 456.64,144.02 453.20,140.97 453.53,139.57 457.10,142.04 457.34,141.18 453.99,137.89 454.41,136.56 457.93,139.32 458.22,138.50 454.98,134.99 455.49,133.74 458.94,136.76 459.29,136.00 456.17,132.27 456.77,131.12 460.13,134.38 460.53,133.68 457.55,129.77 458.24,128.71 461.49,132.20 461.95,131.56 459.12,127.47 459.89,126.52 463.02,130.22 463.53,129.65 460.88,125.41 461.72,124.56 464.72,128.46 465.27,127.96 462.80,123.59 463.71,122.85 466.56,126.92 467.16,126.49 464.88,122.02 465.87,121.39 468.54,125.62" fill="#fff" stroke="#000" stroke-width="0.50" stroke-linejoin="round" />
<polygon points="469.65,126.15 472.25,124.99 475.02,124.20 477.93,123.77 480.97,123.71 484.11,124.03 487.32,124.71 490.59,125.76 493.89,127.17 497.19,128.92 500.47,131.00 503.71,133.39 506.87,136.09 509.93,139.06 512.88,142.29 515.68,145.74 518.32,149.40 520.78,153.24 523.04,157.22 525.08,161.32 526.88,165.50 528.44,169.74 529.74,173.99 530.76,178.24 531.51,182.44 531.98,186.57 532.16,190.59 532.05,194.47 531.65,198.19 530.97,201.71 530.02,205.00 528.78,208.05 527.29,210.83 525.55,213.32 523.56,215.50 521.36,217.35 518.95,218.85 516.35,220.01 513.58,220.80 510.67,221.23 507.63,221.29 504.49,220.97 501.28,220.29 498.01,219.24 494.71,217.83 491.41,216.08 488.13,214.00 484.89,211.61 481.73,208.91 478.67,205.94 475.72,202.71 472.92,199.26 470.28,195.60 467.82,191.76 465.56,187.78 463.52,183.68 461.72,179.50 460.16,175.26 458.86,171.01 457.84,166.76 457.09,162.56 456.62,158.43 456.44,154.41 456.55,150.53 456.95,146.81 457.63,143.29 458.58,140.00 459.82,136.95 461.31,134.17 463.05,131.68 465.04,129.50 467.24,127.65" fill="#fff" stroke="#000" stroke-width="0.90" stroke-linejoin="round" />
<path d="M471.06,128.79 L473.51,127.70 L476.12,126.96 L478.87,126.55 L481.73,126.50 L484.69,126.80 L487.72,127.45 L490.81,128.43 L493.92,129.76 L497.03,131.41 L500.12,133.37 L503.17,135.63 L506.15,138.17 L509.04,140.97 L511.82,144.01 L514.46,147.27 L516.95,150.72 L519.27,154.34 L521.40,158.09 L523.32,161.96 L525.02,165.90 L526.49,169.89 L527.71,173.91 L528.68,177.91 L529.39,181.88 L529.83,185.77 L530.00,189.56 L529.89,193.22 L529.52,196.72 L528.88,200.04 L527.97,203.15 L526.81,206.02 L525.41,208.64 L523.76,210.99 L521.89,213.04 L519.81,214.78 L517.54,216.21 L515.09,217.30 L512.48,218.04 L509.73,218.45 L506.87,218.50 L503.91,218.20 L500.88,217.55 L497.79,216.57 L494.68,215.24 L491.57,213.59 L488.48,211.63 L485.43,209.37 L482.45,206.83 L479.56,204.03 L476.78,200.99 L474.14,197.73 L471.65,194.28 L469.33,190.66 L467.20,186.91 L465.28,183.04 L463.58,179.10 L462.11,175.11 L460.89,171.09 L459.92,167.09 L459.21,163.12 L458.77,159.23 L458.60,155.44 L458.71,151.78 L459.08,148.28 L459.72,144.96 L460.63,141.85 L461.79,138.98 L463.19,136.36 L464.84,134.01 L466.71,131.96 L468.79,130.22 L471.06,128.79 Z M472.47,131.44 L470.33,132.78 L468.38,134.42 L466.63,136.35 L465.08,138.55 L463.76,141.01 L462.67,143.71 L461.82,146.63 L461.21,149.75 L460.86,153.04 L460.77,156.48 L460.93,160.04 L461.34,163.69 L462.00,167.42 L462.91,171.18 L464.06,174.95 L465.44,178.70 L467.04,182.41 L468.84,186.03 L470.84,189.56 L473.02,192.96 L475.36,196.20 L477.85,199.26 L480.46,202.12 L483.17,204.75 L485.97,207.14 L488.83,209.26 L491.74,211.10 L494.66,212.65 L497.58,213.90 L500.48,214.82 L503.33,215.43 L506.11,215.71 L508.80,215.66 L511.38,215.28 L513.83,214.58 L516.13,213.56 L518.27,212.22 L520.22,210.58 L521.97,208.65 L523.52,206.45 L524.84,203.99 L525.93,201.29 L526.78,198.37 L527.39,195.25 L527.74,191.96 L527.83,188.52 L527.67,184.96 L527.26,181.31 L526.60,177.58 L525.69,173.82 L524.54,170.05 L523.16,166.30 L521.56,162.59 L519.76,158.97 L517.76,155.44 L515.58,152.04 L513.24,148.80 L510.75,145.74 L508.14,142.88 L505.43,140.25 L502.63,137.86 L499.77,135.74 L496.86,133.90 L493.94,132.35 L491.02,131.10 L488.12,130.18 L485.27,129.57 L482.49,129.29 L479.80,129.34 L477.22,129.72 L474.77,130.42 L472.47,131.44 Z" fill="#333" fill-rule="evenodd" stroke="#000" stroke-width="0.60"/>
<polygon points="483.97,153.08 485.06,152.59 486.22,152.26 487.44,152.08 488.71,152.06 490.03,152.19 491.38,152.48 492.75,152.92 494.13,153.50 495.51,154.24 496.89,155.11 498.24,156.11 499.57,157.24 500.85,158.49 502.08,159.84 503.26,161.29 504.37,162.82 505.40,164.43 506.34,166.10 507.20,167.81 507.95,169.57 508.61,171.34 509.15,173.13 509.58,174.91 509.89,176.67 510.09,178.40 510.16,180.08 510.12,181.71 509.95,183.26 509.67,184.74 509.27,186.12 508.75,187.40 508.12,188.56 507.39,189.61 506.56,190.52 505.64,191.29 504.63,191.92 503.54,192.41 502.38,192.74 501.16,192.92 499.89,192.94 498.57,192.81 497.22,192.52 495.85,192.08 494.47,191.50 493.09,190.76 491.71,189.89 490.36,188.89 489.03,187.76 487.75,186.51 486.52,185.16 485.34,183.71 484.23,182.18 483.20,180.57 482.26,178.90 481.40,177.19 480.65,175.43 479.99,173.66 479.45,171.87 479.02,170.09 478.71,168.33 478.51,166.60 478.44,164.92 478.48,163.29 478.65,161.74 478.93,160.26 479.33,158.88 479.85,157.60 480.48,156.44 481.21,155.39 482.04,154.48 482.96,153.71" fill="#fff" stroke="#000" stroke-width="1.00" stroke-linejoin="round" />
<path d="M485.38,155.72 L486.32,155.31 L487.32,155.02 L488.38,154.86 L489.48,154.84 L490.61,154.96 L491.78,155.21 L492.96,155.59 L494.15,156.09 L495.35,156.73 L496.53,157.48 L497.70,158.35 L498.85,159.32 L499.96,160.40 L501.02,161.57 L502.04,162.82 L502.99,164.14 L503.88,165.53 L504.70,166.97 L505.44,168.45 L506.09,169.97 L506.66,171.50 L507.12,173.04 L507.50,174.58 L507.77,176.10 L507.94,177.59 L508.00,179.05 L507.96,180.45 L507.82,181.80 L507.57,183.07 L507.23,184.26 L506.78,185.37 L506.24,186.37 L505.61,187.27 L504.89,188.06 L504.09,188.73 L503.22,189.28 L502.28,189.69 L501.28,189.98 L500.22,190.14 L499.12,190.16 L497.99,190.04 L496.82,189.79 L495.64,189.41 L494.45,188.91 L493.25,188.27 L492.07,187.52 L490.90,186.65 L489.75,185.68 L488.64,184.60 L487.58,183.43 L486.56,182.18 L485.61,180.86 L484.72,179.47 L483.90,178.03 L483.16,176.55 L482.51,175.03 L481.94,173.50 L481.48,171.96 L481.10,170.42 L480.83,168.90 L480.66,167.41 L480.60,165.95 L480.64,164.55 L480.78,163.20 L481.03,161.93 L481.37,160.74 L481.82,159.63 L482.36,158.63 L482.99,157.73 L483.71,156.94 L484.51,156.27 L485.38,155.72 Z M486.79,158.37 L486.05,158.83 L485.38,159.40 L484.78,160.06 L484.25,160.82 L483.79,161.66 L483.42,162.59 L483.12,163.60 L482.92,164.67 L482.80,165.80 L482.76,166.99 L482.82,168.21 L482.96,169.47 L483.19,170.75 L483.50,172.04 L483.90,173.34 L484.37,174.63 L484.92,175.91 L485.54,177.16 L486.23,178.37 L486.98,179.54 L487.78,180.65 L488.64,181.71 L489.54,182.69 L490.47,183.60 L491.43,184.42 L492.42,185.15 L493.42,185.78 L494.42,186.32 L495.43,186.74 L496.43,187.06 L497.41,187.27 L498.36,187.37 L499.29,187.35 L500.18,187.22 L501.02,186.98 L501.81,186.63 L502.55,186.17 L503.22,185.60 L503.82,184.94 L504.35,184.18 L504.81,183.34 L505.18,182.41 L505.48,181.40 L505.68,180.33 L505.80,179.20 L505.84,178.01 L505.78,176.79 L505.64,175.53 L505.41,174.25 L505.10,172.96 L504.70,171.66 L504.23,170.37 L503.68,169.09 L503.06,167.84 L502.37,166.63 L501.62,165.46 L500.82,164.35 L499.96,163.29 L499.06,162.31 L498.13,161.40 L497.17,160.58 L496.18,159.85 L495.18,159.22 L494.18,158.68 L493.17,158.26 L492.17,157.94 L491.19,157.73 L490.24,157.63 L489.31,157.65 L488.42,157.78 L487.58,158.02 L486.79,158.37 Z" fill="#222" fill-rule="evenodd" stroke="#000" stroke-width="0.80"/>
<polygon points="486.79,158.37 487.58,158.02 488.42,157.78 489.31,157.65 490.24,157.63 491.19,157.73 492.17,157.94 493.17,158.26 494.18,158.68 495.18,159.22 496.18,159.85 497.17,160.58 498.13,161.40 499.06,162.31 499.96,163.29 500.82,164.35 501.62,165.46 502.37,166.63 503.06,167.84 503.68,169.09 504.23,170.37 504.70,171.66 505.10,172.96 505.41,174.25 505.64,175.53 505.78,176.79 505.84,178.01 505.80,179.20 505.68,180.33 505.48,181.40 505.18,182.41 504.81,183.34 504.35,184.18 503.82,184.94 503.22,185.60 502.55,186.17 501.81,186.63 501.02,186.98 500.18,187.22 499.29,187.35 498.36,187.37 497.41,187.27 496.43,187.06 495.43,186.74 494.42,186.32 493.42,185.78 492.42,185.15 491.43,184.42 490.47,183.60 489.54,182.69 488.64,181.71 487.78,180.65 486.98,179.54 486.23,178.37 485.54,177.16 484.92,175.91 484.37,174.63 483.90,173.34 483.50,172.04 483.19,170.75 482.96,169.47 482.82,168.21 482.76,166.99 482.80,165.80 482.92,164.67 483.12,163.60 483.42,162.59 483.79,161.66 484.25,160.82 484.78,160.06 485.38,159.40 486.05,158.83" fill="#fff" stroke="#000" stroke-width="0.80" stroke-linejoin="round" />
<polygon points="488.20,161.02 488.84,160.74 489.53,160.54 490.25,160.43 491.00,160.42 491.78,160.50 492.57,160.67 493.38,160.93 494.20,161.27 495.02,161.71 495.83,162.22 496.63,162.82 497.41,163.48 498.17,164.22 498.90,165.02 499.59,165.87 500.25,166.78 500.86,167.73 501.42,168.72 501.92,169.73 502.37,170.77 502.75,171.82 503.07,172.87 503.33,173.92 503.51,174.96 503.63,175.98 503.67,176.98 503.65,177.94 503.55,178.86 503.38,179.73 503.14,180.55 502.84,181.30 502.47,181.99 502.04,182.61 501.55,183.15 501.00,183.60 500.40,183.98 499.76,184.26 499.07,184.46 498.35,184.57 497.60,184.58 496.82,184.50 496.03,184.33 495.22,184.07 494.40,183.73 493.58,183.29 492.77,182.78 491.97,182.18 491.19,181.52 490.43,180.78 489.70,179.98 489.01,179.13 488.35,178.22 487.74,177.27 487.18,176.28 486.68,175.27 486.23,174.23 485.85,173.18 485.53,172.13 485.27,171.08 485.09,170.04 484.97,169.02 484.93,168.02 484.95,167.06 485.05,166.14 485.22,165.27 485.46,164.45 485.76,163.70 486.13,163.01 486.56,162.39 487.05,161.85 487.60,161.40" fill="none" stroke="#000" stroke-width="1.20" stroke-linejoin="round" />
<polygon points="478.25,147.76 473.25,134.57 486.65,133.83 490.21,147.10" fill="#fff" stroke="#000" stroke-width="1.10" stroke-linejoin="round" />
<polygon points="478.28,145.46 475.09,135.97 485.77,135.37 488.73,144.88" fill="#555" stroke="#000" stroke-width="0.60" stroke-linejoin="round" />
<line x1="478.91" y1="144.10" x2="476.46" y2="136.55" stroke="#ddd" stroke-width="0.7"/>
<line x1="480.84" y1="143.54" x2="478.43" y2="136.08" stroke="#ddd" stroke-width="0.7"/>
<line x1="482.89" y1="143.27" x2="480.48" y2="135.84" stroke="#ddd" stroke-width="0.7"/>
<line x1="485.03" y1="143.30" x2="482.62" y2="135.84" stroke="#ddd" stroke-width="0.7"/>
<line x1="487.25" y1="143.63" x2="484.82" y2="136.08" stroke="#ddd" stroke-width="0.7"/>
<polygon points="498.63,152.17 503.93,144.25 515.95,160.32 509.36,166.52" fill="#fff" stroke="#000" stroke-width="1.10" stroke-linejoin="round" />
<polygon points="500.32,151.87 504.49,146.66 514.07,159.47 509.70,164.41" fill="#555" stroke="#000" stroke-width="0.60" stroke-linejoin="round" />
<line x1="501.86" y1="152.44" x2="505.24" y2="148.40" stroke="#ddd" stroke-width="0.7"/>
<line x1="503.92" y1="154.69" x2="507.27" y2="150.71" stroke="#ddd" stroke-width="0.7"/>
<line x1="505.86" y1="157.13" x2="509.20" y2="153.16" stroke="#ddd" stroke-width="0.7"/>
<line x1="507.67" y1="159.72" x2="511.03" y2="155.74" stroke="#ddd" stroke-width="0.7"/>
<line x1="509.33" y1="162.44" x2="512.74" y2="158.42" stroke="#ddd" stroke-width="0.7"/>
<polygon points="512.88,177.41 523.18,182.67 521.80,199.49 511.65,192.42" fill="#fff" stroke="#000" stroke-width="1.10" stroke-linejoin="round" />
<polygon points="514.55,179.41 521.90,183.70 520.80,197.10 513.47,192.53" fill="#555" stroke="#000" stroke-width="0.60" stroke-linejoin="round" />
<line x1="515.45" y1="181.35" x2="521.28" y2="184.85" stroke="#ddd" stroke-width="0.7"/>
<line x1="515.58" y1="184.16" x2="521.34" y2="187.63" stroke="#ddd" stroke-width="0.7"/>
<line x1="515.48" y1="186.85" x2="521.22" y2="190.32" stroke="#ddd" stroke-width="0.7"/>
<line x1="515.14" y1="189.41" x2="520.91" y2="192.89" stroke="#ddd" stroke-width="0.7"/>
<line x1="514.59" y1="191.81" x2="520.42" y2="195.34" stroke="#ddd" stroke-width="0.7"/>
<polygon points="506.75,198.24 511.75,211.43 498.35,212.17 494.79,198.90" fill="#fff" stroke="#000" stroke-width="1.10" stroke-linejoin="round" />
<polygon points="506.72,200.54 509.91,210.03 499.23,210.63 496.27,201.12" fill="#555" stroke="#000" stroke-width="0.60" stroke-linejoin="round" />
<line x1="506.09" y1="201.90" x2="508.54" y2="209.45" stroke="#ddd" stroke-width="0.7"/>
<line x1="504.16" y1="202.46" x2="506.57" y2="209.92" stroke="#ddd" stroke-width="0.7"/>
<line x1="502.11" y1="202.73" x2="504.52" y2="210.16" stroke="#ddd" stroke-width="0.7"/>
<line x1="499.97" y1="202.70" x2="502.38" y2="210.16" stroke="#ddd" stroke-width="0.7"/>
<line x1="497.75" y1="202.37" x2="500.18" y2="209.92" stroke="#ddd" stroke-width="0.7"/>
<polygon points="486.37,193.83 481.07,201.75 469.05,185.68 475.64,179.48" fill="#fff" stroke="#000" stroke-width="1.10" stroke-linejoin="round" />
<polygon points="484.68,194.13 480.51,199.34 470.93,186.53 475.30,181.59" fill="#555" stroke="#000" stroke-width="0.60" stroke-linejoin="round" />
<line x1="483.14" y1="193.56" x2="479.76" y2="197.60" stroke="#ddd" stroke-width="0.7"/>
<line x1="481.08" y1="191.31" x2="477.73" y2="195.29" stroke="#ddd" stroke-width="0.7"/>
<line x1="479.14" y1="188.87" x2="475.80" y2="192.84" stroke="#ddd" stroke-width="0.7"/>
<line x1="477.33" y1="186.28" x2="473.97" y2="190.26" stroke="#ddd" stroke-width="0.7"/>
<line x1="475.67" y1="183.56" x2="472.26" y2="187.58" stroke="#ddd" stroke-width="0.7"/>
<polygon points="472.12,168.59 461.82,163.33 463.20,146.51 473.35,153.58" fill="#fff" stroke="#000" stroke-width="1.10" stroke-linejoin="round" />
<polygon points="470.45,166.59 463.10,162.30 464.20,148.90 471.53,153.47" fill="#555" stroke="#000" stroke-width="0.60" stroke-linejoin="round" />
<line x1="469.55" y1="164.65" x2="463.72" y2="161.15" stroke="#ddd" stroke-width="0.7"/>
<line x1="469.42" y1="161.84" x2="463.66" y2="158.37" stroke="#ddd" stroke-width="0.7"/>
<line x1="469.52" y1="159.15" x2="463.78" y2="155.68" stroke="#ddd" stroke-width="0.7"/>
<line x1="469.86" y1="156.59" x2="464.09" y2="153.11" stroke="#ddd" stroke-width="0.7"/>
<line x1="470.41" y1="154.19" x2="464.58" y2="150.66" stroke="#ddd" stroke-width="0.7"/>
<polygon points="493.78,140.26 493.91,140.21 494.05,140.17 494.19,140.15 494.34,140.14 494.50,140.16 494.66,140.19 494.82,140.24 494.98,140.31 495.15,140.40 495.31,140.50 495.47,140.62 495.63,140.76 495.78,140.90 495.92,141.06 496.06,141.23 496.19,141.42 496.32,141.61 496.43,141.80 496.53,142.01 496.62,142.21 496.69,142.42 496.76,142.63 496.81,142.84 496.85,143.05 496.87,143.26 496.88,143.45 496.87,143.65 496.85,143.83 496.82,144.01 496.77,144.17 496.71,144.32 496.64,144.46 496.55,144.58 496.45,144.69 496.34,144.78 496.22,144.85 496.10,144.91 495.96,144.95 495.81,144.97 495.66,144.98 495.51,144.96 495.35,144.93 495.19,144.87 495.02,144.80 494.86,144.72 494.70,144.61 494.54,144.50 494.38,144.36 494.23,144.22 494.08,144.06 493.94,143.88 493.81,143.70 493.69,143.51 493.58,143.32 493.48,143.11 493.39,142.91 493.31,142.70 493.25,142.49 493.20,142.27 493.16,142.07 493.14,141.86 493.13,141.66 493.13,141.47 493.15,141.29 493.19,141.11 493.23,140.95 493.30,140.80 493.37,140.66 493.46,140.54 493.55,140.43 493.66,140.34" fill="#fff" stroke="#000" stroke-width="0.80" stroke-linejoin="round" />
<polygon points="515.54,169.36 515.67,169.30 515.80,169.26 515.95,169.24 516.10,169.24 516.25,169.25 516.41,169.29 516.57,169.34 516.74,169.41 516.90,169.49 517.06,169.60 517.22,169.72 517.38,169.85 517.53,170.00 517.68,170.16 517.82,170.33 517.95,170.51 518.07,170.70 518.18,170.90 518.28,171.10 518.37,171.31 518.45,171.52 518.51,171.73 518.56,171.94 518.60,172.14 518.62,172.35 518.63,172.55 518.63,172.74 518.61,172.92 518.57,173.10 518.53,173.26 518.47,173.41 518.39,173.55 518.31,173.67 518.21,173.78 518.10,173.87 517.98,173.95 517.85,174.01 517.71,174.04 517.57,174.07 517.42,174.07 517.26,174.05 517.10,174.02 516.94,173.97 516.78,173.90 516.61,173.81 516.45,173.71 516.29,173.59 516.14,173.46 515.98,173.31 515.84,173.15 515.70,172.98 515.57,172.80 515.45,172.61 515.33,172.41 515.23,172.21 515.14,172.00 515.07,171.79 515.00,171.58 514.95,171.37 514.92,171.16 514.89,170.96 514.88,170.76 514.89,170.56 514.91,170.38 514.94,170.21 514.99,170.04 515.05,169.89 515.12,169.75 515.21,169.63 515.31,169.52 515.42,169.43" fill="#fff" stroke="#000" stroke-width="0.80" stroke-linejoin="round" />
<polygon points="513.03,199.80 513.16,199.74 513.30,199.70 513.44,199.68 513.59,199.68 513.75,199.69 513.91,199.73 514.07,199.78 514.23,199.85 514.40,199.93 514.56,200.04 514.72,200.16 514.88,200.29 515.03,200.44 515.17,200.60 515.31,200.77 515.44,200.95 515.57,201.14 515.68,201.34 515.78,201.54 515.87,201.75 515.95,201.96 516.01,202.17 516.06,202.38 516.10,202.59 516.12,202.79 516.13,202.99 516.12,203.18 516.10,203.37 516.07,203.54 516.02,203.70 515.96,203.85 515.89,203.99 515.80,204.11 515.70,204.22 515.59,204.31 515.48,204.39 515.35,204.45 515.21,204.49 515.07,204.51 514.91,204.51 514.76,204.49 514.60,204.46 514.44,204.41 514.27,204.34 514.11,204.25 513.95,204.15 513.79,204.03 513.63,203.90 513.48,203.75 513.33,203.59 513.20,203.42 513.06,203.24 512.94,203.05 512.83,202.85 512.73,202.65 512.64,202.44 512.56,202.23 512.50,202.02 512.45,201.81 512.41,201.60 512.39,201.40 512.38,201.20 512.39,201.01 512.40,200.82 512.44,200.65 512.49,200.48 512.55,200.33 512.62,200.19 512.71,200.07 512.81,199.96 512.91,199.87" fill="#fff" stroke="#000" stroke-width="0.80" stroke-linejoin="round" />
<polygon points="488.78,201.15 488.90,201.09 489.04,201.05 489.19,201.03 489.34,201.02 489.49,201.04 489.65,201.07 489.81,201.13 489.98,201.20 490.14,201.28 490.30,201.39 490.46,201.50 490.62,201.64 490.77,201.78 490.92,201.94 491.06,202.12 491.19,202.30 491.31,202.49 491.42,202.68 491.52,202.89 491.61,203.09 491.69,203.30 491.75,203.51 491.80,203.73 491.84,203.93 491.86,204.14 491.87,204.34 491.87,204.53 491.85,204.71 491.81,204.89 491.77,205.05 491.70,205.20 491.63,205.34 491.54,205.46 491.45,205.57 491.34,205.66 491.22,205.74 491.09,205.79 490.95,205.83 490.81,205.85 490.66,205.86 490.50,205.84 490.34,205.81 490.18,205.76 490.02,205.69 489.85,205.60 489.69,205.50 489.53,205.38 489.37,205.24 489.22,205.10 489.08,204.94 488.94,204.77 488.81,204.58 488.68,204.39 488.57,204.20 488.47,203.99 488.38,203.79 488.31,203.58 488.24,203.37 488.19,203.16 488.15,202.95 488.13,202.74 488.12,202.55 488.13,202.35 488.15,202.17 488.18,201.99 488.23,201.83 488.29,201.68 488.36,201.54 488.45,201.42 488.55,201.31 488.66,201.22" fill="#fff" stroke="#000" stroke-width="0.80" stroke-linejoin="round" />
<polygon points="467.02,172.05 467.15,171.99 467.29,171.96 467.43,171.93 467.58,171.93 467.74,171.95 467.90,171.98 468.06,172.03 468.22,172.10 468.39,172.19 468.55,172.29 468.71,172.41 468.86,172.54 469.02,172.69 469.16,172.85 469.30,173.02 469.43,173.20 469.55,173.39 469.67,173.59 469.77,173.79 469.86,174.00 469.93,174.21 470.00,174.42 470.05,174.63 470.08,174.84 470.11,175.04 470.12,175.24 470.11,175.44 470.09,175.62 470.06,175.79 470.01,175.96 469.95,176.11 469.88,176.25 469.79,176.37 469.69,176.48 469.58,176.57 469.46,176.64 469.33,176.70 469.20,176.74 469.05,176.76 468.90,176.76 468.75,176.75 468.59,176.71 468.43,176.66 468.26,176.59 468.10,176.51 467.94,176.40 467.78,176.28 467.62,176.15 467.47,176.00 467.32,175.84 467.18,175.67 467.05,175.49 466.93,175.30 466.82,175.10 466.72,174.90 466.63,174.69 466.55,174.48 466.49,174.27 466.44,174.06 466.40,173.86 466.38,173.65 466.37,173.45 466.37,173.26 466.39,173.08 466.43,172.90 466.47,172.74 466.53,172.59 466.61,172.45 466.69,172.33 466.79,172.22 466.90,172.13" fill="#fff" stroke="#000" stroke-width="0.80" stroke-linejoin="round" />
<polygon points="469.52,141.61 469.65,141.55 469.79,141.51 469.93,141.49 470.09,141.49 470.24,141.51 470.40,141.54 470.56,141.59 470.73,141.66 470.89,141.75 471.05,141.85 471.21,141.97 471.37,142.10 471.52,142.25 471.67,142.41 471.80,142.58 471.94,142.76 472.06,142.95 472.17,143.15 472.27,143.35 472.36,143.56 472.44,143.77 472.50,143.98 472.55,144.19 472.59,144.40 472.61,144.60 472.62,144.80 472.61,144.99 472.60,145.18 472.56,145.35 472.51,145.52 472.45,145.67 472.38,145.81 472.29,145.93 472.19,146.04 472.09,146.13 471.97,146.20 471.84,146.26 471.70,146.30 471.56,146.32 471.41,146.32 471.25,146.31 471.09,146.27 470.93,146.22 470.77,146.15 470.60,146.07 470.44,145.96 470.28,145.84 470.12,145.71 469.97,145.56 469.83,145.40 469.69,145.23 469.56,145.05 469.43,144.86 469.32,144.66 469.22,144.46 469.13,144.25 469.05,144.04 468.99,143.83 468.94,143.62 468.90,143.41 468.88,143.21 468.87,143.01 468.88,142.82 468.90,142.63 468.93,142.46 468.98,142.30 469.04,142.15 469.11,142.01 469.20,141.89 469.30,141.78 469.41,141.69" fill="#fff" stroke="#000" stroke-width="0.80" stroke-linejoin="round" />
<polygon points="483.57,162.35 484.26,162.04 485.00,161.83 485.78,161.72 486.59,161.70 487.43,161.78 488.28,161.97 489.16,162.25 490.03,162.62 490.92,163.09 491.79,163.64 492.65,164.28 493.49,165.00 494.31,165.79 495.10,166.65 495.85,167.57 496.55,168.55 497.21,169.57 497.81,170.64 498.35,171.73 498.83,172.84 499.25,173.97 499.59,175.11 499.87,176.24 500.07,177.36 500.19,178.46 500.24,179.53 500.21,180.57 500.10,181.56 499.92,182.50 499.67,183.38 499.34,184.19 498.94,184.93 498.48,185.60 497.95,186.18 497.36,186.67 496.72,187.07 496.02,187.38 495.29,187.59 494.51,187.70 493.70,187.72 492.86,187.64 492.00,187.45 491.13,187.17 490.25,186.80 489.37,186.33 488.50,185.78 487.64,185.14 486.79,184.42 485.98,183.63 485.19,182.77 484.44,181.85 483.74,180.87 483.08,179.85 482.48,178.79 481.94,177.69 481.45,176.58 481.04,175.45 480.69,174.31 480.42,173.18 480.22,172.06 480.10,170.96 480.05,169.89 480.08,168.85 480.18,167.86 480.36,166.92 480.62,166.04 480.95,165.23 481.35,164.49 481.81,163.82 482.34,163.24 482.93,162.75" fill="#fff" stroke="#000" stroke-width="1.00" stroke-linejoin="round" />
<path d="M484.04,163.23 L484.68,162.95 L485.37,162.75 L486.09,162.64 L486.84,162.63 L487.62,162.71 L488.42,162.88 L489.23,163.14 L490.04,163.48 L490.86,163.92 L491.67,164.43 L492.47,165.03 L493.25,165.69 L494.01,166.43 L494.74,167.23 L495.44,168.08 L496.09,168.99 L496.70,169.94 L497.26,170.93 L497.76,171.94 L498.21,172.98 L498.60,174.03 L498.92,175.08 L499.17,176.13 L499.36,177.17 L499.47,178.19 L499.52,179.19 L499.49,180.15 L499.39,181.07 L499.22,181.94 L498.99,182.76 L498.68,183.51 L498.31,184.20 L497.88,184.82 L497.39,185.36 L496.84,185.81 L496.25,186.19 L495.60,186.47 L494.92,186.67 L494.20,186.78 L493.44,186.79 L492.67,186.71 L491.87,186.54 L491.06,186.28 L490.24,185.94 L489.43,185.50 L488.61,184.99 L487.81,184.39 L487.03,183.73 L486.27,182.99 L485.54,182.19 L484.85,181.34 L484.19,180.43 L483.59,179.48 L483.03,178.49 L482.52,177.48 L482.08,176.44 L481.69,175.39 L481.37,174.34 L481.11,173.29 L480.93,172.25 L480.81,171.23 L480.77,170.23 L480.80,169.27 L480.89,168.35 L481.06,167.48 L481.30,166.66 L481.60,165.91 L481.97,165.22 L482.41,164.60 L482.90,164.06 L483.44,163.61 L484.04,163.23 Z M484.98,165.00 L484.47,165.31 L484.01,165.70 L483.60,166.16 L483.23,166.68 L482.92,167.26 L482.66,167.90 L482.46,168.59 L482.32,169.33 L482.23,170.11 L482.21,170.92 L482.25,171.76 L482.35,172.63 L482.50,173.51 L482.72,174.40 L482.99,175.29 L483.32,176.18 L483.69,177.05 L484.12,177.91 L484.59,178.75 L485.11,179.55 L485.66,180.32 L486.25,181.04 L486.87,181.72 L487.51,182.34 L488.17,182.90 L488.85,183.41 L489.54,183.84 L490.23,184.21 L490.92,184.50 L491.60,184.72 L492.28,184.87 L492.94,184.93 L493.57,184.92 L494.18,184.83 L494.76,184.66 L495.31,184.42 L495.81,184.11 L496.27,183.72 L496.69,183.26 L497.06,182.74 L497.37,182.16 L497.63,181.52 L497.83,180.83 L497.97,180.09 L498.05,179.31 L498.08,178.50 L498.04,177.66 L497.94,176.79 L497.78,175.91 L497.57,175.02 L497.30,174.13 L496.97,173.24 L496.59,172.37 L496.17,171.51 L495.69,170.67 L495.18,169.87 L494.62,169.10 L494.04,168.38 L493.42,167.70 L492.78,167.08 L492.11,166.52 L491.44,166.01 L490.75,165.58 L490.06,165.21 L489.37,164.92 L488.68,164.70 L488.01,164.55 L487.35,164.49 L486.71,164.50 L486.10,164.59 L485.52,164.76 L484.98,165.00 Z" fill="#333" fill-rule="evenodd" stroke="#000" stroke-width="0.60"/>
<polygon points="485.16,192.08 484.72,192.28 484.24,192.42 483.74,192.49 483.22,192.50 482.68,192.44 482.13,192.33 481.57,192.15 481.01,191.91 480.44,191.61 479.88,191.25 479.32,190.84 478.78,190.38 478.26,189.87 477.75,189.31 477.27,188.72 476.82,188.10 476.40,187.44 476.01,186.76 475.66,186.05 475.35,185.34 475.08,184.61 474.86,183.88 474.69,183.15 474.56,182.43 474.48,181.72 474.45,181.03 474.47,180.37 474.53,179.73 474.65,179.13 474.81,178.56 475.03,178.04 475.28,177.56 475.58,177.14 475.92,176.76 476.30,176.45 476.71,176.19 486.41,171.03 486.86,170.83 487.33,170.70 487.83,170.62 488.35,170.62 488.89,170.67 489.44,170.79 490.00,170.97 490.57,171.21 491.13,171.51 491.69,171.86 492.25,172.27 492.79,172.74 493.32,173.25 493.82,173.80 494.30,174.39 494.75,175.02 495.18,175.68 495.56,176.36 495.91,177.06 496.22,177.78 496.49,178.50 496.71,179.23 496.89,179.96 497.02,180.68 497.10,181.39 497.13,182.08 497.11,182.75 497.04,183.38 496.92,183.99 496.76,184.55 496.55,185.07 496.29,185.55 495.99,185.98 495.65,186.35 495.27,186.67 494.86,186.93" fill="#fff" stroke="#000" stroke-width="0.90" stroke-linejoin="round" />
<polygon points="476.94,174.94 476.50,173.48 477.46,173.18 478.26,174.51 479.09,174.47 479.04,173.10 480.16,173.32 480.65,174.77 481.55,175.13 481.89,174.01 483.04,174.72 483.15,176.11 484.02,176.83 484.71,176.10 485.75,177.21 485.47,178.38 486.21,179.37 487.16,179.11 487.96,180.49 487.33,181.29 487.84,182.43 488.94,182.68 489.41,184.17 488.50,184.51 488.72,185.66 489.84,186.38 489.92,187.80 488.84,187.63 488.75,188.66 489.75,189.77 489.43,190.94 488.31,190.29 487.91,191.07 488.68,192.43 488.00,193.22 486.97,192.16 486.32,192.60 486.76,194.05 485.80,194.36 485.00,193.02 484.17,193.06 484.22,194.43 483.10,194.22 482.61,192.77 481.71,192.40 481.37,193.52 480.22,192.82 480.11,191.42 479.24,190.70 478.55,191.44 477.51,190.33 477.79,189.16 477.05,188.17 476.10,188.43 475.30,187.04 475.93,186.24 475.42,185.10 474.32,184.86 473.85,183.37 474.76,183.03 474.54,181.87 473.42,181.15 473.34,179.74 474.42,179.90 474.51,178.87 473.51,177.76 473.83,176.59 474.95,177.24 475.35,176.47 474.58,175.10 475.26,174.31 476.29,175.37" fill="#fff" stroke="#000" stroke-width="0.60" stroke-linejoin="round" />
<polygon points="466.23,187.42 467.14,187.08 474.76,183.03 473.85,183.37" fill="#1a1a1a" stroke="#000" stroke-width="0.60" stroke-linejoin="round" />
<polygon points="471.62,194.75 470.93,195.49 478.55,191.44 479.24,190.70" fill="#1a1a1a" stroke="#000" stroke-width="0.60" stroke-linejoin="round" />
<polygon points="465.72,183.79 466.80,183.96 474.42,179.90 473.34,179.74" fill="#1a1a1a" stroke="#000" stroke-width="0.60" stroke-linejoin="round" />
<polygon points="474.09,196.45 473.75,197.57 481.37,193.52 481.71,192.40" fill="#1a1a1a" stroke="#000" stroke-width="0.60" stroke-linejoin="round" />
<polygon points="466.21,180.64 467.33,181.30 474.95,177.24 473.83,176.59" fill="#1a1a1a" stroke="#000" stroke-width="0.60" stroke-linejoin="round" />
<polygon points="476.55,197.11 476.60,198.48 484.22,194.43 484.17,193.06" fill="#1a1a1a" stroke="#000" stroke-width="0.60" stroke-linejoin="round" />
<polygon points="467.64,178.37 468.67,179.42 476.29,175.37 475.26,174.31" fill="#1a1a1a" stroke="#000" stroke-width="0.60" stroke-linejoin="round" />
<polygon points="478.70,196.65 479.14,198.10 486.76,194.05 486.32,192.60" fill="#1a1a1a" stroke="#000" stroke-width="0.60" stroke-linejoin="round" />
<polygon points="479.35,196.21 478.70,196.65 486.32,192.60 486.97,192.16" fill="#1a1a1a" stroke="#000" stroke-width="0.60" stroke-linejoin="round" />
<polygon points="468.88,177.53 469.84,177.23 477.46,173.18 476.50,173.48" fill="#fff" stroke="#000" stroke-width="0.60" stroke-linejoin="round" />
<polygon points="469.84,177.23 470.64,178.56 478.26,174.51 477.46,173.18" fill="#1a1a1a" stroke="#000" stroke-width="0.60" stroke-linejoin="round" />
<polygon points="481.06,196.49 480.38,197.27 488.00,193.22 488.68,192.43" fill="#fff" stroke="#000" stroke-width="0.60" stroke-linejoin="round" />
<polygon points="470.64,178.56 471.47,178.53 479.09,174.47 478.26,174.51" fill="#1a1a1a" stroke="#000" stroke-width="0.60" stroke-linejoin="round" />
<polygon points="480.29,195.12 481.06,196.49 488.68,192.43 487.91,191.07" fill="#1a1a1a" stroke="#000" stroke-width="0.60" stroke-linejoin="round" />
<polygon points="480.69,194.34 480.29,195.12 487.91,191.07 488.31,190.29" fill="#1a1a1a" stroke="#000" stroke-width="0.60" stroke-linejoin="round" />
<polygon points="471.42,177.16 472.54,177.37 480.16,173.32 479.04,173.10" fill="#fff" stroke="#000" stroke-width="0.60" stroke-linejoin="round" />
<polygon points="472.54,177.37 473.03,178.82 480.65,174.77 480.16,173.32" fill="#1a1a1a" stroke="#000" stroke-width="0.60" stroke-linejoin="round" />
<polygon points="473.03,178.82 473.93,179.18 481.55,175.13 480.65,174.77" fill="#1a1a1a" stroke="#000" stroke-width="0.60" stroke-linejoin="round" />
<polygon points="482.13,193.82 481.81,194.99 489.43,190.94 489.75,189.77" fill="#fff" stroke="#000" stroke-width="0.60" stroke-linejoin="round" />
<polygon points="481.12,192.71 482.13,193.82 489.75,189.77 488.75,188.66" fill="#1a1a1a" stroke="#000" stroke-width="0.60" stroke-linejoin="round" />
<polygon points="481.22,191.68 481.12,192.71 488.75,188.66 488.84,187.63" fill="#1a1a1a" stroke="#000" stroke-width="0.60" stroke-linejoin="round" />
<polygon points="474.27,178.06 475.42,178.77 483.04,174.72 481.89,174.01" fill="#fff" stroke="#000" stroke-width="0.60" stroke-linejoin="round" />
<polygon points="475.53,180.16 476.40,180.88 484.02,176.83 483.15,176.11" fill="#1a1a1a" stroke="#000" stroke-width="0.60" stroke-linejoin="round" />
<polygon points="475.42,178.77 475.53,180.16 483.15,176.11 483.04,174.72" fill="#1a1a1a" stroke="#000" stroke-width="0.60" stroke-linejoin="round" />
<polygon points="480.88,188.56 481.10,189.71 488.72,185.66 488.50,184.51" fill="#1a1a1a" stroke="#000" stroke-width="0.60" stroke-linejoin="round" />
<polygon points="481.10,189.71 482.22,190.43 489.84,186.38 488.72,185.66" fill="#1a1a1a" stroke="#000" stroke-width="0.60" stroke-linejoin="round" />
<polygon points="482.22,190.43 482.30,191.85 489.92,187.80 489.84,186.38" fill="#fff" stroke="#000" stroke-width="0.60" stroke-linejoin="round" />
<polygon points="477.85,182.43 478.59,183.42 486.21,179.37 485.47,178.38" fill="#1a1a1a" stroke="#000" stroke-width="0.60" stroke-linejoin="round" />
<polygon points="479.71,185.34 480.22,186.49 487.84,182.43 487.33,181.29" fill="#1a1a1a" stroke="#000" stroke-width="0.60" stroke-linejoin="round" />
<polygon points="478.13,181.26 477.85,182.43 485.47,178.38 485.75,177.21" fill="#1a1a1a" stroke="#000" stroke-width="0.60" stroke-linejoin="round" />
<polygon points="477.09,180.15 478.13,181.26 485.75,177.21 484.71,176.10" fill="#fff" stroke="#000" stroke-width="0.60" stroke-linejoin="round" />
<polygon points="480.22,186.49 481.32,186.73 488.94,182.68 487.84,182.43" fill="#1a1a1a" stroke="#000" stroke-width="0.60" stroke-linejoin="round" />
<polygon points="478.59,183.42 479.54,183.16 487.16,179.11 486.21,179.37" fill="#1a1a1a" stroke="#000" stroke-width="0.60" stroke-linejoin="round" />
<polygon points="480.34,184.54 479.71,185.34 487.33,181.29 487.96,180.49" fill="#1a1a1a" stroke="#000" stroke-width="0.60" stroke-linejoin="round" />
<polygon points="481.32,186.73 481.79,188.22 489.41,184.17 488.94,182.68" fill="#fff" stroke="#000" stroke-width="0.60" stroke-linejoin="round" />
<polygon points="479.54,183.16 480.34,184.54 487.96,180.49 487.16,179.11" fill="#fff" stroke="#000" stroke-width="0.60" stroke-linejoin="round" />
<polygon points="469.31,178.99 468.88,177.53 469.84,177.23 470.64,178.56 471.47,178.53 471.42,177.16 472.54,177.37 473.03,178.82 473.93,179.18 474.27,178.06 475.42,178.77 475.53,180.16 476.40,180.88 477.09,180.15 478.13,181.26 477.85,182.43 478.59,183.42 479.54,183.16 480.34,184.54 479.71,185.34 480.22,186.49 481.32,186.73 481.79,188.22 480.88,188.56 481.10,189.71 482.22,190.43 482.30,191.85 481.22,191.68 481.12,192.71 482.13,193.82 481.81,194.99 480.69,194.34 480.29,195.12 481.06,196.49 480.38,197.27 479.35,196.21 478.70,196.65 479.14,198.10 478.18,198.41 477.37,197.07 476.55,197.11 476.60,198.48 475.48,198.27 474.99,196.82 474.09,196.45 473.75,197.57 472.60,196.87 472.49,195.48 471.62,194.75 470.93,195.49 469.89,194.38 470.17,193.21 469.43,192.22 468.48,192.48 467.68,191.10 468.31,190.29 467.80,189.15 466.70,188.91 466.23,187.42 467.14,187.08 466.92,185.92 465.80,185.20 465.72,183.79 466.80,183.96 466.89,182.93 465.89,181.82 466.21,180.64 467.33,181.30 467.73,180.52 466.96,179.15 467.64,178.37 468.67,179.42" fill="#222" stroke="#000" stroke-width="0.60" stroke-linejoin="round" />
<polygon points="470.96,182.08 469.31,178.99 469.91,178.73 471.35,181.91" fill="#999" stroke="#000" stroke-width="0.20" stroke-linejoin="round" />
<polygon points="472.36,181.78 471.47,178.53 472.19,178.61 472.83,181.83" fill="#999" stroke="#000" stroke-width="0.20" stroke-linejoin="round" />
<polygon points="473.96,182.21 473.93,179.18 474.69,179.59 474.45,182.47" fill="#999" stroke="#000" stroke-width="0.20" stroke-linejoin="round" />
<polygon points="475.57,183.31 476.40,180.88 477.10,181.57 476.02,183.76" fill="#999" stroke="#000" stroke-width="0.20" stroke-linejoin="round" />
<polygon points="476.98,184.96 478.59,183.42 479.14,184.30 477.35,185.53" fill="#999" stroke="#000" stroke-width="0.20" stroke-linejoin="round" />
<polygon points="478.04,186.95 480.22,186.49 480.57,187.45 478.27,187.58" fill="#999" stroke="#000" stroke-width="0.20" stroke-linejoin="round" />
<polygon points="478.62,189.05 481.10,189.71 481.20,190.65 478.68,189.66" fill="#999" stroke="#000" stroke-width="0.20" stroke-linejoin="round" />
<polygon points="478.63,191.00 481.12,192.71 480.96,193.51 478.53,191.52" fill="#999" stroke="#000" stroke-width="0.20" stroke-linejoin="round" />
<polygon points="478.09,192.56 480.29,195.12 479.89,195.68 477.83,192.93" fill="#999" stroke="#000" stroke-width="0.20" stroke-linejoin="round" />
<polygon points="477.06,193.56 478.70,196.65 478.11,196.90 476.67,193.72" fill="#999" stroke="#000" stroke-width="0.20" stroke-linejoin="round" />
<polygon points="475.66,193.86 476.55,197.11 475.83,197.03 475.19,193.81" fill="#999" stroke="#000" stroke-width="0.20" stroke-linejoin="round" />
<polygon points="474.06,193.43 474.09,196.45 473.33,196.05 473.57,193.17" fill="#999" stroke="#000" stroke-width="0.20" stroke-linejoin="round" />
<polygon points="472.45,192.33 471.62,194.75 470.92,194.07 472.00,191.88" fill="#999" stroke="#000" stroke-width="0.20" stroke-linejoin="round" />
<polygon points="471.04,190.68 469.43,192.22 468.88,191.34 470.67,190.11" fill="#999" stroke="#000" stroke-width="0.20" stroke-linejoin="round" />
<polygon points="469.98,188.69 467.80,189.15 467.45,188.18 469.75,188.06" fill="#999" stroke="#000" stroke-width="0.20" stroke-linejoin="round" />
<polygon points="469.40,186.59 466.92,185.92 466.82,184.98 469.34,185.98" fill="#999" stroke="#000" stroke-width="0.20" stroke-linejoin="round" />
<polygon points="469.38,184.64 466.89,182.93 467.06,182.13 469.49,184.12" fill="#999" stroke="#000" stroke-width="0.20" stroke-linejoin="round" />
<polygon points="469.92,183.07 467.73,180.52 468.13,179.96 470.19,182.71" fill="#999" stroke="#000" stroke-width="0.20" stroke-linejoin="round" />
<polygon points="470.96,182.08 471.28,181.94 471.62,181.84 471.98,181.79 472.36,181.78 472.75,181.82 473.15,181.90 473.55,182.03 473.96,182.21 474.37,182.42 474.77,182.68 475.17,182.98 475.57,183.31 475.94,183.68 476.31,184.08 476.66,184.51 476.98,184.96 477.29,185.43 477.57,185.93 477.82,186.43 478.04,186.95 478.24,187.48 478.40,188.00 478.52,188.53 478.62,189.05 478.67,189.56 478.70,190.06 478.68,190.54 478.63,191.00 478.55,191.43 478.43,191.84 478.28,192.22 478.09,192.56 477.88,192.87 477.63,193.14 477.36,193.37 477.06,193.56 476.74,193.70 476.40,193.80 476.04,193.85 475.66,193.86 475.27,193.82 474.87,193.74 474.47,193.61 474.06,193.43 473.65,193.21 473.25,192.96 472.85,192.66 472.45,192.33 472.07,191.96 471.71,191.56 471.36,191.13 471.04,190.68 470.73,190.20 470.45,189.71 470.20,189.20 469.98,188.69 469.78,188.16 469.62,187.63 469.49,187.11 469.40,186.59 469.34,186.08 469.32,185.58 469.34,185.10 469.38,184.64 469.47,184.20 469.59,183.79 469.74,183.42 469.92,183.07 470.14,182.77 470.39,182.50 470.66,182.27" fill="#333" stroke="#000" stroke-width="0.80" stroke-linejoin="round" />
<path d="M471.0,182.8 a6,9 -30 0 0 4,9" fill="none" stroke="#fff" stroke-width="1.2"/>
</g>
<g id="rings_14_lower">
<polygon points="446.01,187.31 446.66,186.96 447.36,186.70 448.10,186.53 448.88,186.45 449.69,186.46 450.52,186.57 451.38,186.76 452.25,187.05 453.12,187.42 453.99,187.88 454.86,188.41 455.71,189.03 456.54,189.71 457.34,190.46 458.11,191.28 458.84,192.15 459.53,193.06 460.16,194.02 460.75,195.02 461.27,196.04 461.73,197.07 462.12,198.12 462.45,199.17 462.70,200.22 462.88,201.25 462.98,202.27 463.01,203.25 462.96,204.20 462.84,205.10 462.64,205.96 462.37,206.75 462.02,207.49 461.61,208.15 461.13,208.75 460.59,209.26 459.99,209.69 459.34,210.04 458.64,210.30 457.90,210.47 457.12,210.55 456.31,210.54 455.48,210.43 454.62,210.24 453.75,209.95 452.88,209.58 452.01,209.12 451.14,208.59 450.29,207.97 449.46,207.29 448.66,206.54 447.89,205.72 447.16,204.85 446.47,203.94 445.84,202.98 445.25,201.98 444.73,200.96 444.27,199.93 443.88,198.88 443.55,197.83 443.30,196.78 443.12,195.75 443.02,194.73 442.99,193.75 443.04,192.80 443.16,191.90 443.36,191.04 443.63,190.25 443.98,189.51 444.39,188.85 444.87,188.25 445.41,187.74" fill="none" stroke="#000" stroke-width="1.80" stroke-linejoin="round" />
<polygon points="426.41,198.41 427.06,198.06 427.76,197.80 428.50,197.63 429.28,197.55 430.09,197.56 430.92,197.67 431.78,197.86 432.65,198.15 433.52,198.52 434.39,198.98 435.26,199.51 436.11,200.13 436.94,200.81 437.74,201.56 438.51,202.38 439.24,203.25 439.93,204.16 440.56,205.12 441.15,206.12 441.67,207.14 442.13,208.17 442.52,209.22 442.85,210.27 443.10,211.32 443.28,212.35 443.38,213.37 443.41,214.35 443.36,215.30 443.24,216.20 443.04,217.06 442.77,217.85 442.42,218.59 442.01,219.25 441.53,219.85 440.99,220.36 440.39,220.79 439.74,221.14 439.04,221.40 438.30,221.57 437.52,221.65 436.71,221.64 435.88,221.53 435.02,221.34 434.15,221.05 433.28,220.68 432.41,220.22 431.54,219.69 430.69,219.07 429.86,218.39 429.06,217.64 428.29,216.82 427.56,215.95 426.87,215.04 426.24,214.08 425.65,213.08 425.13,212.06 424.67,211.03 424.28,209.98 423.95,208.93 423.70,207.88 423.52,206.85 423.42,205.83 423.39,204.85 423.44,203.90 423.56,203.00 423.76,202.14 424.03,201.35 424.38,200.61 424.79,199.95 425.27,199.35 425.81,198.84" fill="none" stroke="#000" stroke-width="1.80" stroke-linejoin="round" />
</g>
<g id="basket_2_left">
<polygon points="394.94,280.47 393.01,281.31 390.94,281.85 388.75,282.10 386.45,282.04 384.06,281.69 381.60,281.03 379.09,280.08 376.55,278.85 373.99,277.34 371.44,275.56 368.91,273.54 366.43,271.27 364.01,268.79 361.68,266.11 359.44,263.25 357.32,260.23 355.33,257.07 353.49,253.80 351.81,250.45 350.31,247.04 348.99,243.59 347.87,240.14 346.95,236.70 346.24,233.31 345.75,229.98 345.49,226.76 345.44,223.65 345.62,220.68 346.02,217.88 346.64,215.27 347.47,212.87 348.51,210.69 349.75,208.75 351.18,207.07 352.79,205.66 354.56,204.53 378.70,191.70 380.63,190.86 382.70,190.31 384.89,190.07 387.19,190.12 389.58,190.48 392.04,191.13 394.55,192.08 397.09,193.31 399.65,194.82 402.20,196.60 404.73,198.63 407.21,200.89 409.63,203.37 411.96,206.06 414.20,208.92 416.32,211.94 418.31,215.09 420.15,218.36 421.83,221.71 423.33,225.12 424.65,228.57 425.77,232.03 426.69,235.46 427.40,238.86 427.89,242.18 428.15,245.41 428.20,248.52 428.02,251.48 427.62,254.28 427.00,256.89 426.17,259.30 425.13,261.48 423.89,263.41 422.46,265.09 420.85,266.50 419.08,267.63" fill="#2a2a2a" stroke="#000" stroke-width="1.00" stroke-linejoin="round" />
<polygon points="360.33,202.07 362.68,201.75 369.99,197.86 367.65,198.18" fill="#eee" stroke="#000" stroke-width="0.35" stroke-linejoin="round" />
<polygon points="364.32,201.73 366.86,202.00 374.18,198.11 371.63,197.84" fill="#eee" stroke="#000" stroke-width="0.35" stroke-linejoin="round" />
<polygon points="368.61,202.37 371.29,203.22 378.61,199.33 375.93,198.48" fill="#eee" stroke="#000" stroke-width="0.35" stroke-linejoin="round" />
<polygon points="373.11,203.97 375.86,205.38 383.18,201.49 380.42,200.08" fill="#eee" stroke="#000" stroke-width="0.35" stroke-linejoin="round" />
<polygon points="377.70,206.49 380.46,208.42 387.77,204.53 385.02,202.60" fill="#eee" stroke="#000" stroke-width="0.35" stroke-linejoin="round" />
<polygon points="382.28,209.87 384.97,212.28 392.28,208.39 389.59,205.98" fill="#eee" stroke="#000" stroke-width="0.35" stroke-linejoin="round" />
<polygon points="386.72,214.02 389.28,216.85 396.60,212.96 394.04,210.13" fill="#eee" stroke="#000" stroke-width="0.35" stroke-linejoin="round" />
<polygon points="390.93,218.85 393.29,222.02 400.61,218.13 398.24,214.96" fill="#eee" stroke="#000" stroke-width="0.35" stroke-linejoin="round" />
<polygon points="394.79,224.23 396.90,227.67 404.21,223.78 402.10,220.34" fill="#eee" stroke="#000" stroke-width="0.35" stroke-linejoin="round" />
<polygon points="398.21,230.03 400.01,233.65 407.33,229.76 405.52,226.14" fill="#eee" stroke="#000" stroke-width="0.35" stroke-linejoin="round" />
<polygon points="401.10,236.11 402.56,239.83 409.87,235.94 408.42,232.22" fill="#eee" stroke="#000" stroke-width="0.35" stroke-linejoin="round" />
<polygon points="403.40,242.31 404.47,246.04 411.79,242.15 410.72,238.42" fill="#eee" stroke="#000" stroke-width="0.35" stroke-linejoin="round" />
<polygon points="405.05,248.50 405.71,252.13 413.03,248.24 412.37,244.61" fill="#eee" stroke="#000" stroke-width="0.35" stroke-linejoin="round" />
<polygon points="406.01,254.50 406.24,257.96 413.56,254.07 413.33,250.61" fill="#eee" stroke="#000" stroke-width="0.35" stroke-linejoin="round" />
<polygon points="406.25,260.19 406.05,263.38 413.37,259.49 413.57,256.30" fill="#eee" stroke="#000" stroke-width="0.35" stroke-linejoin="round" />
<polygon points="405.77,265.40 405.14,268.26 412.46,264.37 413.09,261.51" fill="#eee" stroke="#000" stroke-width="0.35" stroke-linejoin="round" />
<polygon points="404.58,270.03 403.54,272.47 410.86,268.58 411.90,266.14" fill="#eee" stroke="#000" stroke-width="0.35" stroke-linejoin="round" />
<polygon points="402.71,273.95 401.28,275.92 408.60,272.03 410.03,270.06" fill="#eee" stroke="#000" stroke-width="0.35" stroke-linejoin="round" />
<polygon points="400.21,277.06 398.43,278.52 405.74,274.63 407.52,273.17" fill="#eee" stroke="#000" stroke-width="0.35" stroke-linejoin="round" />
<polygon points="369.48,197.20 371.82,196.89 379.14,193.00 376.79,193.31" fill="#eee" stroke="#000" stroke-width="0.35" stroke-linejoin="round" />
<polygon points="373.46,196.87 376.01,197.14 383.32,193.25 380.77,192.98" fill="#eee" stroke="#000" stroke-width="0.35" stroke-linejoin="round" />
<polygon points="377.75,197.51 380.44,198.36 387.75,194.47 385.07,193.62" fill="#eee" stroke="#000" stroke-width="0.35" stroke-linejoin="round" />
<polygon points="382.25,199.11 385.01,200.52 392.32,196.63 389.57,195.22" fill="#eee" stroke="#000" stroke-width="0.35" stroke-linejoin="round" />
<polygon points="386.85,201.63 389.60,203.56 396.92,199.67 394.16,197.74" fill="#eee" stroke="#000" stroke-width="0.35" stroke-linejoin="round" />
<polygon points="391.42,205.01 394.11,207.41 401.43,203.52 398.74,201.12" fill="#eee" stroke="#000" stroke-width="0.35" stroke-linejoin="round" />
<polygon points="395.87,209.16 398.43,211.98 405.74,208.09 403.18,205.27" fill="#eee" stroke="#000" stroke-width="0.35" stroke-linejoin="round" />
<polygon points="400.07,213.99 402.43,217.16 409.75,213.27 407.39,210.10" fill="#eee" stroke="#000" stroke-width="0.35" stroke-linejoin="round" />
<polygon points="403.93,219.37 406.04,222.80 413.36,218.92 411.25,215.48" fill="#eee" stroke="#000" stroke-width="0.35" stroke-linejoin="round" />
<polygon points="407.35,225.17 409.16,228.79 416.47,224.90 414.67,221.28" fill="#eee" stroke="#000" stroke-width="0.35" stroke-linejoin="round" />
<polygon points="410.25,231.24 411.70,234.96 419.02,231.07 417.56,227.36" fill="#eee" stroke="#000" stroke-width="0.35" stroke-linejoin="round" />
<polygon points="412.55,237.45 413.62,241.17 420.93,237.28 419.86,233.56" fill="#eee" stroke="#000" stroke-width="0.35" stroke-linejoin="round" />
<polygon points="414.20,243.64 414.86,247.27 422.17,243.38 421.51,239.75" fill="#eee" stroke="#000" stroke-width="0.35" stroke-linejoin="round" />
<polygon points="415.16,249.64 415.39,253.10 422.70,249.21 422.47,245.75" fill="#eee" stroke="#000" stroke-width="0.35" stroke-linejoin="round" />
<polygon points="415.40,255.32 415.20,258.52 422.51,254.63 422.71,251.43" fill="#eee" stroke="#000" stroke-width="0.35" stroke-linejoin="round" />
<polygon points="414.92,260.54 414.29,263.40 421.60,259.51 422.23,256.65" fill="#eee" stroke="#000" stroke-width="0.35" stroke-linejoin="round" />
<polygon points="413.73,265.17 412.68,267.61 420.00,263.72 421.04,261.28" fill="#eee" stroke="#000" stroke-width="0.35" stroke-linejoin="round" />
<polygon points="411.86,269.09 410.43,271.06 417.74,267.17 419.17,265.20" fill="#eee" stroke="#000" stroke-width="0.35" stroke-linejoin="round" />
<polygon points="409.35,272.20 407.57,273.65 414.89,269.76 416.67,268.31" fill="#eee" stroke="#000" stroke-width="0.35" stroke-linejoin="round" />
<polygon points="378.62,192.34 380.97,192.02 383.89,190.47 381.55,190.79" fill="#eee" stroke="#000" stroke-width="0.35" stroke-linejoin="round" />
<polygon points="382.60,192.01 385.15,192.28 388.08,190.72 385.53,190.45" fill="#eee" stroke="#000" stroke-width="0.35" stroke-linejoin="round" />
<polygon points="386.90,192.65 389.58,193.50 392.51,191.94 389.82,191.09" fill="#eee" stroke="#000" stroke-width="0.35" stroke-linejoin="round" />
<polygon points="391.40,194.25 394.15,195.65 397.08,194.10 394.32,192.69" fill="#eee" stroke="#000" stroke-width="0.35" stroke-linejoin="round" />
<polygon points="395.99,196.77 398.75,198.70 401.67,197.14 398.92,195.21" fill="#eee" stroke="#000" stroke-width="0.35" stroke-linejoin="round" />
<polygon points="400.57,200.15 403.26,202.55 406.18,201.00 403.49,198.59" fill="#eee" stroke="#000" stroke-width="0.35" stroke-linejoin="round" />
<polygon points="405.01,204.30 407.57,207.12 410.50,205.57 407.94,202.74" fill="#eee" stroke="#000" stroke-width="0.35" stroke-linejoin="round" />
<polygon points="409.21,209.13 411.58,212.29 414.50,210.74 412.14,207.57" fill="#eee" stroke="#000" stroke-width="0.35" stroke-linejoin="round" />
<polygon points="413.07,214.50 415.18,217.94 418.11,216.39 416.00,212.95" fill="#eee" stroke="#000" stroke-width="0.35" stroke-linejoin="round" />
<polygon points="416.49,220.30 418.30,223.93 421.23,222.37 419.42,218.75" fill="#eee" stroke="#000" stroke-width="0.35" stroke-linejoin="round" />
<polygon points="419.39,226.38 420.85,230.10 423.77,228.55 422.32,224.83" fill="#eee" stroke="#000" stroke-width="0.35" stroke-linejoin="round" />
<polygon points="421.69,232.59 422.76,236.31 425.69,234.76 424.62,231.03" fill="#eee" stroke="#000" stroke-width="0.35" stroke-linejoin="round" />
<polygon points="423.34,238.77 424.00,242.41 426.93,240.85 426.27,237.22" fill="#eee" stroke="#000" stroke-width="0.35" stroke-linejoin="round" />
<polygon points="424.30,244.78 424.53,248.24 427.46,246.68 427.23,243.22" fill="#eee" stroke="#000" stroke-width="0.35" stroke-linejoin="round" />
<polygon points="424.54,250.46 424.34,253.66 427.27,252.10 427.47,248.91" fill="#eee" stroke="#000" stroke-width="0.35" stroke-linejoin="round" />
<polygon points="424.06,255.68 423.43,258.53 426.36,256.98 426.99,254.12" fill="#eee" stroke="#000" stroke-width="0.35" stroke-linejoin="round" />
<polygon points="422.87,260.31 421.83,262.75 424.75,261.19 425.80,258.75" fill="#eee" stroke="#000" stroke-width="0.35" stroke-linejoin="round" />
<polygon points="421.00,264.22 419.57,266.20 422.50,264.64 423.93,262.67" fill="#eee" stroke="#000" stroke-width="0.35" stroke-linejoin="round" />
<polygon points="418.50,267.34 416.71,268.79 419.64,267.24 421.42,265.78" fill="#eee" stroke="#000" stroke-width="0.35" stroke-linejoin="round" />
<polygon points="354.56,204.53 356.49,203.69 358.56,203.15 360.75,202.90 363.05,202.96 365.44,203.31 367.90,203.97 370.41,204.92 372.95,206.15 375.51,207.66 378.06,209.44 380.59,211.46 383.07,213.73 385.49,216.21 387.82,218.89 390.06,221.75 392.18,224.77 394.17,227.93 396.01,231.20 397.69,234.55 399.19,237.96 400.51,241.41 401.63,244.86 402.55,248.30 403.26,251.69 403.75,255.02 404.01,258.24 404.06,261.35 403.88,264.32 403.48,267.12 402.86,269.73 402.03,272.13 400.99,274.31 399.75,276.25 398.32,277.93 396.71,279.34 394.94,280.47 393.01,281.31 390.94,281.85 388.75,282.10 386.45,282.04 384.06,281.69 381.60,281.03 379.09,280.08 376.55,278.85 373.99,277.34 371.44,275.56 368.91,273.54 366.43,271.27 364.01,268.79 361.68,266.11 359.44,263.25 357.32,260.23 355.33,257.07 353.49,253.80 351.81,250.45 350.31,247.04 348.99,243.59 347.87,240.14 346.95,236.70 346.24,233.31 345.75,229.98 345.49,226.76 345.44,223.65 345.62,220.68 346.02,217.88 346.64,215.27 347.47,212.87 348.51,210.69 349.75,208.75 351.18,207.07 352.79,205.66" fill="#999" stroke="#000" stroke-width="1.10" stroke-linejoin="round" />
<polygon points="358.08,211.16 355.03,205.42 356.56,204.72 359.38,210.57" fill="#333" stroke="#000" stroke-width="0.30" stroke-linejoin="round" />
<polygon points="360.75,210.15 358.19,204.22 359.90,203.92 362.20,209.89" fill="#333" stroke="#000" stroke-width="0.30" stroke-linejoin="round" />
<polygon points="363.70,209.80 361.68,203.81 363.53,203.90 365.27,209.87" fill="#333" stroke="#000" stroke-width="0.30" stroke-linejoin="round" />
<polygon points="366.88,210.11 365.44,204.18 367.40,204.66 368.53,210.52" fill="#333" stroke="#000" stroke-width="0.30" stroke-linejoin="round" />
<polygon points="370.22,211.09 369.39,205.33 371.41,206.20 371.93,211.81" fill="#333" stroke="#000" stroke-width="0.30" stroke-linejoin="round" />
<polygon points="373.65,212.70 373.45,207.24 375.49,208.47 375.38,213.74" fill="#333" stroke="#000" stroke-width="0.30" stroke-linejoin="round" />
<polygon points="377.10,214.92 377.53,209.87 379.56,211.44 378.81,216.24" fill="#333" stroke="#000" stroke-width="0.30" stroke-linejoin="round" />
<polygon points="380.51,217.70 381.56,213.16 383.53,215.04 382.17,219.29" fill="#333" stroke="#000" stroke-width="0.30" stroke-linejoin="round" />
<polygon points="383.79,220.99 385.45,217.05 387.32,219.19 385.37,222.80" fill="#333" stroke="#000" stroke-width="0.30" stroke-linejoin="round" />
<polygon points="386.90,224.71 389.12,221.46 390.85,223.83 388.36,226.72" fill="#333" stroke="#000" stroke-width="0.30" stroke-linejoin="round" />
<polygon points="389.75,228.80 392.50,226.29 394.06,228.84 391.07,230.95" fill="#333" stroke="#000" stroke-width="0.30" stroke-linejoin="round" />
<polygon points="392.30,233.17 395.52,231.46 396.87,234.13 393.45,235.43" fill="#333" stroke="#000" stroke-width="0.30" stroke-linejoin="round" />
<polygon points="394.50,237.72 398.11,236.85 399.23,239.59 395.44,240.04" fill="#333" stroke="#000" stroke-width="0.30" stroke-linejoin="round" />
<polygon points="396.29,242.38 400.23,242.35 401.10,245.11 397.02,244.71" fill="#333" stroke="#000" stroke-width="0.30" stroke-linejoin="round" />
<polygon points="397.64,247.03 401.83,247.86 402.43,250.58 398.14,249.33" fill="#333" stroke="#000" stroke-width="0.30" stroke-linejoin="round" />
<polygon points="398.53,251.59 402.88,253.26 403.19,255.88 398.79,253.81" fill="#333" stroke="#000" stroke-width="0.30" stroke-linejoin="round" />
<polygon points="398.93,255.97 403.36,258.44 403.38,260.91 398.95,258.06" fill="#333" stroke="#000" stroke-width="0.30" stroke-linejoin="round" />
<polygon points="398.84,260.08 403.25,263.30 402.98,265.57 398.61,262.00" fill="#333" stroke="#000" stroke-width="0.30" stroke-linejoin="round" />
<polygon points="398.26,263.82 402.57,267.73 402.01,269.76 397.79,265.54" fill="#333" stroke="#000" stroke-width="0.30" stroke-linejoin="round" />
<polygon points="397.20,267.13 401.31,271.65 400.48,273.39 396.50,268.61" fill="#333" stroke="#000" stroke-width="0.30" stroke-linejoin="round" />
<polygon points="395.69,269.95 399.52,274.97 398.43,276.39 394.77,271.14" fill="#333" stroke="#000" stroke-width="0.30" stroke-linejoin="round" />
<polygon points="393.74,272.20 397.22,277.63 395.90,278.70 392.63,273.10" fill="#333" stroke="#000" stroke-width="0.30" stroke-linejoin="round" />
<polygon points="391.42,273.84 394.47,279.58 392.94,280.28 390.12,274.43" fill="#333" stroke="#000" stroke-width="0.30" stroke-linejoin="round" />
<polygon points="388.75,274.85 391.31,280.78 389.60,281.08 387.30,275.11" fill="#333" stroke="#000" stroke-width="0.30" stroke-linejoin="round" />
<polygon points="385.80,275.20 387.82,281.19 385.97,281.10 384.23,275.13" fill="#333" stroke="#000" stroke-width="0.30" stroke-linejoin="round" />
<polygon points="382.62,274.89 384.06,280.82 382.10,280.34 380.97,274.48" fill="#333" stroke="#000" stroke-width="0.30" stroke-linejoin="round" />
<polygon points="379.28,273.91 380.11,279.67 378.09,278.80 377.57,273.19" fill="#333" stroke="#000" stroke-width="0.30" stroke-linejoin="round" />
<polygon points="375.85,272.30 376.05,277.76 374.01,276.53 374.12,271.26" fill="#333" stroke="#000" stroke-width="0.30" stroke-linejoin="round" />
<polygon points="372.40,270.08 371.97,275.13 369.94,273.56 370.69,268.76" fill="#333" stroke="#000" stroke-width="0.30" stroke-linejoin="round" />
<polygon points="368.99,267.30 367.94,271.84 365.97,269.96 367.33,265.71" fill="#333" stroke="#000" stroke-width="0.30" stroke-linejoin="round" />
<polygon points="365.71,264.01 364.05,267.95 362.18,265.81 364.13,262.20" fill="#333" stroke="#000" stroke-width="0.30" stroke-linejoin="round" />
<polygon points="362.60,260.29 360.38,263.54 358.65,261.17 361.14,258.28" fill="#333" stroke="#000" stroke-width="0.30" stroke-linejoin="round" />
<polygon points="359.75,256.20 357.00,258.71 355.44,256.16 358.43,254.05" fill="#333" stroke="#000" stroke-width="0.30" stroke-linejoin="round" />
<polygon points="357.20,251.83 353.98,253.54 352.63,250.87 356.05,249.57" fill="#333" stroke="#000" stroke-width="0.30" stroke-linejoin="round" />
<polygon points="355.00,247.28 351.39,248.15 350.27,245.41 354.06,244.96" fill="#333" stroke="#000" stroke-width="0.30" stroke-linejoin="round" />
<polygon points="353.21,242.62 349.27,242.65 348.40,239.89 352.48,240.29" fill="#333" stroke="#000" stroke-width="0.30" stroke-linejoin="round" />
<polygon points="351.86,237.97 347.67,237.14 347.07,234.42 351.36,235.67" fill="#333" stroke="#000" stroke-width="0.30" stroke-linejoin="round" />
<polygon points="350.97,233.41 346.62,231.74 346.31,229.12 350.71,231.19" fill="#333" stroke="#000" stroke-width="0.30" stroke-linejoin="round" />
<polygon points="350.57,229.03 346.14,226.56 346.12,224.09 350.55,226.94" fill="#333" stroke="#000" stroke-width="0.30" stroke-linejoin="round" />
<polygon points="350.66,224.92 346.25,221.70 346.52,219.43 350.89,223.00" fill="#333" stroke="#000" stroke-width="0.30" stroke-linejoin="round" />
<polygon points="351.24,221.18 346.93,217.27 347.49,215.24 351.71,219.46" fill="#333" stroke="#000" stroke-width="0.30" stroke-linejoin="round" />
<polygon points="352.30,217.87 348.19,213.35 349.02,211.61 353.00,216.39" fill="#333" stroke="#000" stroke-width="0.30" stroke-linejoin="round" />
<polygon points="353.81,215.05 349.98,210.03 351.07,208.61 354.73,213.86" fill="#333" stroke="#000" stroke-width="0.30" stroke-linejoin="round" />
<polygon points="355.76,212.80 352.28,207.37 353.60,206.30 356.87,211.90" fill="#333" stroke="#000" stroke-width="0.30" stroke-linejoin="round" />
<polygon points="361.48,210.48 363.03,209.81 364.69,209.37 366.45,209.17 368.29,209.22 370.21,209.50 372.18,210.03 374.19,210.79 376.23,211.78 378.29,212.99 380.33,214.42 382.36,216.04 384.35,217.86 386.29,219.85 388.17,222.00 389.96,224.30 391.66,226.72 393.26,229.25 394.73,231.87 396.08,234.56 397.29,237.30 398.35,240.07 399.25,242.84 399.98,245.60 400.55,248.32 400.94,250.99 401.15,253.58 401.19,256.07 401.05,258.45 400.73,260.69 400.23,262.79 399.56,264.72 398.73,266.47 397.74,268.02 396.59,269.37 395.30,270.50 393.87,271.41 392.32,272.08 390.66,272.52 388.91,272.72 387.06,272.67 385.15,272.39 383.17,271.86 381.16,271.10 379.12,270.11 377.07,268.90 375.02,267.47 372.99,265.85 371.00,264.03 369.06,262.04 367.19,259.89 365.39,257.59 363.69,255.17 362.09,252.63 360.62,250.01 359.27,247.32 358.06,244.59 357.01,241.82 356.11,239.05 355.37,236.29 354.80,233.57 354.41,230.90 354.20,228.31 354.16,225.82 354.30,223.44 354.62,221.19 355.12,219.10 355.79,217.17 356.62,215.42 357.62,213.87 358.76,212.52 360.05,211.39" fill="#fff" stroke="#000" stroke-width="0.90" stroke-linejoin="round" />
<polygon points="362.89,213.13 364.30,212.52 365.82,212.12 367.42,211.94 369.11,211.98 370.86,212.24 372.66,212.72 374.50,213.41 376.36,214.32 378.23,215.42 380.10,216.72 381.95,218.21 383.77,219.87 385.54,221.68 387.25,223.65 388.89,225.75 390.45,227.96 391.90,230.27 393.25,232.66 394.48,235.12 395.58,237.62 396.55,240.14 397.37,242.67 398.04,245.19 398.56,247.68 398.92,250.11 399.11,252.48 399.15,254.75 399.02,256.93 398.72,258.98 398.27,260.89 397.66,262.65 396.90,264.25 395.99,265.67 394.94,266.90 393.77,267.93 392.46,268.76 391.05,269.37 389.54,269.77 387.93,269.95 386.25,269.91 384.50,269.65 382.70,269.17 380.86,268.48 378.99,267.57 377.12,266.47 375.25,265.17 373.40,263.68 371.58,262.02 369.81,260.20 368.10,258.24 366.46,256.14 364.91,253.93 363.45,251.62 362.10,249.23 360.87,246.77 359.77,244.27 358.80,241.74 357.98,239.21 357.31,236.70 356.79,234.21 356.44,231.78 356.24,229.41 356.21,227.13 356.34,224.96 356.63,222.91 357.08,221.00 357.69,219.24 358.45,217.64 359.36,216.22 360.41,214.99 361.59,213.96" fill="none" stroke="#000" stroke-width="0.50" stroke-linejoin="round" />
<path d="M365.97,217.16 L367.16,216.64 L368.43,216.30 L369.78,216.15 L371.20,216.19 L372.67,216.40 L374.18,216.81 L375.73,217.39 L377.30,218.15 L378.88,219.08 L380.45,220.18 L382.01,221.43 L383.53,222.82 L385.03,224.35 L386.47,226.01 L387.84,227.77 L389.15,229.63 L390.38,231.58 L391.51,233.59 L392.54,235.65 L393.47,237.76 L394.28,239.88 L394.98,242.01 L395.54,244.13 L395.98,246.22 L396.28,248.27 L396.44,250.26 L396.47,252.17 L396.36,254.00 L396.11,255.73 L395.73,257.34 L395.22,258.82 L394.58,260.16 L393.82,261.35 L392.93,262.39 L391.94,263.26 L390.85,263.95 L389.66,264.47 L388.38,264.81 L387.03,264.96 L385.62,264.93 L384.15,264.71 L382.63,264.30 L381.08,263.72 L379.52,262.96 L377.94,262.03 L376.37,260.93 L374.81,259.68 L373.28,258.29 L371.79,256.76 L370.35,255.10 L368.97,253.34 L367.66,251.48 L366.44,249.53 L365.30,247.52 L364.27,245.46 L363.34,243.35 L362.53,241.23 L361.84,239.10 L361.27,236.98 L360.84,234.89 L360.54,232.84 L360.37,230.85 L360.35,228.94 L360.45,227.11 L360.70,225.38 L361.08,223.78 L361.59,222.29 L362.24,220.95 L363.00,219.76 L363.88,218.72 L364.87,217.85 L365.97,217.16 Z M369.72,224.22 L368.96,224.71 L368.27,225.31 L367.65,226.04 L367.12,226.87 L366.67,227.81 L366.31,228.84 L366.05,229.96 L365.87,231.17 L365.80,232.44 L365.82,233.78 L365.93,235.17 L366.14,236.60 L366.45,238.06 L366.84,239.54 L367.32,241.03 L367.89,242.51 L368.54,243.98 L369.26,245.42 L370.05,246.82 L370.91,248.18 L371.82,249.48 L372.78,250.71 L373.79,251.87 L374.83,252.93 L375.90,253.91 L376.98,254.78 L378.08,255.54 L379.18,256.19 L380.28,256.73 L381.36,257.13 L382.41,257.41 L383.44,257.57 L384.43,257.59 L385.37,257.49 L386.26,257.25 L387.09,256.89 L387.86,256.40 L388.55,255.80 L389.16,255.07 L389.70,254.24 L390.14,253.30 L390.50,252.27 L390.77,251.15 L390.94,249.94 L391.02,248.67 L391.00,247.33 L390.88,245.94 L390.67,244.51 L390.37,243.05 L389.97,241.57 L389.49,240.08 L388.92,238.60 L388.28,237.13 L387.55,235.69 L386.76,234.29 L385.91,232.93 L385.00,231.63 L384.03,230.40 L383.03,229.24 L381.99,228.18 L380.92,227.20 L379.83,226.33 L378.73,225.57 L377.63,224.92 L376.54,224.39 L375.46,223.98 L374.40,223.70 L373.37,223.54 L372.39,223.52 L371.44,223.62 L370.55,223.86 L369.72,224.22 Z" fill="#3a3a3a" fill-rule="evenodd" stroke="#000" stroke-width="0.80"/>
<polygon points="369.59,223.17 366.88,217.82 367.82,217.46 370.31,222.90" fill="#bbb" stroke="#000" stroke-width="0.30" stroke-linejoin="round" />
<polygon points="371.46,222.65 369.32,217.14 370.38,217.06 372.27,222.59" fill="#bbb" stroke="#000" stroke-width="0.30" stroke-linejoin="round" />
<polygon points="373.53,222.67 372.03,217.17 373.17,217.38 374.41,222.83" fill="#bbb" stroke="#000" stroke-width="0.30" stroke-linejoin="round" />
<polygon points="375.75,223.24 374.94,217.91 376.13,218.40 376.67,223.61" fill="#bbb" stroke="#000" stroke-width="0.30" stroke-linejoin="round" />
<polygon points="378.06,224.33 377.95,219.34 379.16,220.09 378.98,224.91" fill="#bbb" stroke="#000" stroke-width="0.30" stroke-linejoin="round" />
<polygon points="380.37,225.92 380.97,221.41 382.17,222.41 381.28,226.68" fill="#bbb" stroke="#000" stroke-width="0.30" stroke-linejoin="round" />
<polygon points="382.62,227.95 383.92,224.07 385.06,225.27 383.49,228.87" fill="#bbb" stroke="#000" stroke-width="0.30" stroke-linejoin="round" />
<polygon points="384.75,230.36 386.70,227.22 387.75,228.60 385.55,231.42" fill="#bbb" stroke="#000" stroke-width="0.30" stroke-linejoin="round" />
<polygon points="386.68,233.08 389.23,230.78 390.15,232.30 387.39,234.24" fill="#bbb" stroke="#000" stroke-width="0.30" stroke-linejoin="round" />
<polygon points="388.36,236.03 391.43,234.64 392.20,236.24 388.95,237.26" fill="#bbb" stroke="#000" stroke-width="0.30" stroke-linejoin="round" />
<polygon points="389.74,239.12 393.23,238.68 393.83,240.32 390.20,240.37" fill="#bbb" stroke="#000" stroke-width="0.30" stroke-linejoin="round" />
<polygon points="390.78,242.25 394.58,242.77 394.99,244.40 391.09,243.50" fill="#bbb" stroke="#000" stroke-width="0.30" stroke-linejoin="round" />
<polygon points="391.44,245.33 395.44,246.80 395.64,248.37 391.59,246.53" fill="#bbb" stroke="#000" stroke-width="0.30" stroke-linejoin="round" />
<polygon points="391.70,248.27 395.79,250.64 395.78,252.09 391.69,249.38" fill="#bbb" stroke="#000" stroke-width="0.30" stroke-linejoin="round" />
<polygon points="391.56,250.97 395.60,254.17 395.38,255.47 391.39,251.96" fill="#bbb" stroke="#000" stroke-width="0.30" stroke-linejoin="round" />
<polygon points="391.02,253.35 394.90,257.29 394.47,258.40 390.69,254.20" fill="#bbb" stroke="#000" stroke-width="0.30" stroke-linejoin="round" />
<polygon points="390.09,255.35 393.69,259.90 393.07,260.78 389.62,256.02" fill="#bbb" stroke="#000" stroke-width="0.30" stroke-linejoin="round" />
<polygon points="388.82,256.89 392.02,261.92 391.23,262.55 388.21,257.37" fill="#bbb" stroke="#000" stroke-width="0.30" stroke-linejoin="round" />
<polygon points="387.22,257.94 389.93,263.29 389.00,263.65 386.50,258.21" fill="#bbb" stroke="#000" stroke-width="0.30" stroke-linejoin="round" />
<polygon points="385.36,258.46 387.50,263.97 386.44,264.05 384.55,258.52" fill="#bbb" stroke="#000" stroke-width="0.30" stroke-linejoin="round" />
<polygon points="383.28,258.44 384.78,263.94 383.64,263.73 382.41,258.28" fill="#bbb" stroke="#000" stroke-width="0.30" stroke-linejoin="round" />
<polygon points="381.06,257.87 381.88,263.20 380.68,262.71 380.15,257.50" fill="#bbb" stroke="#000" stroke-width="0.30" stroke-linejoin="round" />
<polygon points="378.76,256.78 378.87,261.77 377.65,261.02 377.83,256.20" fill="#bbb" stroke="#000" stroke-width="0.30" stroke-linejoin="round" />
<polygon points="376.45,255.20 375.84,259.70 374.65,258.70 375.53,254.43" fill="#bbb" stroke="#000" stroke-width="0.30" stroke-linejoin="round" />
<polygon points="374.19,253.16 372.90,257.04 371.76,255.84 373.32,252.24" fill="#bbb" stroke="#000" stroke-width="0.30" stroke-linejoin="round" />
<polygon points="372.07,250.75 370.12,253.89 369.07,252.51 371.27,249.69" fill="#bbb" stroke="#000" stroke-width="0.30" stroke-linejoin="round" />
<polygon points="370.13,248.03 367.59,250.33 366.66,248.81 369.43,246.87" fill="#bbb" stroke="#000" stroke-width="0.30" stroke-linejoin="round" />
<polygon points="368.45,245.08 365.39,246.47 364.62,244.87 367.86,243.85" fill="#bbb" stroke="#000" stroke-width="0.30" stroke-linejoin="round" />
<polygon points="367.07,241.99 363.59,242.43 362.99,240.79 366.62,240.74" fill="#bbb" stroke="#000" stroke-width="0.30" stroke-linejoin="round" />
<polygon points="366.04,238.86 362.23,238.34 361.83,236.71 365.73,237.62" fill="#bbb" stroke="#000" stroke-width="0.30" stroke-linejoin="round" />
<polygon points="365.38,235.78 361.37,234.31 361.17,232.74 365.23,234.58" fill="#bbb" stroke="#000" stroke-width="0.30" stroke-linejoin="round" />
<polygon points="365.12,232.84 361.03,230.47 361.04,229.02 365.12,231.73" fill="#bbb" stroke="#000" stroke-width="0.30" stroke-linejoin="round" />
<polygon points="365.26,230.14 361.21,226.94 361.43,225.64 365.43,229.15" fill="#bbb" stroke="#000" stroke-width="0.30" stroke-linejoin="round" />
<polygon points="365.80,227.76 361.92,223.82 362.34,222.71 366.12,226.91" fill="#bbb" stroke="#000" stroke-width="0.30" stroke-linejoin="round" />
<polygon points="366.72,225.76 363.13,221.21 363.74,220.33 367.19,225.09" fill="#bbb" stroke="#000" stroke-width="0.30" stroke-linejoin="round" />
<polygon points="368.00,224.22 364.80,219.19 365.59,218.56 368.60,223.74" fill="#bbb" stroke="#000" stroke-width="0.30" stroke-linejoin="round" />
<path d="M375.12,225.54 L375.94,225.19 L376.82,224.95 L377.75,224.85 L378.73,224.87 L379.75,225.02 L380.79,225.30 L381.86,225.71 L382.94,226.23 L384.03,226.87 L385.12,227.63 L386.19,228.49 L387.25,229.46 L388.28,230.51 L389.27,231.65 L390.22,232.87 L391.13,234.16 L391.97,235.50 L392.76,236.89 L393.47,238.32 L394.11,239.77 L394.67,241.24 L395.15,242.71 L395.54,244.17 L395.84,245.61 L396.05,247.03 L396.16,248.40 L396.18,249.72 L396.11,250.99 L395.94,252.18 L395.67,253.29 L395.32,254.31 L394.88,255.24 L394.35,256.06 L393.74,256.78 L393.06,257.38 L392.30,257.86 L391.48,258.22 L390.60,258.45 L389.66,258.55 L388.69,258.53 L387.67,258.38 L386.62,258.10 L385.56,257.70 L384.47,257.17 L383.39,256.53 L382.30,255.77 L381.22,254.91 L380.17,253.95 L379.14,252.89 L378.14,251.75 L377.19,250.53 L376.29,249.24 L375.44,247.90 L374.66,246.51 L373.95,245.09 L373.31,243.63 L372.74,242.17 L372.27,240.70 L371.88,239.23 L371.58,237.79 L371.37,236.37 L371.25,235.00 L371.24,233.68 L371.31,232.42 L371.48,231.22 L371.74,230.11 L372.10,229.09 L372.54,228.16 L373.07,227.34 L373.68,226.62 L374.36,226.02 L375.12,225.54 Z M379.48,233.75 L379.11,233.99 L378.77,234.29 L378.48,234.64 L378.22,235.04 L378.00,235.50 L377.82,236.00 L377.69,236.55 L377.61,237.13 L377.57,237.75 L377.58,238.41 L377.64,239.08 L377.74,239.78 L377.89,240.49 L378.08,241.21 L378.32,241.93 L378.59,242.65 L378.91,243.37 L379.26,244.07 L379.64,244.75 L380.06,245.41 L380.50,246.04 L380.97,246.64 L381.46,247.20 L381.97,247.72 L382.49,248.20 L383.02,248.62 L383.55,248.99 L384.08,249.31 L384.62,249.57 L385.14,249.77 L385.66,249.90 L386.16,249.98 L386.64,249.99 L387.10,249.94 L387.53,249.82 L387.93,249.65 L388.31,249.41 L388.64,249.12 L388.94,248.76 L389.20,248.36 L389.42,247.90 L389.59,247.40 L389.72,246.85 L389.81,246.27 L389.84,245.65 L389.83,245.00 L389.78,244.32 L389.67,243.62 L389.53,242.91 L389.34,242.20 L389.10,241.47 L388.82,240.75 L388.51,240.04 L388.16,239.33 L387.77,238.65 L387.36,237.99 L386.91,237.36 L386.44,236.76 L385.96,236.20 L385.45,235.68 L384.93,235.20 L384.40,234.78 L383.87,234.41 L383.33,234.09 L382.80,233.83 L382.27,233.64 L381.76,233.50 L381.26,233.42 L380.78,233.41 L380.32,233.46 L379.89,233.58 L379.48,233.75 Z" fill="#2a2a2a" fill-rule="evenodd" stroke="#000" stroke-width="0.80"/>
<polygon points="376.67,228.46 377.34,228.16 378.06,227.97 378.83,227.89 379.63,227.91 380.46,228.03 381.32,228.26 382.19,228.59 383.08,229.02 383.97,229.55 384.86,230.17 385.74,230.87 386.61,231.66 387.45,232.53 388.27,233.47 389.05,234.46 389.79,235.52 390.48,236.62 391.13,237.76 391.71,238.93 392.24,240.12 392.69,241.32 393.09,242.52 393.41,243.72 393.65,244.91 393.82,246.07 393.92,247.19 393.93,248.28 393.87,249.31 393.73,250.29 393.52,251.20 393.23,252.04 392.86,252.80 392.43,253.47 391.93,254.06 391.37,254.55 390.75,254.94 390.08,255.24 389.36,255.43 388.59,255.51 387.79,255.50 386.96,255.37 386.10,255.14 385.22,254.81 384.34,254.38 383.44,253.85 382.55,253.23 381.67,252.53 380.81,251.74 379.96,250.87 379.15,249.94 378.37,248.94 377.63,247.88 376.93,246.78 376.29,245.64 375.71,244.48 375.18,243.28 374.72,242.08 374.33,240.88 374.01,239.68 373.76,238.49 373.59,237.33 373.50,236.21 373.48,235.12 373.55,234.09 373.69,233.11 373.90,232.20 374.19,231.36 374.55,230.60 374.99,229.93 375.49,229.34 376.05,228.85" fill="none" stroke="#888" stroke-width="0.60" stroke-linejoin="round" />
<polygon points="377.84,230.66 378.40,230.42 379.00,230.26 379.64,230.19 380.31,230.21 381.00,230.31 381.72,230.50 382.45,230.77 383.19,231.13 383.93,231.57 384.67,232.09 385.41,232.68 386.13,233.34 386.83,234.06 387.51,234.84 388.16,235.67 388.78,236.55 389.35,237.47 389.89,238.41 390.38,239.39 390.81,240.38 391.20,241.38 391.52,242.39 391.79,243.39 392.00,244.37 392.14,245.34 392.22,246.28 392.23,247.18 392.18,248.04 392.06,248.86 391.88,249.62 391.64,250.31 391.34,250.95 390.98,251.51 390.56,252.00 390.09,252.41 389.58,252.74 389.02,252.98 388.41,253.14 387.78,253.21 387.11,253.20 386.41,253.09 385.70,252.90 384.97,252.63 384.23,252.27 383.49,251.83 382.75,251.31 382.01,250.72 381.29,250.07 380.59,249.34 379.91,248.56 379.26,247.73 378.64,246.85 378.06,245.94 377.53,244.99 377.04,244.01 376.60,243.02 376.22,242.02 375.89,241.01 375.63,240.01 375.42,239.03 375.28,238.06 375.20,237.12 375.19,236.22 375.24,235.36 375.36,234.54 375.54,233.79 375.78,233.09 376.08,232.45 376.44,231.89 376.86,231.40 377.32,230.99" fill="#666" stroke="#000" stroke-width="0.90" stroke-linejoin="round" />
<clipPath id="cph"><polygon points="377.84,230.66 378.40,230.42 379.00,230.26 379.64,230.19 380.31,230.21 381.00,230.31 381.72,230.50 382.45,230.77 383.19,231.13 383.93,231.57 384.67,232.09 385.41,232.68 386.13,233.34 386.83,234.06 387.51,234.84 388.16,235.67 388.78,236.55 389.35,237.47 389.89,238.41 390.38,239.39 390.81,240.38 391.20,241.38 391.52,242.39 391.79,243.39 392.00,244.37 392.14,245.34 392.22,246.28 392.23,247.18 392.18,248.04 392.06,248.86 391.88,249.62 391.64,250.31 391.34,250.95 390.98,251.51 390.56,252.00 390.09,252.41 389.58,252.74 389.02,252.98 388.41,253.14 387.78,253.21 387.11,253.20 386.41,253.09 385.70,252.90 384.97,252.63 384.23,252.27 383.49,251.83 382.75,251.31 382.01,250.72 381.29,250.07 380.59,249.34 379.91,248.56 379.26,247.73 378.64,246.85 378.06,245.94 377.53,244.99 377.04,244.01 376.60,243.02 376.22,242.02 375.89,241.01 375.63,240.01 375.42,239.03 375.28,238.06 375.20,237.12 375.19,236.22 375.24,235.36 375.36,234.54 375.54,233.79 375.78,233.09 376.08,232.45 376.44,231.89 376.86,231.40 377.32,230.99"/></clipPath>
<g clip-path="url(#cph)">
<polygon points="383.43,228.82 383.95,228.60 384.50,228.45 385.09,228.39 385.70,228.40 386.34,228.50 387.00,228.67 387.67,228.93 388.35,229.26 389.03,229.66 389.71,230.14 390.39,230.68 391.05,231.28 391.70,231.95 392.33,232.66 392.92,233.43 393.49,234.24 394.02,235.08 394.52,235.95 394.96,236.85 395.37,237.76 395.72,238.69 396.02,239.61 396.26,240.53 396.45,241.44 396.58,242.33 396.66,243.19 396.67,244.02 396.62,244.81 396.51,245.56 396.35,246.26 396.13,246.90 395.85,247.49 395.52,248.00 395.13,248.45 394.70,248.83 394.23,249.13 393.71,249.36 393.16,249.50 392.57,249.57 391.96,249.55 391.32,249.46 390.66,249.28 389.99,249.03 389.31,248.70 388.63,248.30 387.94,247.82 387.27,247.28 386.60,246.67 385.96,246.01 385.33,245.29 384.73,244.53 384.17,243.72 383.63,242.87 383.14,242.00 382.69,241.11 382.29,240.19 381.94,239.27 381.64,238.35 381.39,237.43 381.21,236.52 381.07,235.63 381.00,234.77 380.99,233.94 381.04,233.14 381.14,232.39 381.31,231.70 381.53,231.05 381.81,230.47 382.14,229.95 382.52,229.50 382.95,229.13" fill="#fff" stroke="#000" stroke-width="1.00" stroke-linejoin="round" />
</g>
</g>
<g id="washer_11_lower">
<polygon points="345.57,279.19 344.67,279.59 343.71,279.88 342.71,280.05 341.66,280.09 340.58,280.02 339.48,279.82 338.37,279.50 337.24,279.06 336.12,278.51 335.01,277.84 333.92,277.08 332.86,276.21 331.83,275.25 330.84,274.20 329.91,273.08 329.03,271.89 328.22,270.63 327.48,269.33 326.81,267.99 326.23,266.61 325.73,265.22 325.32,263.81 325.00,262.41 324.78,261.02 324.66,259.65 324.63,258.32 324.70,257.03 324.87,255.79 325.14,254.62 325.50,253.51 325.95,252.49 326.48,251.55 327.11,250.71 327.81,249.97 328.58,249.34 329.43,248.81 330.09,248.46 330.99,248.05 331.95,247.77 332.96,247.60 334.00,247.55 335.08,247.63 336.18,247.83 337.30,248.15 338.42,248.59 339.54,249.14 340.65,249.80 341.74,250.57 342.81,251.44 343.83,252.40 344.82,253.45 345.76,254.57 346.63,255.76 347.44,257.01 348.19,258.32 348.85,259.66 349.44,261.04 349.93,262.43 350.34,263.83 350.66,265.24 350.88,266.63 351.01,267.99 351.03,269.33 350.96,270.62 350.79,271.86 350.53,273.03 350.17,274.13 349.72,275.16 349.18,276.10 348.56,276.94 347.86,277.68 347.08,278.31 346.24,278.83" fill="#fff" stroke="#000" stroke-width="1.20" stroke-linejoin="round" />
<polygon points="329.43,248.81 330.33,248.41 331.29,248.12 332.29,247.95 333.34,247.91 334.42,247.98 335.52,248.18 336.63,248.50 337.76,248.94 338.88,249.49 339.99,250.16 341.08,250.92 342.14,251.79 343.17,252.75 344.16,253.80 345.09,254.92 345.97,256.11 346.78,257.37 347.52,258.67 348.19,260.01 348.77,261.39 349.27,262.78 349.68,264.19 350.00,265.59 350.22,266.98 350.34,268.35 350.37,269.68 350.30,270.97 350.13,272.21 349.86,273.38 349.50,274.49 349.05,275.51 348.52,276.45 347.89,277.29 347.19,278.03 346.42,278.66 345.57,279.19 344.67,279.59 343.71,279.88 342.71,280.05 341.66,280.09 340.58,280.02 339.48,279.82 338.37,279.50 337.24,279.06 336.12,278.51 335.01,277.84 333.92,277.08 332.86,276.21 331.83,275.25 330.84,274.20 329.91,273.08 329.03,271.89 328.22,270.63 327.48,269.33 326.81,267.99 326.23,266.61 325.73,265.22 325.32,263.81 325.00,262.41 324.78,261.02 324.66,259.65 324.63,258.32 324.70,257.03 324.87,255.79 325.14,254.62 325.50,253.51 325.95,252.49 326.48,251.55 327.11,250.71 327.81,249.97 328.58,249.34" fill="#fff" stroke="#000" stroke-width="1.20" stroke-linejoin="round" />
<polygon points="332.57,254.73 333.12,254.48 333.71,254.30 334.32,254.20 334.96,254.18 335.62,254.22 336.29,254.34 336.97,254.54 337.66,254.81 338.34,255.14 339.02,255.55 339.68,256.02 340.33,256.55 340.96,257.13 341.56,257.77 342.13,258.46 342.67,259.19 343.17,259.95 343.62,260.75 344.03,261.57 344.38,262.41 344.69,263.26 344.94,264.11 345.13,264.97 345.26,265.82 345.34,266.65 345.36,267.47 345.31,268.26 345.21,269.01 345.05,269.73 344.83,270.40 344.55,271.03 344.22,271.60 343.85,272.11 343.42,272.57 342.94,272.95 342.43,273.27 341.88,273.52 341.29,273.70 340.68,273.80 340.04,273.82 339.38,273.78 338.71,273.66 338.03,273.46 337.34,273.19 336.66,272.86 335.98,272.45 335.32,271.98 334.67,271.45 334.04,270.87 333.44,270.23 332.87,269.54 332.33,268.81 331.83,268.05 331.38,267.25 330.97,266.43 330.62,265.59 330.31,264.74 330.06,263.89 329.87,263.03 329.74,262.18 329.66,261.35 329.64,260.53 329.69,259.74 329.79,258.99 329.95,258.27 330.17,257.60 330.45,256.97 330.78,256.40 331.15,255.89 331.58,255.43 332.06,255.05" fill="#fff" stroke="#000" stroke-width="1.20" stroke-linejoin="round" />
</g>
<g id="gear_7">
<polygon points="289.88,261.81 288.70,258.49 290.70,257.71 292.51,260.79 293.50,260.57 292.84,257.24 295.08,257.08 296.44,260.37 297.52,260.44 297.41,257.25 299.80,257.73 300.65,261.07 301.77,261.44 302.22,258.52 304.65,259.61 304.95,262.87 306.06,263.51 307.05,261.00 309.41,262.65 309.16,265.69 310.21,266.57 311.70,264.57 313.89,266.72 313.09,269.39 314.04,270.48 315.96,269.08 317.88,271.63 316.57,273.83 317.38,275.08 319.64,274.34 321.22,277.18 319.45,278.80 320.08,280.16 322.59,280.11 323.74,283.11 321.60,284.09 322.02,285.49 324.67,286.14 325.36,289.18 322.92,289.47 323.13,290.85 325.80,292.17 325.98,295.10 323.37,294.70 323.34,296.01 325.92,297.94 325.60,300.64 322.92,299.55 322.66,300.73 325.02,303.18 324.21,305.54 321.59,303.82 321.10,304.81 323.16,307.68 321.89,309.59 319.44,307.31 318.75,308.07 320.41,311.24 318.74,312.61 316.56,309.87 315.70,310.37 316.89,313.70 314.88,314.48 313.07,311.40 312.09,311.61 312.75,314.95 310.50,315.10 309.14,311.81 308.07,311.74 308.17,314.93 305.79,314.45 304.93,311.11 303.82,310.74 303.36,313.66 300.94,312.57 300.63,309.31 299.52,308.67 298.53,311.19 296.17,309.53 296.42,306.49 295.37,305.61 293.88,307.61 291.69,305.46 292.49,302.79 291.54,301.70 289.62,303.10 287.70,300.55 289.02,298.35 288.20,297.10 285.94,297.84 284.37,295.01 286.14,293.38 285.50,292.03 282.99,292.07 281.84,289.07 283.99,288.09 283.56,286.69 280.91,286.04 280.23,283.01 282.66,282.71 282.46,281.33 279.79,280.01 279.60,277.08 282.21,277.48 282.24,276.18 279.67,274.25 279.99,271.54 282.66,272.63 282.93,271.46 280.56,269.00 281.37,266.64 284.00,268.36 284.48,267.38 282.42,264.50 283.69,262.59 286.15,264.87 286.83,264.11 285.17,260.94 286.85,259.57 289.03,262.31" fill="#fff" stroke="#000" stroke-width="0.70" stroke-linejoin="round" />
<polygon points="273.55,293.48 275.70,292.50 283.99,288.09 281.84,289.07" fill="#4a4a4a" stroke="#000" stroke-width="0.70" stroke-linejoin="round" />
<polygon points="283.25,306.11 281.33,307.51 289.62,303.10 291.54,301.70" fill="#4a4a4a" stroke="#000" stroke-width="0.70" stroke-linejoin="round" />
<polygon points="271.93,287.42 274.37,287.12 282.66,282.71 280.23,283.01" fill="#4a4a4a" stroke="#000" stroke-width="0.70" stroke-linejoin="round" />
<polygon points="287.08,310.02 285.59,312.02 293.88,307.61 295.37,305.61" fill="#4a4a4a" stroke="#000" stroke-width="0.70" stroke-linejoin="round" />
<polygon points="271.31,281.49 273.92,281.89 282.21,277.48 279.60,277.08" fill="#4a4a4a" stroke="#000" stroke-width="0.70" stroke-linejoin="round" />
<polygon points="291.23,313.08 290.24,315.60 298.53,311.19 299.52,308.67" fill="#4a4a4a" stroke="#000" stroke-width="0.70" stroke-linejoin="round" />
<polygon points="271.70,275.95 274.37,277.04 282.66,272.63 279.99,271.54" fill="#4a4a4a" stroke="#000" stroke-width="0.70" stroke-linejoin="round" />
<polygon points="295.53,315.15 295.07,318.07 303.36,313.66 303.82,310.74" fill="#4a4a4a" stroke="#000" stroke-width="0.70" stroke-linejoin="round" />
<polygon points="273.08,271.05 275.70,272.77 284.00,268.36 281.37,266.64" fill="#4a4a4a" stroke="#000" stroke-width="0.70" stroke-linejoin="round" />
<polygon points="299.78,316.15 299.88,319.34 308.17,314.93 308.07,311.74" fill="#4a4a4a" stroke="#000" stroke-width="0.70" stroke-linejoin="round" />
<polygon points="275.40,267.00 277.86,269.28 286.15,264.87 283.69,262.59" fill="#4a4a4a" stroke="#000" stroke-width="0.70" stroke-linejoin="round" />
<polygon points="303.80,316.02 304.46,319.35 312.75,314.95 312.09,311.61" fill="#4a4a4a" stroke="#000" stroke-width="0.70" stroke-linejoin="round" />
<polygon points="278.56,263.98 280.74,266.72 289.03,262.31 286.85,259.57" fill="#4a4a4a" stroke="#000" stroke-width="0.70" stroke-linejoin="round" />
<polygon points="307.41,314.78 308.60,318.10 316.89,313.70 315.70,310.37" fill="#4a4a4a" stroke="#000" stroke-width="0.70" stroke-linejoin="round" />
<polygon points="308.26,314.28 307.41,314.78 315.70,310.37 316.56,309.87" fill="#4a4a4a" stroke="#000" stroke-width="0.70" stroke-linejoin="round" />
<polygon points="280.40,262.90 282.41,262.12 290.70,257.71 288.70,258.49" fill="#fff" stroke="#000" stroke-width="0.70" stroke-linejoin="round" />
<polygon points="312.12,315.65 310.44,317.02 318.74,312.61 320.41,311.24" fill="#fff" stroke="#000" stroke-width="0.70" stroke-linejoin="round" />
<polygon points="282.41,262.12 284.22,265.19 292.51,260.79 290.70,257.71" fill="#4a4a4a" stroke="#000" stroke-width="0.70" stroke-linejoin="round" />
<polygon points="284.22,265.19 285.20,264.98 293.50,260.57 292.51,260.79" fill="#4a4a4a" stroke="#000" stroke-width="0.70" stroke-linejoin="round" />
<polygon points="310.46,312.48 312.12,315.65 320.41,311.24 318.75,308.07" fill="#4a4a4a" stroke="#000" stroke-width="0.70" stroke-linejoin="round" />
<polygon points="311.14,311.72 310.46,312.48 318.75,308.07 319.44,307.31" fill="#4a4a4a" stroke="#000" stroke-width="0.70" stroke-linejoin="round" />
<polygon points="284.54,261.65 286.79,261.49 295.08,257.08 292.84,257.24" fill="#fff" stroke="#000" stroke-width="0.70" stroke-linejoin="round" />
<polygon points="286.79,261.49 288.15,264.78 296.44,260.37 295.08,257.08" fill="#4a4a4a" stroke="#000" stroke-width="0.70" stroke-linejoin="round" />
<polygon points="314.87,312.09 313.60,314.00 321.89,309.59 323.16,307.68" fill="#fff" stroke="#000" stroke-width="0.70" stroke-linejoin="round" />
<polygon points="288.15,264.78 289.22,264.85 297.52,260.44 296.44,260.37" fill="#4a4a4a" stroke="#000" stroke-width="0.70" stroke-linejoin="round" />
<polygon points="312.81,309.22 314.87,312.09 323.16,307.68 321.10,304.81" fill="#4a4a4a" stroke="#000" stroke-width="0.70" stroke-linejoin="round" />
<polygon points="313.30,308.23 312.81,309.22 321.10,304.81 321.59,303.82" fill="#4a4a4a" stroke="#000" stroke-width="0.70" stroke-linejoin="round" />
<polygon points="289.12,261.66 291.51,262.14 299.80,257.73 297.41,257.25" fill="#fff" stroke="#000" stroke-width="0.70" stroke-linejoin="round" />
<polygon points="292.36,265.48 293.47,265.85 301.77,261.44 300.65,261.07" fill="#4a4a4a" stroke="#000" stroke-width="0.70" stroke-linejoin="round" />
<polygon points="291.51,262.14 292.36,265.48 300.65,261.07 299.80,257.73" fill="#4a4a4a" stroke="#000" stroke-width="0.70" stroke-linejoin="round" />
<polygon points="316.73,307.59 315.92,309.95 324.21,305.54 325.02,303.18" fill="#fff" stroke="#000" stroke-width="0.70" stroke-linejoin="round" />
<polygon points="314.63,303.96 314.36,305.14 322.66,300.73 322.92,299.55" fill="#4a4a4a" stroke="#000" stroke-width="0.70" stroke-linejoin="round" />
<polygon points="314.36,305.14 316.73,307.59 325.02,303.18 322.66,300.73" fill="#4a4a4a" stroke="#000" stroke-width="0.70" stroke-linejoin="round" />
<polygon points="296.66,267.28 297.77,267.92 306.06,263.51 304.95,262.87" fill="#4a4a4a" stroke="#000" stroke-width="0.70" stroke-linejoin="round" />
<polygon points="293.93,262.93 296.35,264.02 304.65,259.61 302.22,258.52" fill="#fff" stroke="#000" stroke-width="0.70" stroke-linejoin="round" />
<polygon points="296.35,264.02 296.66,267.28 304.95,262.87 304.65,259.61" fill="#4a4a4a" stroke="#000" stroke-width="0.70" stroke-linejoin="round" />
<polygon points="315.08,299.11 315.05,300.41 323.34,296.01 323.37,294.70" fill="#4a4a4a" stroke="#000" stroke-width="0.70" stroke-linejoin="round" />
<polygon points="317.62,302.35 317.30,305.05 325.60,300.64 325.92,297.94" fill="#fff" stroke="#000" stroke-width="0.70" stroke-linejoin="round" />
<polygon points="315.05,300.41 317.62,302.35 325.92,297.94 323.34,296.01" fill="#4a4a4a" stroke="#000" stroke-width="0.70" stroke-linejoin="round" />
<polygon points="300.87,270.10 301.92,270.98 310.21,266.57 309.16,265.69" fill="#4a4a4a" stroke="#000" stroke-width="0.70" stroke-linejoin="round" />
<polygon points="314.63,293.88 314.83,295.26 323.13,290.85 322.92,289.47" fill="#4a4a4a" stroke="#000" stroke-width="0.70" stroke-linejoin="round" />
<polygon points="301.12,267.06 300.87,270.10 309.16,265.69 309.41,262.65" fill="#4a4a4a" stroke="#000" stroke-width="0.70" stroke-linejoin="round" />
<polygon points="298.76,265.40 301.12,267.06 309.41,262.65 307.05,261.00" fill="#fff" stroke="#000" stroke-width="0.70" stroke-linejoin="round" />
<polygon points="314.83,295.26 317.50,296.58 325.80,292.17 323.13,290.85" fill="#4a4a4a" stroke="#000" stroke-width="0.70" stroke-linejoin="round" />
<polygon points="317.50,296.58 317.69,299.51 325.98,295.10 325.80,292.17" fill="#fff" stroke="#000" stroke-width="0.70" stroke-linejoin="round" />
<polygon points="304.80,273.80 305.75,274.89 314.04,270.48 313.09,269.39" fill="#4a4a4a" stroke="#000" stroke-width="0.70" stroke-linejoin="round" />
<polygon points="313.30,288.50 313.73,289.90 322.02,285.49 321.60,284.09" fill="#4a4a4a" stroke="#000" stroke-width="0.70" stroke-linejoin="round" />
<polygon points="305.60,271.13 304.80,273.80 313.09,269.39 313.89,266.72" fill="#4a4a4a" stroke="#000" stroke-width="0.70" stroke-linejoin="round" />
<polygon points="308.28,278.24 309.09,279.49 317.38,275.08 316.57,273.83" fill="#4a4a4a" stroke="#000" stroke-width="0.70" stroke-linejoin="round" />
<polygon points="311.15,283.21 311.79,284.56 320.08,280.16 319.45,278.80" fill="#4a4a4a" stroke="#000" stroke-width="0.70" stroke-linejoin="round" />
<polygon points="313.73,289.90 316.38,290.55 324.67,286.14 322.02,285.49" fill="#4a4a4a" stroke="#000" stroke-width="0.70" stroke-linejoin="round" />
<polygon points="303.41,268.98 305.60,271.13 313.89,266.72 311.70,264.57" fill="#fff" stroke="#000" stroke-width="0.70" stroke-linejoin="round" />
<polygon points="316.38,290.55 317.07,293.58 325.36,289.18 324.67,286.14" fill="#fff" stroke="#000" stroke-width="0.70" stroke-linejoin="round" />
<polygon points="309.59,276.04 308.28,278.24 316.57,273.83 317.88,271.63" fill="#4a4a4a" stroke="#000" stroke-width="0.70" stroke-linejoin="round" />
<polygon points="311.79,284.56 314.30,284.52 322.59,280.11 320.08,280.16" fill="#4a4a4a" stroke="#000" stroke-width="0.70" stroke-linejoin="round" />
<polygon points="309.09,279.49 311.35,278.75 319.64,274.34 317.38,275.08" fill="#4a4a4a" stroke="#000" stroke-width="0.70" stroke-linejoin="round" />
<polygon points="312.93,281.59 311.15,283.21 319.45,278.80 321.22,277.18" fill="#4a4a4a" stroke="#000" stroke-width="0.70" stroke-linejoin="round" />
<polygon points="307.67,273.49 309.59,276.04 317.88,271.63 315.96,269.08" fill="#fff" stroke="#000" stroke-width="0.70" stroke-linejoin="round" />
<polygon points="314.30,284.52 315.45,287.52 323.74,283.11 322.59,280.11" fill="#fff" stroke="#000" stroke-width="0.70" stroke-linejoin="round" />
<polygon points="311.35,278.75 312.93,281.59 321.22,277.18 319.64,274.34" fill="#fff" stroke="#000" stroke-width="0.70" stroke-linejoin="round" />
<polygon points="281.59,266.22 280.40,262.90 282.41,262.12 284.22,265.19 285.20,264.98 284.54,261.65 286.79,261.49 288.15,264.78 289.22,264.85 289.12,261.66 291.51,262.14 292.36,265.48 293.47,265.85 293.93,262.93 296.35,264.02 296.66,267.28 297.77,267.92 298.76,265.40 301.12,267.06 300.87,270.10 301.92,270.98 303.41,268.98 305.60,271.13 304.80,273.80 305.75,274.89 307.67,273.49 309.59,276.04 308.28,278.24 309.09,279.49 311.35,278.75 312.93,281.59 311.15,283.21 311.79,284.56 314.30,284.52 315.45,287.52 313.30,288.50 313.73,289.90 316.38,290.55 317.07,293.58 314.63,293.88 314.83,295.26 317.50,296.58 317.69,299.51 315.08,299.11 315.05,300.41 317.62,302.35 317.30,305.05 314.63,303.96 314.36,305.14 316.73,307.59 315.92,309.95 313.30,308.23 312.81,309.22 314.87,312.09 313.60,314.00 311.14,311.72 310.46,312.48 312.12,315.65 310.44,317.02 308.26,314.28 307.41,314.78 308.60,318.10 306.59,318.88 304.78,315.81 303.80,316.02 304.46,319.35 302.21,319.51 300.85,316.22 299.78,316.15 299.88,319.34 297.49,318.86 296.64,315.52 295.53,315.15 295.07,318.07 292.65,316.98 292.34,313.72 291.23,313.08 290.24,315.60 287.88,313.94 288.13,310.90 287.08,310.02 285.59,312.02 283.40,309.87 284.20,307.20 283.25,306.11 281.33,307.51 279.41,304.96 280.72,302.76 279.91,301.51 277.65,302.25 276.07,299.41 277.85,297.79 277.21,296.44 274.70,296.48 273.55,293.48 275.70,292.50 275.27,291.10 272.62,290.45 271.93,287.42 274.37,287.12 274.17,285.74 271.50,284.42 271.31,281.49 273.92,281.89 273.95,280.59 271.38,278.65 271.70,275.95 274.37,277.04 274.64,275.86 272.27,273.41 273.08,271.05 275.70,272.77 276.19,271.78 274.13,268.91 275.40,267.00 277.86,269.28 278.54,268.52 276.88,265.35 278.56,263.98 280.74,266.72" fill="#fff" stroke="#000" stroke-width="0.70" stroke-linejoin="round" />
<polygon points="282.53,267.98 283.87,267.38 285.29,266.95 286.78,266.71 288.33,266.64 289.93,266.76 291.56,267.05 293.22,267.52 294.88,268.17 296.54,268.99 298.19,269.97 299.81,271.11 301.38,272.40 302.91,273.82 304.37,275.37 305.76,277.04 307.06,278.81 308.26,280.67 309.36,282.60 310.35,284.59 311.21,286.63 311.95,288.70 312.56,290.78 313.03,292.85 313.35,294.91 313.54,296.94 313.58,298.92 313.47,300.83 313.22,302.67 312.83,304.41 312.30,306.05 311.63,307.57 310.83,308.95 309.91,310.20 308.87,311.30 307.72,312.24 306.47,313.02 305.13,313.62 303.71,314.05 302.22,314.29 300.67,314.36 299.07,314.24 297.44,313.95 295.78,313.48 294.12,312.83 292.46,312.01 290.81,311.03 289.19,309.89 287.62,308.60 286.09,307.18 284.63,305.63 283.24,303.96 281.94,302.19 280.74,300.33 279.64,298.40 278.65,296.41 277.79,294.37 277.05,292.30 276.44,290.22 275.97,288.15 275.65,286.09 275.46,284.06 275.42,282.08 275.53,280.17 275.78,278.33 276.17,276.59 276.70,274.95 277.37,273.43 278.17,272.05 279.09,270.80 280.13,269.70 281.28,268.76" fill="#fff" stroke="#000" stroke-width="0.90" stroke-linejoin="round" />
<polygon points="284.17,271.08 285.33,270.55 286.55,270.19 287.84,269.97 289.18,269.92 290.56,270.01 291.97,270.27 293.39,270.68 294.83,271.24 296.26,271.94 297.68,272.79 299.08,273.77 300.44,274.88 301.75,276.11 303.01,277.45 304.21,278.89 305.33,280.41 306.37,282.02 307.32,283.68 308.17,285.40 308.92,287.16 309.56,288.94 310.08,290.74 310.48,292.53 310.77,294.31 310.93,296.06 310.96,297.76 310.87,299.42 310.65,301.00 310.31,302.50 309.85,303.91 309.28,305.22 308.59,306.42 307.79,307.50 306.90,308.45 305.91,309.26 304.83,309.92 303.67,310.45 302.45,310.81 301.16,311.03 299.82,311.08 298.44,310.99 297.03,310.73 295.61,310.32 294.17,309.76 292.74,309.06 291.32,308.21 289.92,307.23 288.56,306.12 287.25,304.89 285.99,303.55 284.79,302.11 283.67,300.59 282.63,298.98 281.68,297.32 280.83,295.60 280.08,293.84 279.44,292.06 278.92,290.26 278.52,288.47 278.23,286.69 278.07,284.94 278.04,283.24 278.13,281.58 278.35,280.00 278.69,278.50 279.15,277.09 279.72,275.78 280.41,274.58 281.21,273.50 282.10,272.55 283.09,271.74" fill="none" stroke="#000" stroke-width="0.60" stroke-linejoin="round" />
<polygon points="288.51,274.43 289.40,274.03 290.35,273.75 291.34,273.58 292.38,273.54 293.44,273.61 294.53,273.81 295.63,274.13 296.74,274.56 297.85,275.10 298.95,275.76 300.03,276.52 301.08,277.38 302.10,278.32 303.07,279.36 303.99,280.47 304.86,281.65 305.66,282.89 306.40,284.17 307.05,285.50 307.63,286.86 308.12,288.24 308.53,289.63 308.84,291.01 309.06,292.39 309.18,293.74 309.21,295.06 309.14,296.33 308.97,297.55 308.71,298.72 308.36,299.81 307.91,300.82 307.38,301.75 306.76,302.58 306.07,303.31 305.30,303.94 304.47,304.45 303.58,304.85 302.63,305.14 301.64,305.30 300.60,305.35 299.54,305.27 298.45,305.07 297.35,304.76 296.24,304.33 295.13,303.78 294.03,303.13 292.95,302.37 291.90,301.51 290.88,300.56 289.91,299.53 288.99,298.41 288.12,297.24 287.32,296.00 286.58,294.71 285.93,293.38 285.35,292.02 284.86,290.64 284.45,289.26 284.14,287.87 283.92,286.50 283.80,285.15 283.77,283.83 283.84,282.55 284.01,281.33 284.27,280.17 284.62,279.08 285.07,278.06 285.60,277.14 286.22,276.31 286.91,275.57 287.68,274.95" fill="#fff" stroke="#000" stroke-width="0.80" stroke-linejoin="round" />
<polygon points="290.58,276.73 291.32,276.40 292.10,276.16 292.92,276.03 293.77,275.99 294.64,276.05 295.54,276.22 296.45,276.48 297.36,276.83 298.27,277.28 299.18,277.82 300.07,278.45 300.93,279.15 301.77,279.93 302.57,280.79 303.33,281.70 304.05,282.67 304.71,283.69 305.31,284.75 305.85,285.85 306.33,286.96 306.73,288.10 307.07,289.24 307.33,290.38 307.51,291.51 307.61,292.63 307.63,293.71 307.57,294.76 307.43,295.77 307.22,296.73 306.92,297.63 306.56,298.46 306.12,299.22 305.61,299.91 305.04,300.51 304.41,301.03 303.73,301.45 302.99,301.78 302.21,302.02 301.39,302.15 300.54,302.19 299.66,302.13 298.77,301.96 297.86,301.70 296.94,301.35 296.03,300.90 295.13,300.36 294.24,299.73 293.37,299.03 292.54,298.24 291.73,297.39 290.97,296.48 290.26,295.51 289.60,294.49 288.99,293.43 288.45,292.33 287.98,291.21 287.57,290.08 287.24,288.94 286.98,287.80 286.80,286.67 286.70,285.55 286.68,284.47 286.74,283.42 286.87,282.41 287.09,281.45 287.38,280.55 287.75,279.72 288.19,278.96 288.69,278.27 289.26,277.67 289.89,277.15" fill="#aaa" stroke="#000" stroke-width="0.60" stroke-linejoin="round" />
<polygon points="290.92,286.97 290.68,285.75 291.83,285.43 292.54,286.51 293.55,286.55 293.74,285.51 295.08,285.93 295.43,287.15 296.48,287.76 297.07,287.09 298.33,288.17 298.25,289.29 299.13,290.35 300.00,290.19 300.92,291.72 300.43,292.50 300.97,293.81 301.94,294.18 302.35,295.86 301.55,296.16 301.64,297.45 302.53,298.29 302.34,299.78 301.38,299.54 301.00,300.55 301.63,301.69 300.88,302.70 299.95,301.97 299.18,302.51 299.43,303.72 298.27,304.04 297.56,302.96 296.55,302.92 296.36,303.97 295.02,303.54 294.67,302.33 293.62,301.71 293.03,302.39 291.78,301.30 291.86,300.19 290.97,299.12 290.11,299.29 289.18,297.76 289.67,296.97 289.13,295.67 288.16,295.29 287.75,293.61 288.56,293.31 288.47,292.02 287.58,291.18 287.76,289.69 288.73,289.93 289.10,288.92 288.48,287.78 289.22,286.77 290.15,287.51" fill="#fff" stroke="#000" stroke-width="0.50" stroke-linejoin="round" />
<polygon points="279.13,298.20 279.93,297.90 288.56,293.31 287.75,293.61" fill="#1a1a1a" stroke="#000" stroke-width="0.50" stroke-linejoin="round" />
<polygon points="284.99,306.30 284.41,306.97 293.03,302.39 293.62,301.71" fill="#1a1a1a" stroke="#000" stroke-width="0.50" stroke-linejoin="round" />
<polygon points="279.14,294.28 280.10,294.52 288.73,289.93 287.76,289.69" fill="#1a1a1a" stroke="#000" stroke-width="0.50" stroke-linejoin="round" />
<polygon points="287.93,307.51 287.73,308.55 296.36,303.97 296.55,302.92" fill="#1a1a1a" stroke="#000" stroke-width="0.50" stroke-linejoin="round" />
<polygon points="280.60,291.36 281.53,292.09 290.15,287.51 289.22,286.77" fill="#1a1a1a" stroke="#000" stroke-width="0.50" stroke-linejoin="round" />
<polygon points="290.56,307.09 290.80,308.31 299.43,303.72 299.18,302.51" fill="#1a1a1a" stroke="#000" stroke-width="0.50" stroke-linejoin="round" />
<polygon points="291.33,306.55 290.56,307.09 299.18,302.51 299.95,301.97" fill="#1a1a1a" stroke="#000" stroke-width="0.50" stroke-linejoin="round" />
<polygon points="282.05,290.34 283.21,290.02 291.83,285.43 290.68,285.75" fill="#fff" stroke="#000" stroke-width="0.50" stroke-linejoin="round" />
<polygon points="283.21,290.02 283.92,291.10 292.54,286.51 291.83,285.43" fill="#1a1a1a" stroke="#000" stroke-width="0.50" stroke-linejoin="round" />
<polygon points="293.00,306.28 292.26,307.29 300.88,302.70 301.63,301.69" fill="#fff" stroke="#000" stroke-width="0.50" stroke-linejoin="round" />
<polygon points="283.92,291.10 284.93,291.14 293.55,286.55 292.54,286.51" fill="#1a1a1a" stroke="#000" stroke-width="0.50" stroke-linejoin="round" />
<polygon points="292.38,305.14 293.00,306.28 301.63,301.69 301.00,300.55" fill="#1a1a1a" stroke="#000" stroke-width="0.50" stroke-linejoin="round" />
<polygon points="292.75,304.13 292.38,305.14 301.00,300.55 301.38,299.54" fill="#1a1a1a" stroke="#000" stroke-width="0.50" stroke-linejoin="round" />
<polygon points="285.12,290.09 286.46,290.52 295.08,285.93 293.74,285.51" fill="#fff" stroke="#000" stroke-width="0.50" stroke-linejoin="round" />
<polygon points="286.46,290.52 286.81,291.73 295.43,287.15 295.08,285.93" fill="#1a1a1a" stroke="#000" stroke-width="0.50" stroke-linejoin="round" />
<polygon points="286.81,291.73 287.86,292.35 296.48,287.76 295.43,287.15" fill="#1a1a1a" stroke="#000" stroke-width="0.50" stroke-linejoin="round" />
<polygon points="293.90,302.88 293.72,304.36 302.34,299.78 302.53,298.29" fill="#fff" stroke="#000" stroke-width="0.50" stroke-linejoin="round" />
<polygon points="293.01,302.03 293.90,302.88 302.53,298.29 301.64,297.45" fill="#1a1a1a" stroke="#000" stroke-width="0.50" stroke-linejoin="round" />
<polygon points="292.92,300.75 293.01,302.03 301.64,297.45 301.55,296.16" fill="#1a1a1a" stroke="#000" stroke-width="0.50" stroke-linejoin="round" />
<polygon points="289.62,293.87 290.51,294.93 299.13,290.35 298.25,289.29" fill="#1a1a1a" stroke="#000" stroke-width="0.50" stroke-linejoin="round" />
<polygon points="288.45,291.67 289.70,292.76 298.33,288.17 297.07,287.09" fill="#fff" stroke="#000" stroke-width="0.50" stroke-linejoin="round" />
<polygon points="289.70,292.76 289.62,293.87 298.25,289.29 298.33,288.17" fill="#1a1a1a" stroke="#000" stroke-width="0.50" stroke-linejoin="round" />
<polygon points="291.81,297.09 292.35,298.39 300.97,293.81 300.43,292.50" fill="#1a1a1a" stroke="#000" stroke-width="0.50" stroke-linejoin="round" />
<polygon points="292.35,298.39 293.32,298.77 301.94,294.18 300.97,293.81" fill="#1a1a1a" stroke="#000" stroke-width="0.50" stroke-linejoin="round" />
<polygon points="290.51,294.93 291.37,294.77 300.00,290.19 299.13,290.35" fill="#1a1a1a" stroke="#000" stroke-width="0.50" stroke-linejoin="round" />
<polygon points="293.32,298.77 293.73,300.44 302.35,295.86 301.94,294.18" fill="#fff" stroke="#000" stroke-width="0.50" stroke-linejoin="round" />
<polygon points="292.30,296.30 291.81,297.09 300.43,292.50 300.92,291.72" fill="#1a1a1a" stroke="#000" stroke-width="0.50" stroke-linejoin="round" />
<polygon points="291.37,294.77 292.30,296.30 300.92,291.72 300.00,290.19" fill="#fff" stroke="#000" stroke-width="0.50" stroke-linejoin="round" />
<polygon points="282.30,291.55 282.05,290.34 283.21,290.02 283.92,291.10 284.93,291.14 285.12,290.09 286.46,290.52 286.81,291.73 287.86,292.35 288.45,291.67 289.70,292.76 289.62,293.87 290.51,294.93 291.37,294.77 292.30,296.30 291.81,297.09 292.35,298.39 293.32,298.77 293.73,300.44 292.92,300.75 293.01,302.03 293.90,302.88 293.72,304.36 292.75,304.13 292.38,305.14 293.00,306.28 292.26,307.29 291.33,306.55 290.56,307.09 290.80,308.31 289.65,308.63 288.94,307.55 287.93,307.51 287.73,308.55 286.40,308.13 286.05,306.91 284.99,306.30 284.41,306.97 283.15,305.89 283.23,304.77 282.35,303.71 281.48,303.87 280.56,302.34 281.05,301.56 280.51,300.25 279.54,299.88 279.13,298.20 279.93,297.90 279.84,296.61 278.95,295.77 279.14,294.28 280.10,294.52 280.48,293.50 279.85,292.36 280.60,291.36 281.53,292.09" fill="#fff" stroke="#000" stroke-width="0.50" stroke-linejoin="round" />
<polygon points="282.67,292.26 283.09,292.07 283.54,291.94 284.01,291.86 284.49,291.84 284.99,291.87 285.51,291.97 286.03,292.11 286.55,292.32 287.07,292.57 287.59,292.88 288.09,293.24 288.59,293.64 289.07,294.09 289.52,294.58 289.96,295.10 290.37,295.65 290.74,296.24 291.09,296.84 291.40,297.47 291.67,298.11 291.90,298.76 292.09,299.41 292.24,300.06 292.34,300.71 292.40,301.34 292.41,301.96 292.38,302.56 292.30,303.14 292.18,303.69 292.01,304.20 291.80,304.68 291.55,305.11 291.26,305.50 290.94,305.85 290.58,306.14 290.18,306.39 289.76,306.58 289.32,306.71 288.85,306.79 288.36,306.81 287.86,306.77 287.35,306.68 286.83,306.53 286.31,306.33 285.79,306.07 285.27,305.76 284.76,305.40 284.27,305.00 283.79,304.55 283.33,304.07 282.90,303.54 282.49,302.99 282.11,302.41 281.77,301.80 281.46,301.18 281.18,300.54 280.95,299.89 280.76,299.24 280.62,298.58 280.51,297.94 280.45,297.30 280.44,296.68 280.48,296.08 280.55,295.50 280.68,294.96 280.84,294.44 281.05,293.97 281.30,293.53 281.59,293.14 281.92,292.80 282.28,292.50" fill="#333" stroke="#000" stroke-width="0.70" stroke-linejoin="round" />
<polygon points="283.61,294.02 283.93,293.88 284.26,293.78 284.61,293.72 284.98,293.71 285.35,293.74 285.74,293.80 286.13,293.92 286.52,294.07 286.91,294.26 287.30,294.49 287.68,294.76 288.05,295.06 288.41,295.40 288.75,295.76 289.08,296.16 289.38,296.57 289.67,297.01 289.92,297.46 290.16,297.93 290.36,298.41 290.53,298.90 290.68,299.39 290.79,299.88 290.86,300.36 290.91,300.84 290.92,301.30 290.89,301.75 290.83,302.19 290.74,302.60 290.62,302.98 290.46,303.34 290.27,303.66 290.05,303.96 289.81,304.22 289.54,304.44 289.24,304.62 288.93,304.76 288.59,304.86 288.24,304.92 287.88,304.94 287.50,304.91 287.12,304.84 286.73,304.73 286.34,304.58 285.95,304.38 285.56,304.15 285.18,303.88 284.81,303.58 284.45,303.25 284.11,302.88 283.78,302.49 283.47,302.07 283.19,301.64 282.93,301.18 282.70,300.71 282.50,300.23 282.32,299.75 282.18,299.26 282.07,298.77 281.99,298.28 281.95,297.81 281.94,297.34 281.96,296.89 282.02,296.46 282.12,296.05 282.24,295.66 282.40,295.31 282.59,294.98 282.80,294.69 283.05,294.43 283.32,294.21" fill="#fff" stroke="#000" stroke-width="0.60" stroke-linejoin="round" />
<polygon points="286.31,294.29 286.54,294.18 286.79,294.11 287.06,294.07 287.33,294.05 287.61,294.07 287.90,294.13 288.19,294.21 288.49,294.32 288.78,294.47 289.07,294.64 289.35,294.84 289.63,295.07 289.90,295.32 290.16,295.59 290.40,295.89 290.63,296.20 290.85,296.53 291.04,296.87 291.21,297.22 291.37,297.58 291.50,297.95 291.60,298.31 291.69,298.68 291.75,299.04 291.78,299.40 291.78,299.75 291.77,300.09 291.72,300.41 291.65,300.72 291.56,301.01 291.44,301.28 291.30,301.52 291.14,301.74 290.95,301.93 290.75,302.10 290.53,302.24 290.29,302.34 290.04,302.42 289.78,302.46 289.51,302.47 289.22,302.45 288.94,302.40 288.64,302.32 288.35,302.20 288.06,302.06 287.77,301.89 287.48,301.69 287.20,301.46 286.93,301.21 286.68,300.93 286.43,300.64 286.20,300.33 285.99,300.00 285.80,299.66 285.62,299.31 285.47,298.95 285.34,298.58 285.23,298.22 285.15,297.85 285.09,297.49 285.06,297.13 285.05,296.78 285.07,296.44 285.11,296.12 285.18,295.81 285.28,295.52 285.40,295.25 285.54,295.01 285.70,294.79 285.88,294.59 286.08,294.43" fill="#888" stroke="#000" stroke-width="0.50" stroke-linejoin="round" />
</g>
<g id="small_parts_lower_left">
<polygon points="262.14,302.24 262.38,302.13 262.64,302.05 262.91,302.01 263.19,302.00 263.48,302.02 263.77,302.07 264.07,302.16 264.37,302.27 264.67,302.42 264.97,302.60 265.26,302.80 265.54,303.03 265.82,303.29 266.08,303.57 266.33,303.87 266.56,304.19 266.78,304.53 266.98,304.87 267.16,305.23 267.31,305.60 267.45,305.97 267.56,306.35 267.64,306.72 267.70,307.10 267.73,307.46 267.74,307.82 267.72,308.16 267.68,308.50 267.61,308.81 267.51,309.10 267.39,309.38 267.25,309.63 267.08,309.85 266.89,310.05 266.68,310.22 266.46,310.36 266.22,310.47 265.96,310.55 265.69,310.59 265.41,310.60 265.12,310.58 264.83,310.53 264.53,310.44 264.23,310.33 263.93,310.18 263.63,310.00 263.34,309.80 263.06,309.57 262.78,309.31 262.52,309.03 262.27,308.73 262.04,308.41 261.82,308.07 261.62,307.73 261.44,307.37 261.29,307.00 261.15,306.63 261.04,306.25 260.96,305.88 260.90,305.50 260.87,305.14 260.86,304.78 260.88,304.44 260.92,304.10 260.99,303.79 261.09,303.50 261.21,303.22 261.35,302.97 261.52,302.75 261.71,302.55 261.92,302.38" fill="#bbb" stroke="#000" stroke-width="2.00" stroke-linejoin="round" />
<polygon points="263.27,304.36 263.38,304.31 263.51,304.27 263.63,304.25 263.77,304.24 263.91,304.25 264.05,304.28 264.19,304.32 264.33,304.37 264.48,304.44 264.62,304.53 264.76,304.63 264.89,304.74 265.03,304.86 265.15,305.00 265.27,305.14 265.38,305.29 265.49,305.45 265.58,305.62 265.67,305.79 265.74,305.97 265.81,306.14 265.86,306.32 265.90,306.50 265.93,306.68 265.94,306.86 265.95,307.03 265.94,307.19 265.92,307.35 265.88,307.50 265.84,307.64 265.78,307.77 265.71,307.89 265.63,308.00 265.54,308.09 265.44,308.18 265.33,308.24 265.22,308.29 265.09,308.33 264.97,308.35 264.83,308.36 264.69,308.35 264.55,308.32 264.41,308.28 264.27,308.23 264.12,308.16 263.98,308.07 263.84,307.97 263.71,307.86 263.57,307.74 263.45,307.60 263.33,307.46 263.22,307.31 263.11,307.15 263.02,306.98 262.93,306.81 262.86,306.63 262.79,306.46 262.74,306.28 262.70,306.10 262.67,305.92 262.66,305.74 262.65,305.57 262.66,305.41 262.68,305.25 262.72,305.10 262.76,304.96 262.82,304.83 262.89,304.71 262.97,304.60 263.06,304.51 263.16,304.42" fill="#fff" stroke="#000" stroke-width="0.60" stroke-linejoin="round" />
<path d="M231.45,330.49 L256.95,316.29 A4.00,4.00 -29.1 0 0 253.05,309.31 L227.55,323.51 Z" fill="#fff" stroke="#000" stroke-width="1.20" stroke-linejoin="round"/>
<path d="M221,324.5 C221.5,322.5 224,322.5 226,323.5 C229,322 232.5,324 233.5,328 C234.5,332 232,334 229.5,333 C226,332.5 223.5,330 223,327.5 C221.5,327 220.8,326 221,324.5 Z" fill="#fff" stroke="#000" stroke-width="1.3"/>
<ellipse cx="228.3" cy="328.3" rx="2.4" ry="3.2" transform="rotate(-30 228.3 328.3)" fill="#fff" stroke="#000" stroke-width="1.1"/>
<polygon points="205.50,323.72 206.18,323.41 206.91,323.20 207.67,323.07 208.46,323.04 209.27,323.09 210.10,323.25 210.95,323.49 211.79,323.82 212.64,324.24 213.48,324.74 214.31,325.32 215.11,325.97 215.89,326.70 216.63,327.49 217.34,328.34 218.00,329.24 218.61,330.19 219.18,331.17 219.68,332.19 220.12,333.23 220.50,334.28 220.81,335.34 221.05,336.40 221.21,337.45 221.31,338.48 221.33,339.49 221.27,340.47 221.14,341.40 220.94,342.29 220.67,343.13 220.33,343.90 219.93,344.61 219.46,345.24 218.93,345.80 218.34,346.28 217.70,346.68 217.02,346.99 216.29,347.20 215.53,347.33 214.74,347.36 213.93,347.31 213.10,347.15 212.25,346.91 211.41,346.58 210.56,346.16 209.72,345.66 208.89,345.08 208.09,344.43 207.31,343.70 206.57,342.91 205.86,342.06 205.20,341.16 204.59,340.21 204.02,339.23 203.52,338.21 203.08,337.17 202.70,336.12 202.39,335.06 202.15,334.00 201.99,332.95 201.89,331.92 201.87,330.91 201.93,329.93 202.06,329.00 202.26,328.11 202.53,327.27 202.87,326.50 203.27,325.79 203.74,325.16 204.27,324.60 204.86,324.12" fill="none" stroke="#000" stroke-width="1.90" stroke-linejoin="round" />
<polygon points="205.50,323.72 206.18,323.41 206.91,323.20 207.67,323.07 208.46,323.04 209.27,323.09 210.10,323.25 210.95,323.49 211.79,323.82 212.64,324.24 213.48,324.74 214.31,325.32 215.11,325.97 215.89,326.70 216.63,327.49 217.34,328.34 218.00,329.24 218.61,330.19 219.18,331.17 219.68,332.19 220.12,333.23 220.50,334.28 220.81,335.34 221.05,336.40 221.21,337.45 221.31,338.48 221.33,339.49 221.27,340.47 221.14,341.40 220.94,342.29 220.67,343.13 220.33,343.90 219.93,344.61 219.46,345.24 218.93,345.80 218.34,346.28 217.70,346.68 217.02,346.99 216.29,347.20 215.53,347.33 214.74,347.36 213.93,347.31 213.10,347.15 212.25,346.91 211.41,346.58 210.56,346.16 209.72,345.66 208.89,345.08 208.09,344.43 207.31,343.70 206.57,342.91 205.86,342.06 205.20,341.16 204.59,340.21 204.02,339.23 203.52,338.21 203.08,337.17 202.70,336.12 202.39,335.06 202.15,334.00 201.99,332.95 201.89,331.92 201.87,330.91 201.93,329.93 202.06,329.00 202.26,328.11 202.53,327.27 202.87,326.50 203.27,325.79 203.74,325.16 204.27,324.60 204.86,324.12" fill="none" stroke="#000" stroke-width="0.50" stroke-linejoin="round" stroke-opacity="0"/>
<path d="M173.3,333 C173,330 176,329.5 178,331 L182,334.5 C185,332 189,331.5 192,332.5 C198,335 203,343 204.5,351 C205.5,357 204,362 204,365 L205.5,367.5 C205,370.5 202,370.5 200,369 L197,366.5 C193,366.5 189,366 186,363 L174,337 C173,335.5 173,334 173.3,333 Z" fill="#fff" stroke="#000" stroke-width="1.3" stroke-linejoin="round"/>
<path d="M189.5,333.2 C196,336 201.5,344 202.6,351 C203.5,357 202.2,361 201.6,364.5" fill="none" stroke="#000" stroke-width="1.3"/>
<path d="M184.5,343.5 C181,347 181,352 184,356 L186.2,354.6 C184.3,351.5 184.2,347.8 186.5,345 Z" fill="#fff" stroke="#000" stroke-width="1"/>
<circle cx="188.8" cy="347.8" r="1.5" fill="#111"/><circle cx="188" cy="351.8" r="1.3" fill="#111"/>
<circle cx="177.6" cy="340.5" r="1.2" fill="#fff" stroke="#000" stroke-width="0.9"/>
<circle cx="190.0" cy="338.8" r="1.4" fill="#fff" stroke="#000" stroke-width="0.9"/>
<circle cx="199.3" cy="350.3" r="1.3" fill="#fff" stroke="#000" stroke-width="0.9"/>
<circle cx="196.3" cy="363.0" r="1.3" fill="#fff" stroke="#000" stroke-width="0.9"/>
<circle cx="191.5" cy="357.0" r="1.0" fill="#fff" stroke="#000" stroke-width="0.9"/>
<circle cx="188.9" cy="364.6" r="3.3" fill="#1a1a1a"/><circle cx="188.3" cy="364" r="1.1" fill="#777"/>
<path d="M201,365 L205,368" stroke="#000" stroke-width="1.8"/>
<ellipse cx="229.6" cy="342.4" rx="2.0" ry="2.6" transform="rotate(-30 229.6 342.4)" fill="#fff" stroke="#000" stroke-width="1.2"/>
<ellipse cx="168.8" cy="361.2" rx="2.4" ry="3.4" transform="rotate(-30 168.8 361.2)" fill="#888" stroke="#000" stroke-width="1.4"/>
<ellipse cx="168.8" cy="361.2" rx="0.9" ry="1.5" transform="rotate(-30 168.8 361.2)" fill="#fff"/>
<path d="M158.2,344.6 L165.8,340.6" stroke="#000" stroke-width="4.6" stroke-linecap="round"/>
<path d="M158.2,344.6 L165.8,340.6" stroke="#fff" stroke-width="2.4" stroke-linecap="round"/>
<path d="M162.2,343.9 L161.1,341.7" stroke="#000" stroke-width="0.7"/>
<path d="M163.5,343.2 L162.4,341.1" stroke="#000" stroke-width="0.7"/>
<path d="M164.8,342.5 L163.6,340.4" stroke="#000" stroke-width="0.7"/>
<ellipse cx="158.2" cy="344.6" rx="2.7" ry="3.6" transform="rotate(-27.8 158.2 344.6)" fill="#fff" stroke="#000" stroke-width="1.4"/>
<ellipse cx="157.5" cy="345.0" rx="1.6" ry="2.2" transform="rotate(-27.8 157.5 345.0)" fill="#333" stroke="none"/>
<path d="M182.8,378.6 L190.5,374.2" stroke="#000" stroke-width="4.6" stroke-linecap="round"/>
<path d="M182.8,378.6 L190.5,374.2" stroke="#fff" stroke-width="2.4" stroke-linecap="round"/>
<path d="M186.9,377.7 L185.7,375.6" stroke="#000" stroke-width="0.7"/>
<path d="M188.2,376.9 L187.0,374.8" stroke="#000" stroke-width="0.7"/>
<path d="M189.5,376.2 L188.3,374.1" stroke="#000" stroke-width="0.7"/>
<ellipse cx="182.8" cy="378.6" rx="2.7" ry="3.6" transform="rotate(-29.7 182.8 378.6)" fill="#fff" stroke="#000" stroke-width="1.4"/>
<ellipse cx="182.1" cy="379.0" rx="1.6" ry="2.2" transform="rotate(-29.7 182.1 379.0)" fill="#333" stroke="none"/>
<path d="M121,389 L164.3,364.6" stroke="#000" stroke-width="4.6" stroke-linecap="round"/><path d="M121,389 L164.3,364.6" stroke="#fff" stroke-width="2.4" stroke-linecap="round"/>
<path d="M116.5,385.5 C117,382.5 120.5,382.5 122.5,384.5 C125,387.5 125,393 122,395 C119,396 116.5,392.5 116.5,389 Z" fill="#fff" stroke="#000" stroke-width="1.3"/>
<ellipse cx="120.2" cy="389.3" rx="1.4" ry="2" transform="rotate(-30 120.2 389.3)" fill="none" stroke="#000" stroke-width="0.9"/>
</g>
<g id="gear_6_washer_12_nut_10">
<polygon points="555.18,254.04 553.59,250.36 554.60,249.90 556.59,253.40 557.42,253.12 556.18,249.37 557.28,249.11 558.95,252.76 559.85,252.64 558.98,248.88 560.15,248.82 561.48,252.57 562.42,252.60 561.94,248.90 563.16,249.05 564.12,252.82 565.10,253.02 565.01,249.43 566.25,249.78 566.84,253.51 567.83,253.87 568.13,250.46 569.38,251.01 569.58,254.64 570.56,255.15 571.26,251.98 572.50,252.72 572.30,256.18 573.26,256.83 574.34,253.96 575.54,254.87 574.95,258.11 575.88,258.89 577.31,256.36 578.46,257.43 577.49,260.39 578.37,261.29 580.13,259.15 581.20,260.36 579.87,262.98 580.68,263.99 582.75,262.27 583.73,263.60 582.05,265.85 582.78,266.94 585.12,265.67 585.99,267.10 584.00,268.93 584.64,270.09 587.20,269.30 587.95,270.80 585.68,272.19 586.21,273.39 588.96,273.08 589.57,274.63 587.06,275.56 587.48,276.78 590.37,276.97 590.83,278.54 588.13,278.98 588.43,280.21 591.40,280.89 591.70,282.45 588.85,282.40 589.03,283.61 592.04,284.77 592.18,286.29 589.22,285.75 589.27,286.93 592.27,288.55 592.24,290.01 589.24,288.99 589.15,290.11 592.09,292.16 591.90,293.54 588.89,292.05 588.68,293.10 591.50,295.54 591.15,296.81 588.20,294.88 587.86,295.84 590.52,298.63 590.02,299.78 587.16,297.44 586.71,298.29 589.15,301.39 588.51,302.38 585.81,299.68 585.24,300.40 587.44,303.75 586.65,304.58 584.15,301.56 583.48,302.14 585.39,305.69 584.49,306.34 582.22,303.05 581.47,303.49 583.05,307.17 582.04,307.63 580.06,304.13 579.22,304.41 580.46,308.17 579.36,308.42 577.69,304.77 576.80,304.89 577.66,308.66 576.49,308.71 575.16,304.97 574.22,304.93 574.70,308.63 573.49,308.48 572.52,304.71 571.55,304.51 571.64,308.10 570.39,307.75 569.80,304.02 568.82,303.66 568.51,307.07 567.26,306.52 567.06,302.89 566.08,302.38 565.38,305.55 564.15,304.81 564.34,301.35 563.38,300.70 562.31,303.57 561.10,302.66 561.69,299.42 560.76,298.64 559.33,301.17 558.18,300.10 559.15,297.14 558.28,296.24 556.51,298.39 555.44,297.17 556.77,294.55 555.96,293.54 553.90,295.27 552.91,293.93 554.59,291.68 553.86,290.59 551.52,291.86 550.65,290.44 552.64,288.60 552.00,287.44 549.44,288.24 548.70,286.74 550.96,285.34 550.43,284.14 547.68,284.45 547.07,282.90 549.58,281.98 549.16,280.75 546.27,280.56 545.81,278.99 548.52,278.55 548.22,277.32 545.24,276.64 544.94,275.08 547.79,275.14 547.62,273.92 544.61,272.76 544.46,271.24 547.42,271.78 547.37,270.60 544.38,268.99 544.40,267.52 547.41,268.54 547.49,267.42 544.56,265.38 544.74,263.99 547.75,265.48 547.96,264.43 545.14,261.99 545.49,260.72 548.44,262.65 548.78,261.69 546.13,258.90 546.63,257.75 549.48,260.09 549.93,259.25 547.49,256.15 548.14,255.15 550.84,257.85 551.40,257.13 549.21,253.78 549.99,252.95 552.49,255.97 553.16,255.39 551.25,251.84 552.16,251.19 554.42,254.48" fill="#fff" stroke="#000" stroke-width="0.60" stroke-linejoin="round" />
<polygon points="551.54,291.83 549.20,293.10 551.52,291.86 553.86,290.59" fill="#1a1a1a" stroke="#000" stroke-width="0.60" stroke-linejoin="round" />
<polygon points="544.75,284.13 547.26,283.21 549.58,281.98 547.07,282.90" fill="#1a1a1a" stroke="#000" stroke-width="0.60" stroke-linejoin="round" />
<polygon points="553.64,294.78 551.57,296.50 553.90,295.27 555.96,293.54" fill="#1a1a1a" stroke="#000" stroke-width="0.60" stroke-linejoin="round" />
<polygon points="543.49,280.23 546.19,279.79 548.52,278.55 545.81,278.99" fill="#1a1a1a" stroke="#000" stroke-width="0.60" stroke-linejoin="round" />
<polygon points="555.96,297.48 554.19,299.62 556.51,298.39 558.28,296.24" fill="#1a1a1a" stroke="#000" stroke-width="0.60" stroke-linejoin="round" />
<polygon points="542.62,276.32 545.47,276.37 547.79,275.14 544.94,275.08" fill="#1a1a1a" stroke="#000" stroke-width="0.60" stroke-linejoin="round" />
<polygon points="558.44,299.87 557.01,302.40 559.33,301.17 560.76,298.64" fill="#1a1a1a" stroke="#000" stroke-width="0.60" stroke-linejoin="round" />
<polygon points="542.14,272.47 545.10,273.01 547.42,271.78 544.46,271.24" fill="#1a1a1a" stroke="#000" stroke-width="0.60" stroke-linejoin="round" />
<polygon points="561.06,301.93 559.99,304.81 562.31,303.57 563.38,300.70" fill="#1a1a1a" stroke="#000" stroke-width="0.60" stroke-linejoin="round" />
<polygon points="542.08,268.75 545.08,269.78 547.41,268.54 544.40,267.52" fill="#1a1a1a" stroke="#000" stroke-width="0.60" stroke-linejoin="round" />
<polygon points="563.76,303.62 563.06,306.78 565.38,305.55 566.08,302.38" fill="#1a1a1a" stroke="#000" stroke-width="0.60" stroke-linejoin="round" />
<polygon points="542.42,265.23 545.43,266.72 547.75,265.48 544.74,263.99" fill="#1a1a1a" stroke="#000" stroke-width="0.60" stroke-linejoin="round" />
<polygon points="566.50,304.90 566.19,308.30 568.51,307.07 568.82,303.66" fill="#1a1a1a" stroke="#000" stroke-width="0.60" stroke-linejoin="round" />
<polygon points="543.17,261.95 546.12,263.88 548.44,262.65 545.49,260.72" fill="#1a1a1a" stroke="#000" stroke-width="0.60" stroke-linejoin="round" />
<polygon points="569.23,305.75 569.31,309.34 571.64,308.10 571.55,304.51" fill="#1a1a1a" stroke="#000" stroke-width="0.60" stroke-linejoin="round" />
<polygon points="544.30,258.99 547.16,261.32 549.48,260.09 546.63,257.75" fill="#1a1a1a" stroke="#000" stroke-width="0.60" stroke-linejoin="round" />
<polygon points="571.90,306.16 572.38,309.87 574.70,308.63 574.22,304.93" fill="#1a1a1a" stroke="#000" stroke-width="0.60" stroke-linejoin="round" />
<polygon points="545.81,256.38 548.52,259.09 550.84,257.85 548.14,255.15" fill="#1a1a1a" stroke="#000" stroke-width="0.60" stroke-linejoin="round" />
<polygon points="574.47,306.13 575.34,309.89 577.66,308.66 576.80,304.89" fill="#1a1a1a" stroke="#000" stroke-width="0.60" stroke-linejoin="round" />
<polygon points="547.67,254.18 550.17,257.20 552.49,255.97 549.99,252.95" fill="#1a1a1a" stroke="#000" stroke-width="0.60" stroke-linejoin="round" />
<polygon points="576.90,305.64 578.14,309.40 580.46,308.17 579.22,304.41" fill="#1a1a1a" stroke="#000" stroke-width="0.60" stroke-linejoin="round" />
<polygon points="549.84,252.42 552.10,255.71 554.42,254.48 552.16,251.19" fill="#1a1a1a" stroke="#000" stroke-width="0.60" stroke-linejoin="round" />
<polygon points="579.15,304.72 580.73,308.41 583.05,307.17 581.47,303.49" fill="#1a1a1a" stroke="#000" stroke-width="0.60" stroke-linejoin="round" />
<polygon points="579.90,304.29 579.15,304.72 581.47,303.49 582.22,303.05" fill="#1a1a1a" stroke="#000" stroke-width="0.60" stroke-linejoin="round" />
<polygon points="551.27,251.59 552.28,251.14 554.60,249.90 553.59,250.36" fill="#fff" stroke="#000" stroke-width="0.60" stroke-linejoin="round" />
<polygon points="552.28,251.14 554.27,254.64 556.59,253.40 554.60,249.90" fill="#1a1a1a" stroke="#000" stroke-width="0.60" stroke-linejoin="round" />
<polygon points="583.07,306.93 582.16,307.58 584.49,306.34 585.39,305.69" fill="#fff" stroke="#000" stroke-width="0.60" stroke-linejoin="round" />
<polygon points="554.27,254.64 555.10,254.36 557.42,253.12 556.59,253.40" fill="#1a1a1a" stroke="#000" stroke-width="0.60" stroke-linejoin="round" />
<polygon points="581.16,303.38 583.07,306.93 585.39,305.69 583.48,302.14" fill="#1a1a1a" stroke="#000" stroke-width="0.60" stroke-linejoin="round" />
<polygon points="581.83,302.80 581.16,303.38 583.48,302.14 584.15,301.56" fill="#1a1a1a" stroke="#000" stroke-width="0.60" stroke-linejoin="round" />
<polygon points="553.86,250.60 554.96,250.34 557.28,249.11 556.18,249.37" fill="#fff" stroke="#000" stroke-width="0.60" stroke-linejoin="round" />
<polygon points="554.96,250.34 556.63,254.00 558.95,252.76 557.28,249.11" fill="#1a1a1a" stroke="#000" stroke-width="0.60" stroke-linejoin="round" />
<polygon points="556.63,254.00 557.53,253.87 559.85,252.64 558.95,252.76" fill="#1a1a1a" stroke="#000" stroke-width="0.60" stroke-linejoin="round" />
<polygon points="585.11,304.99 584.33,305.82 586.65,304.58 587.44,303.75" fill="#fff" stroke="#000" stroke-width="0.60" stroke-linejoin="round" />
<polygon points="582.92,301.63 585.11,304.99 587.44,303.75 585.24,300.40" fill="#1a1a1a" stroke="#000" stroke-width="0.60" stroke-linejoin="round" />
<polygon points="583.48,300.91 582.92,301.63 585.24,300.40 585.81,299.68" fill="#1a1a1a" stroke="#000" stroke-width="0.60" stroke-linejoin="round" />
<polygon points="556.66,250.11 557.83,250.06 560.15,248.82 558.98,248.88" fill="#fff" stroke="#000" stroke-width="0.60" stroke-linejoin="round" />
<polygon points="557.83,250.06 559.16,253.80 561.48,252.57 560.15,248.82" fill="#1a1a1a" stroke="#000" stroke-width="0.60" stroke-linejoin="round" />
<polygon points="559.16,253.80 560.10,253.84 562.42,252.60 561.48,252.57" fill="#1a1a1a" stroke="#000" stroke-width="0.60" stroke-linejoin="round" />
<polygon points="586.83,302.62 586.19,303.62 588.51,302.38 589.15,301.39" fill="#fff" stroke="#000" stroke-width="0.60" stroke-linejoin="round" />
<polygon points="584.39,299.52 586.83,302.62 589.15,301.39 586.71,298.29" fill="#1a1a1a" stroke="#000" stroke-width="0.60" stroke-linejoin="round" />
<polygon points="584.84,298.68 584.39,299.52 586.71,298.29 587.16,297.44" fill="#1a1a1a" stroke="#000" stroke-width="0.60" stroke-linejoin="round" />
<polygon points="561.80,254.05 562.77,254.25 565.10,253.02 564.12,252.82" fill="#1a1a1a" stroke="#000" stroke-width="0.60" stroke-linejoin="round" />
<polygon points="559.62,250.13 560.84,250.28 563.16,249.05 561.94,248.90" fill="#fff" stroke="#000" stroke-width="0.60" stroke-linejoin="round" />
<polygon points="560.84,250.28 561.80,254.05 564.12,252.82 563.16,249.05" fill="#1a1a1a" stroke="#000" stroke-width="0.60" stroke-linejoin="round" />
<polygon points="585.88,296.12 585.54,297.07 587.86,295.84 588.20,294.88" fill="#1a1a1a" stroke="#000" stroke-width="0.60" stroke-linejoin="round" />
<polygon points="585.54,297.07 588.20,299.87 590.52,298.63 587.86,295.84" fill="#1a1a1a" stroke="#000" stroke-width="0.60" stroke-linejoin="round" />
<polygon points="588.20,299.87 587.70,301.01 590.02,299.78 590.52,298.63" fill="#fff" stroke="#000" stroke-width="0.60" stroke-linejoin="round" />
<polygon points="564.52,254.75 565.50,255.10 567.83,253.87 566.84,253.51" fill="#1a1a1a" stroke="#000" stroke-width="0.60" stroke-linejoin="round" />
<polygon points="563.93,251.02 564.52,254.75 566.84,253.51 566.25,249.78" fill="#1a1a1a" stroke="#000" stroke-width="0.60" stroke-linejoin="round" />
<polygon points="562.69,250.66 563.93,251.02 566.25,249.78 565.01,249.43" fill="#fff" stroke="#000" stroke-width="0.60" stroke-linejoin="round" />
<polygon points="586.57,293.28 586.36,294.33 588.68,293.10 588.89,292.05" fill="#1a1a1a" stroke="#000" stroke-width="0.60" stroke-linejoin="round" />
<polygon points="586.36,294.33 589.18,296.77 591.50,295.54 588.68,293.10" fill="#1a1a1a" stroke="#000" stroke-width="0.60" stroke-linejoin="round" />
<polygon points="589.18,296.77 588.83,298.05 591.15,296.81 591.50,295.54" fill="#fff" stroke="#000" stroke-width="0.60" stroke-linejoin="round" />
<polygon points="567.26,255.88 568.24,256.38 570.56,255.15 569.58,254.64" fill="#1a1a1a" stroke="#000" stroke-width="0.60" stroke-linejoin="round" />
<polygon points="567.06,252.25 567.26,255.88 569.58,254.64 569.38,251.01" fill="#1a1a1a" stroke="#000" stroke-width="0.60" stroke-linejoin="round" />
<polygon points="586.92,290.22 586.83,291.35 589.15,290.11 589.24,288.99" fill="#1a1a1a" stroke="#000" stroke-width="0.60" stroke-linejoin="round" />
<polygon points="565.81,251.70 567.06,252.25 569.38,251.01 568.13,250.46" fill="#fff" stroke="#000" stroke-width="0.60" stroke-linejoin="round" />
<polygon points="586.83,291.35 589.77,293.39 592.09,292.16 589.15,290.11" fill="#1a1a1a" stroke="#000" stroke-width="0.60" stroke-linejoin="round" />
<polygon points="589.77,293.39 589.58,294.77 591.90,293.54 592.09,292.16" fill="#fff" stroke="#000" stroke-width="0.60" stroke-linejoin="round" />
<polygon points="569.98,257.42 570.94,258.07 573.26,256.83 572.30,256.18" fill="#1a1a1a" stroke="#000" stroke-width="0.60" stroke-linejoin="round" />
<polygon points="586.90,286.99 586.95,288.17 589.27,286.93 589.22,285.75" fill="#1a1a1a" stroke="#000" stroke-width="0.60" stroke-linejoin="round" />
<polygon points="570.18,253.95 569.98,257.42 572.30,256.18 572.50,252.72" fill="#1a1a1a" stroke="#000" stroke-width="0.60" stroke-linejoin="round" />
<polygon points="568.94,253.22 570.18,253.95 572.50,252.72 571.26,251.98" fill="#fff" stroke="#000" stroke-width="0.60" stroke-linejoin="round" />
<polygon points="586.95,288.17 589.95,289.78 592.27,288.55 589.27,286.93" fill="#1a1a1a" stroke="#000" stroke-width="0.60" stroke-linejoin="round" />
<polygon points="572.63,259.34 573.56,260.13 575.88,258.89 574.95,258.11" fill="#1a1a1a" stroke="#000" stroke-width="0.60" stroke-linejoin="round" />
<polygon points="589.95,289.78 589.92,291.25 592.24,290.01 592.27,288.55" fill="#fff" stroke="#000" stroke-width="0.60" stroke-linejoin="round" />
<polygon points="586.53,283.63 586.70,284.85 589.03,283.61 588.85,282.40" fill="#1a1a1a" stroke="#000" stroke-width="0.60" stroke-linejoin="round" />
<polygon points="573.22,256.11 572.63,259.34 574.95,258.11 575.54,254.87" fill="#1a1a1a" stroke="#000" stroke-width="0.60" stroke-linejoin="round" />
<polygon points="575.17,261.62 576.04,262.52 578.37,261.29 577.49,260.39" fill="#1a1a1a" stroke="#000" stroke-width="0.60" stroke-linejoin="round" />
<polygon points="586.70,284.85 589.72,286.00 592.04,284.77 589.03,283.61" fill="#1a1a1a" stroke="#000" stroke-width="0.60" stroke-linejoin="round" />
<polygon points="585.81,280.21 586.11,281.45 588.43,280.21 588.13,278.98" fill="#1a1a1a" stroke="#000" stroke-width="0.60" stroke-linejoin="round" />
<polygon points="572.01,255.19 573.22,256.11 575.54,254.87 574.34,253.96" fill="#fff" stroke="#000" stroke-width="0.60" stroke-linejoin="round" />
<polygon points="577.55,264.22 578.36,265.22 580.68,263.99 579.87,262.98" fill="#1a1a1a" stroke="#000" stroke-width="0.60" stroke-linejoin="round" />
<polygon points="589.72,286.00 589.86,287.53 592.18,286.29 592.04,284.77" fill="#fff" stroke="#000" stroke-width="0.60" stroke-linejoin="round" />
<polygon points="576.14,258.67 575.17,261.62 577.49,260.39 578.46,257.43" fill="#1a1a1a" stroke="#000" stroke-width="0.60" stroke-linejoin="round" />
<polygon points="584.74,276.79 585.16,278.02 587.48,276.78 587.06,275.56" fill="#1a1a1a" stroke="#000" stroke-width="0.60" stroke-linejoin="round" />
<polygon points="586.11,281.45 589.08,282.12 591.40,280.89 588.43,280.21" fill="#1a1a1a" stroke="#000" stroke-width="0.60" stroke-linejoin="round" />
<polygon points="579.73,267.08 580.46,268.17 582.78,266.94 582.05,265.85" fill="#1a1a1a" stroke="#000" stroke-width="0.60" stroke-linejoin="round" />
<polygon points="583.36,273.42 583.89,274.63 586.21,273.39 585.68,272.19" fill="#1a1a1a" stroke="#000" stroke-width="0.60" stroke-linejoin="round" />
<polygon points="581.68,270.17 582.32,271.32 584.64,270.09 584.00,268.93" fill="#1a1a1a" stroke="#000" stroke-width="0.60" stroke-linejoin="round" />
<polygon points="574.99,257.60 576.14,258.67 578.46,257.43 577.31,256.36" fill="#fff" stroke="#000" stroke-width="0.60" stroke-linejoin="round" />
<polygon points="578.88,261.59 577.55,264.22 579.87,262.98 581.20,260.36" fill="#1a1a1a" stroke="#000" stroke-width="0.60" stroke-linejoin="round" />
<polygon points="585.16,278.02 588.05,278.20 590.37,276.97 587.48,276.78" fill="#1a1a1a" stroke="#000" stroke-width="0.60" stroke-linejoin="round" />
<polygon points="589.08,282.12 589.38,283.68 591.70,282.45 591.40,280.89" fill="#fff" stroke="#000" stroke-width="0.60" stroke-linejoin="round" />
<polygon points="581.41,264.83 579.73,267.08 582.05,265.85 583.73,263.60" fill="#1a1a1a" stroke="#000" stroke-width="0.60" stroke-linejoin="round" />
<polygon points="583.89,274.63 586.64,274.32 588.96,273.08 586.21,273.39" fill="#1a1a1a" stroke="#000" stroke-width="0.60" stroke-linejoin="round" />
<polygon points="585.63,272.03 583.36,273.42 585.68,272.19 587.95,270.80" fill="#1a1a1a" stroke="#000" stroke-width="0.60" stroke-linejoin="round" />
<polygon points="583.67,268.33 581.68,270.17 584.00,268.93 585.99,267.10" fill="#1a1a1a" stroke="#000" stroke-width="0.60" stroke-linejoin="round" />
<polygon points="582.32,271.32 584.88,270.53 587.20,269.30 584.64,270.09" fill="#1a1a1a" stroke="#000" stroke-width="0.60" stroke-linejoin="round" />
<polygon points="577.81,260.38 578.88,261.59 581.20,260.36 580.13,259.15" fill="#fff" stroke="#000" stroke-width="0.60" stroke-linejoin="round" />
<polygon points="588.05,278.20 588.51,279.77 590.83,278.54 590.37,276.97" fill="#fff" stroke="#000" stroke-width="0.60" stroke-linejoin="round" />
<polygon points="580.43,263.50 581.41,264.83 583.73,263.60 582.75,262.27" fill="#fff" stroke="#000" stroke-width="0.60" stroke-linejoin="round" />
<polygon points="586.64,274.32 587.25,275.87 589.57,274.63 588.96,273.08" fill="#fff" stroke="#000" stroke-width="0.60" stroke-linejoin="round" />
<polygon points="582.80,266.90 583.67,268.33 585.99,267.10 585.12,265.67" fill="#fff" stroke="#000" stroke-width="0.60" stroke-linejoin="round" />
<polygon points="584.88,270.53 585.63,272.03 587.95,270.80 587.20,269.30" fill="#fff" stroke="#000" stroke-width="0.60" stroke-linejoin="round" />
<polygon points="552.85,255.28 551.27,251.59 552.28,251.14 554.27,254.64 555.10,254.36 553.86,250.60 554.96,250.34 556.63,254.00 557.53,253.87 556.66,250.11 557.83,250.06 559.16,253.80 560.10,253.84 559.62,250.13 560.84,250.28 561.80,254.05 562.77,254.25 562.69,250.66 563.93,251.02 564.52,254.75 565.50,255.10 565.81,251.70 567.06,252.25 567.26,255.88 568.24,256.38 568.94,253.22 570.18,253.95 569.98,257.42 570.94,258.07 572.01,255.19 573.22,256.11 572.63,259.34 573.56,260.13 574.99,257.60 576.14,258.67 575.17,261.62 576.04,262.52 577.81,260.38 578.88,261.59 577.55,264.22 578.36,265.22 580.43,263.50 581.41,264.83 579.73,267.08 580.46,268.17 582.80,266.90 583.67,268.33 581.68,270.17 582.32,271.32 584.88,270.53 585.63,272.03 583.36,273.42 583.89,274.63 586.64,274.32 587.25,275.87 584.74,276.79 585.16,278.02 588.05,278.20 588.51,279.77 585.81,280.21 586.11,281.45 589.08,282.12 589.38,283.68 586.53,283.63 586.70,284.85 589.72,286.00 589.86,287.53 586.90,286.99 586.95,288.17 589.95,289.78 589.92,291.25 586.92,290.22 586.83,291.35 589.77,293.39 589.58,294.77 586.57,293.28 586.36,294.33 589.18,296.77 588.83,298.05 585.88,296.12 585.54,297.07 588.20,299.87 587.70,301.01 584.84,298.68 584.39,299.52 586.83,302.62 586.19,303.62 583.48,300.91 582.92,301.63 585.11,304.99 584.33,305.82 581.83,302.80 581.16,303.38 583.07,306.93 582.16,307.58 579.90,304.29 579.15,304.72 580.73,308.41 579.72,308.86 577.73,305.36 576.90,305.64 578.14,309.40 577.04,309.66 575.37,306.00 574.47,306.13 575.34,309.89 574.17,309.94 572.84,306.20 571.90,306.16 572.38,309.87 571.16,309.72 570.20,305.95 569.23,305.75 569.31,309.34 568.07,308.98 567.48,305.25 566.50,304.90 566.19,308.30 564.94,307.75 564.74,304.12 563.76,303.62 563.06,306.78 561.82,306.05 562.02,302.58 561.06,301.93 559.99,304.81 558.78,303.89 559.37,300.66 558.44,299.87 557.01,302.40 555.86,301.33 556.83,298.38 555.96,297.48 554.19,299.62 553.12,298.41 554.45,295.78 553.64,294.78 551.57,296.50 550.59,295.17 552.27,292.92 551.54,291.83 549.20,293.10 548.33,291.67 550.32,289.83 549.68,288.68 547.12,289.47 546.37,287.97 548.64,286.58 548.11,285.37 545.36,285.68 544.75,284.13 547.26,283.21 546.84,281.98 543.95,281.80 543.49,280.23 546.19,279.79 545.89,278.55 542.92,277.88 542.62,276.32 545.47,276.37 545.30,275.15 542.28,274.00 542.14,272.47 545.10,273.01 545.05,271.83 542.05,270.22 542.08,268.75 545.08,269.78 545.17,268.65 542.23,266.61 542.42,265.23 545.43,266.72 545.64,265.67 542.82,263.23 543.17,261.95 546.12,263.88 546.46,262.93 543.80,260.13 544.30,258.99 547.16,261.32 547.61,260.48 545.17,257.38 545.81,256.38 548.52,259.09 549.08,258.37 546.89,255.01 547.67,254.18 550.17,257.20 550.84,256.62 548.93,253.07 549.84,252.42 552.10,255.71" fill="#fff" stroke="#000" stroke-width="0.60" stroke-linejoin="round" />
<polygon points="553.32,256.16 554.74,255.52 556.25,255.07 557.83,254.81 559.47,254.74 561.16,254.86 562.89,255.17 564.64,255.67 566.40,256.36 568.16,257.23 569.91,258.27 571.62,259.47 573.29,260.84 574.90,262.34 576.45,263.98 577.92,265.75 579.29,267.62 580.57,269.59 581.73,271.63 582.78,273.74 583.70,275.90 584.48,278.09 585.12,280.29 585.62,282.49 585.96,284.67 586.16,286.82 586.20,288.92 586.09,290.94 585.82,292.88 585.41,294.73 584.84,296.46 584.14,298.07 583.29,299.54 582.32,300.86 581.22,302.02 580.00,303.02 578.68,303.84 577.26,304.48 575.75,304.93 574.17,305.19 572.53,305.26 570.84,305.14 569.11,304.83 567.36,304.33 565.60,303.64 563.84,302.77 562.09,301.73 560.38,300.53 558.71,299.16 557.10,297.66 555.55,296.02 554.08,294.25 552.71,292.38 551.43,290.41 550.27,288.37 549.22,286.26 548.30,284.10 547.52,281.91 546.88,279.71 546.38,277.51 546.04,275.33 545.84,273.18 545.80,271.08 545.91,269.06 546.18,267.12 546.59,265.27 547.16,263.54 547.86,261.93 548.71,260.46 549.68,259.14 550.78,257.98 552.00,256.98" fill="#fff" stroke="#000" stroke-width="0.90" stroke-linejoin="round" />
<polygon points="554.26,257.93 555.58,257.34 556.97,256.92 558.43,256.67 559.95,256.61 561.52,256.72 563.12,257.01 564.74,257.48 566.37,258.11 568.00,258.91 569.62,259.88 571.20,260.99 572.75,262.25 574.24,263.65 575.68,265.17 577.03,266.80 578.31,268.54 579.49,270.36 580.57,272.25 581.54,274.21 582.39,276.20 583.11,278.23 583.70,280.27 584.16,282.31 584.49,284.33 584.67,286.32 584.70,288.25 584.60,290.13 584.36,291.93 583.97,293.64 583.45,295.24 582.79,296.73 582.01,298.09 581.11,299.32 580.09,300.39 578.96,301.31 577.74,302.07 576.42,302.66 575.03,303.08 573.57,303.33 572.05,303.39 570.48,303.28 568.88,302.99 567.26,302.52 565.63,301.89 564.00,301.09 562.38,300.12 560.80,299.01 559.25,297.75 557.76,296.35 556.32,294.83 554.97,293.20 553.69,291.46 552.51,289.64 551.43,287.75 550.46,285.79 549.61,283.80 548.89,281.77 548.30,279.73 547.84,277.69 547.51,275.67 547.33,273.68 547.30,271.75 547.40,269.87 547.64,268.07 548.03,266.36 548.55,264.76 549.21,263.27 549.99,261.91 550.89,260.68 551.91,259.61 553.04,258.69" fill="none" stroke="#000" stroke-width="0.50" stroke-linejoin="round" />
<polygon points="555.45,258.79 555.67,258.69 555.91,258.62 556.15,258.58 556.41,258.57 556.67,258.59 556.94,258.64 557.21,258.72 557.49,258.82 557.76,258.96 558.03,259.12 558.30,259.31 558.56,259.52 558.81,259.76 559.05,260.01 559.28,260.29 559.49,260.58 559.69,260.88 559.87,261.20 560.03,261.53 560.18,261.86 560.30,262.20 560.40,262.55 560.48,262.89 560.53,263.23 560.56,263.56 560.57,263.89 560.55,264.20 560.51,264.51 560.44,264.79 560.36,265.06 560.25,265.31 560.11,265.54 559.96,265.75 559.79,265.93 559.60,266.08 559.40,266.21 559.18,266.31 558.94,266.38 558.70,266.42 558.44,266.43 558.18,266.41 557.91,266.36 557.64,266.29 557.36,266.18 557.09,266.04 556.82,265.88 556.55,265.70 556.29,265.48 556.04,265.25 555.80,264.99 555.57,264.72 555.36,264.43 555.16,264.12 554.98,263.80 554.81,263.48 554.67,263.14 554.55,262.80 554.45,262.46 554.37,262.11 554.32,261.77 554.29,261.44 554.28,261.12 554.30,260.80 554.34,260.50 554.41,260.21 554.49,259.94 554.60,259.69 554.73,259.46 554.89,259.26 555.06,259.08 555.25,258.92" fill="#fff" stroke="#000" stroke-width="1.00" stroke-linejoin="round" />
<polygon points="566.31,260.26 566.53,260.16 566.77,260.09 567.01,260.05 567.27,260.04 567.53,260.06 567.80,260.11 568.07,260.18 568.35,260.29 568.62,260.43 568.89,260.59 569.16,260.78 569.42,260.99 569.67,261.22 569.91,261.48 570.14,261.75 570.35,262.04 570.55,262.35 570.73,262.67 570.90,263.00 571.04,263.33 571.16,263.67 571.26,264.01 571.34,264.36 571.39,264.70 571.42,265.03 571.43,265.36 571.41,265.67 571.37,265.97 571.30,266.26 571.22,266.53 571.11,266.78 570.98,267.01 570.82,267.21 570.65,267.39 570.46,267.55 570.26,267.68 570.04,267.78 569.80,267.85 569.56,267.89 569.30,267.90 569.04,267.88 568.77,267.83 568.50,267.75 568.22,267.65 567.95,267.51 567.68,267.35 567.41,267.16 567.15,266.95 566.90,266.72 566.66,266.46 566.43,266.19 566.22,265.89 566.02,265.59 565.84,265.27 565.67,264.94 565.53,264.61 565.41,264.27 565.31,263.92 565.23,263.58 565.18,263.24 565.15,262.91 565.14,262.58 565.16,262.27 565.20,261.96 565.27,261.68 565.35,261.41 565.46,261.16 565.60,260.93 565.75,260.72 565.92,260.54 566.11,260.39" fill="#fff" stroke="#000" stroke-width="1.00" stroke-linejoin="round" />
<polygon points="575.84,271.12 576.06,271.02 576.29,270.95 576.54,270.91 576.79,270.90 577.05,270.92 577.32,270.96 577.60,271.04 577.87,271.15 578.14,271.28 578.41,271.45 578.68,271.63 578.94,271.84 579.19,272.08 579.43,272.33 579.66,272.61 579.87,272.90 580.07,273.21 580.25,273.52 580.42,273.85 580.56,274.19 580.68,274.53 580.78,274.87 580.86,275.21 580.91,275.55 580.94,275.89 580.95,276.21 580.93,276.53 580.89,276.83 580.83,277.12 580.74,277.39 580.63,277.64 580.50,277.87 580.34,278.07 580.17,278.25 579.98,278.41 579.78,278.53 579.56,278.63 579.32,278.70 579.08,278.74 578.82,278.76 578.56,278.74 578.29,278.69 578.02,278.61 577.74,278.50 577.47,278.37 577.20,278.21 576.93,278.02 576.67,277.81 576.42,277.57 576.18,277.32 575.95,277.04 575.74,276.75 575.54,276.45 575.36,276.13 575.20,275.80 575.05,275.46 574.93,275.12 574.83,274.78 574.76,274.44 574.70,274.10 574.67,273.76 574.66,273.44 574.68,273.12 574.72,272.82 574.79,272.53 574.88,272.27 574.99,272.02 575.12,271.79 575.27,271.58 575.44,271.40 575.63,271.25" fill="#fff" stroke="#000" stroke-width="1.00" stroke-linejoin="round" />
<polygon points="578.44,285.01 578.66,284.91 578.90,284.84 579.14,284.80 579.40,284.78 579.66,284.80 579.93,284.85 580.20,284.93 580.48,285.04 580.75,285.17 581.02,285.33 581.29,285.52 581.55,285.73 581.80,285.97 582.04,286.22 582.27,286.50 582.48,286.79 582.68,287.09 582.86,287.41 583.02,287.74 583.17,288.08 583.29,288.42 583.39,288.76 583.46,289.10 583.52,289.44 583.55,289.78 583.55,290.10 583.54,290.42 583.50,290.72 583.43,291.01 583.34,291.28 583.23,291.53 583.10,291.75 582.95,291.96 582.78,292.14 582.59,292.30 582.38,292.42 582.16,292.52 581.93,292.59 581.68,292.63 581.43,292.64 581.17,292.63 580.90,292.58 580.62,292.50 580.35,292.39 580.08,292.26 579.80,292.09 579.54,291.91 579.28,291.70 579.03,291.46 578.79,291.21 578.56,290.93 578.34,290.64 578.15,290.33 577.96,290.02 577.80,289.69 577.66,289.35 577.54,289.01 577.44,288.67 577.36,288.33 577.31,287.99 577.28,287.65 577.27,287.33 577.29,287.01 577.33,286.71 577.39,286.42 577.48,286.15 577.59,285.90 577.72,285.67 577.87,285.47 578.05,285.29 578.23,285.13" fill="#fff" stroke="#000" stroke-width="1.00" stroke-linejoin="round" />
<polygon points="572.60,293.79 572.82,293.69 573.06,293.62 573.30,293.58 573.56,293.57 573.82,293.59 574.09,293.64 574.36,293.71 574.64,293.82 574.91,293.96 575.18,294.12 575.45,294.30 575.71,294.52 575.96,294.75 576.20,295.01 576.43,295.28 576.64,295.57 576.84,295.88 577.02,296.20 577.19,296.52 577.33,296.86 577.45,297.20 577.55,297.54 577.63,297.89 577.68,298.23 577.71,298.56 577.72,298.88 577.70,299.20 577.66,299.50 577.59,299.79 577.51,300.06 577.40,300.31 577.27,300.54 577.11,300.74 576.94,300.92 576.75,301.08 576.55,301.21 576.33,301.31 576.09,301.38 575.85,301.42 575.59,301.43 575.33,301.41 575.06,301.36 574.79,301.28 574.51,301.18 574.24,301.04 573.97,300.88 573.70,300.69 573.44,300.48 573.19,300.24 572.95,299.99 572.72,299.71 572.51,299.42 572.31,299.12 572.13,298.80 571.97,298.47 571.82,298.14 571.70,297.80 571.60,297.45 571.52,297.11 571.47,296.77 571.44,296.44 571.43,296.11 571.45,295.80 571.49,295.49 571.56,295.21 571.64,294.94 571.75,294.69 571.89,294.46 572.04,294.25 572.21,294.07 572.40,293.92" fill="#fff" stroke="#000" stroke-width="1.00" stroke-linejoin="round" />
<polygon points="561.74,292.32 561.96,292.22 562.20,292.15 562.44,292.11 562.70,292.10 562.96,292.12 563.23,292.17 563.50,292.25 563.78,292.35 564.05,292.49 564.32,292.65 564.59,292.84 564.85,293.05 565.10,293.28 565.34,293.54 565.57,293.81 565.78,294.11 565.98,294.41 566.16,294.73 566.33,295.06 566.47,295.39 566.59,295.73 566.69,296.08 566.77,296.42 566.82,296.76 566.85,297.09 566.86,297.42 566.84,297.73 566.80,298.04 566.73,298.32 566.65,298.59 566.54,298.84 566.40,299.07 566.25,299.28 566.08,299.46 565.89,299.61 565.69,299.74 565.47,299.84 565.23,299.91 564.99,299.95 564.73,299.96 564.47,299.94 564.20,299.89 563.93,299.82 563.65,299.71 563.38,299.57 563.11,299.41 562.84,299.22 562.58,299.01 562.33,298.78 562.09,298.52 561.86,298.25 561.65,297.96 561.45,297.65 561.27,297.33 561.10,297.00 560.96,296.67 560.84,296.33 560.74,295.99 560.66,295.64 560.61,295.30 560.58,294.97 560.57,294.64 560.59,294.33 560.63,294.03 560.70,293.74 560.78,293.47 560.89,293.22 561.02,292.99 561.18,292.79 561.35,292.61 561.54,292.45" fill="#fff" stroke="#000" stroke-width="1.00" stroke-linejoin="round" />
<polygon points="552.22,281.47 552.44,281.37 552.68,281.30 552.92,281.26 553.18,281.24 553.44,281.26 553.71,281.31 553.98,281.39 554.26,281.50 554.53,281.63 554.80,281.79 555.07,281.98 555.33,282.19 555.58,282.43 555.82,282.68 556.05,282.96 556.26,283.25 556.46,283.55 556.64,283.87 556.80,284.20 556.95,284.54 557.07,284.88 557.17,285.22 557.24,285.56 557.30,285.90 557.33,286.24 557.34,286.56 557.32,286.88 557.28,287.18 557.21,287.47 557.12,287.73 557.01,287.98 556.88,288.21 556.73,288.42 556.56,288.60 556.37,288.75 556.16,288.88 555.94,288.98 555.71,289.05 555.46,289.09 555.21,289.10 554.95,289.08 554.68,289.04 554.40,288.96 554.13,288.85 553.86,288.72 553.59,288.55 553.32,288.37 553.06,288.16 552.81,287.92 552.57,287.67 552.34,287.39 552.13,287.10 551.93,286.79 551.75,286.48 551.58,286.15 551.44,285.81 551.32,285.47 551.22,285.13 551.14,284.79 551.09,284.45 551.06,284.11 551.05,283.79 551.07,283.47 551.11,283.17 551.17,282.88 551.26,282.61 551.37,282.36 551.50,282.13 551.66,281.93 551.83,281.75 552.02,281.59" fill="#fff" stroke="#000" stroke-width="1.00" stroke-linejoin="round" />
<polygon points="549.62,267.58 549.84,267.48 550.07,267.41 550.32,267.37 550.57,267.36 550.83,267.37 551.10,267.42 551.38,267.50 551.65,267.61 551.92,267.74 552.20,267.91 552.46,268.09 552.72,268.30 552.97,268.54 553.21,268.79 553.44,269.07 553.66,269.36 553.85,269.67 554.04,269.98 554.20,270.31 554.34,270.65 554.46,270.99 554.56,271.33 554.64,271.67 554.69,272.01 554.72,272.35 554.73,272.67 554.71,272.99 554.67,273.29 554.61,273.58 554.52,273.85 554.41,274.10 554.28,274.33 554.13,274.53 553.95,274.71 553.77,274.87 553.56,274.99 553.34,275.09 553.10,275.16 552.86,275.20 552.60,275.22 552.34,275.20 552.07,275.15 551.80,275.07 551.52,274.96 551.25,274.83 550.98,274.67 550.71,274.48 550.45,274.27 550.20,274.03 549.96,273.78 549.73,273.50 549.52,273.21 549.32,272.91 549.14,272.59 548.98,272.26 548.83,271.92 548.71,271.58 548.61,271.24 548.54,270.90 548.48,270.56 548.45,270.22 548.45,269.90 548.46,269.58 548.50,269.28 548.57,268.99 548.66,268.72 548.77,268.47 548.90,268.25 549.05,268.04 549.22,267.86 549.41,267.70" fill="#fff" stroke="#000" stroke-width="1.00" stroke-linejoin="round" />
<polygon points="559.90,268.52 560.58,268.21 561.31,268.00 562.07,267.87 562.86,267.84 563.67,267.89 564.50,268.05 565.35,268.29 566.19,268.62 567.04,269.04 567.88,269.54 568.71,270.12 569.51,270.77 570.29,271.50 571.03,272.29 571.74,273.14 572.40,274.04 573.01,274.99 573.58,275.97 574.08,276.99 574.52,278.03 574.90,279.08 575.21,280.14 575.45,281.20 575.61,282.25 575.71,283.28 575.73,284.29 575.67,285.27 575.54,286.20 575.34,287.09 575.07,287.93 574.73,288.70 574.33,289.41 573.86,290.04 573.33,290.60 572.74,291.08 572.10,291.48 571.42,291.79 570.69,292.00 569.93,292.13 569.14,292.16 568.33,292.11 567.50,291.95 566.65,291.71 565.81,291.38 564.96,290.96 564.12,290.46 563.29,289.88 562.49,289.23 561.71,288.50 560.97,287.71 560.26,286.86 559.60,285.96 558.99,285.01 558.42,284.03 557.92,283.01 557.48,281.97 557.10,280.92 556.79,279.86 556.55,278.80 556.39,277.75 556.29,276.72 556.27,275.71 556.33,274.73 556.46,273.80 556.66,272.91 556.93,272.07 557.27,271.30 557.67,270.59 558.14,269.96 558.67,269.40 559.26,268.92" fill="#fff" stroke="#000" stroke-width="1.30" stroke-linejoin="round" />
<polygon points="560.60,269.85 561.21,269.57 561.85,269.38 562.52,269.27 563.22,269.24 563.94,269.29 564.68,269.42 565.42,269.64 566.17,269.93 566.92,270.30 567.66,270.74 568.39,271.26 569.10,271.84 569.79,272.48 570.45,273.18 571.08,273.93 571.66,274.73 572.21,275.57 572.70,276.44 573.15,277.34 573.54,278.25 573.87,279.19 574.14,280.12 574.36,281.06 574.50,281.99 574.59,282.91 574.60,283.80 574.56,284.66 574.44,285.49 574.27,286.27 574.03,287.01 573.73,287.70 573.37,288.32 572.95,288.89 572.48,289.38 571.96,289.80 571.40,290.15 570.79,290.43 570.15,290.62 569.48,290.73 568.78,290.76 568.06,290.71 567.32,290.58 566.58,290.36 565.83,290.07 565.08,289.70 564.34,289.26 563.61,288.74 562.90,288.16 562.21,287.52 561.55,286.82 560.92,286.07 560.34,285.27 559.79,284.43 559.30,283.56 558.85,282.66 558.46,281.75 558.13,280.81 557.86,279.88 557.64,278.94 557.50,278.01 557.41,277.09 557.40,276.20 557.44,275.34 557.56,274.51 557.73,273.73 557.97,272.99 558.27,272.30 558.63,271.68 559.05,271.11 559.52,270.62 560.04,270.20" fill="none" stroke="#000" stroke-width="0.50" stroke-linejoin="round" />
<polygon points="561.77,272.05 562.25,271.84 562.75,271.69 563.28,271.60 563.82,271.58 564.39,271.62 564.96,271.72 565.55,271.89 566.13,272.12 566.72,272.41 567.30,272.76 567.87,273.16 568.43,273.61 568.97,274.11 569.48,274.66 569.97,275.25 570.43,275.87 570.86,276.53 571.24,277.21 571.59,277.91 571.90,278.63 572.16,279.36 572.37,280.10 572.54,280.83 572.65,281.56 572.72,282.27 572.73,282.97 572.70,283.65 572.61,284.29 572.47,284.91 572.28,285.49 572.05,286.02 571.76,286.51 571.44,286.95 571.07,287.34 570.67,287.67 570.23,287.95 569.75,288.16 569.25,288.31 568.72,288.40 568.18,288.42 567.61,288.38 567.04,288.28 566.45,288.11 565.87,287.88 565.28,287.59 564.70,287.24 564.13,286.84 563.57,286.39 563.03,285.89 562.52,285.34 562.03,284.75 561.57,284.13 561.14,283.47 560.76,282.79 560.41,282.09 560.10,281.37 559.84,280.64 559.63,279.90 559.46,279.17 559.35,278.44 559.28,277.73 559.27,277.03 559.30,276.35 559.39,275.71 559.53,275.09 559.72,274.51 559.95,273.98 560.24,273.49 560.56,273.05 560.93,272.66 561.33,272.33" fill="#5a5a5a" stroke="#000" stroke-width="1.20" stroke-linejoin="round" />
<polygon points="539.65,315.95 539.03,316.28 538.35,316.52 537.63,316.67 536.87,316.73 536.08,316.69 535.26,316.56 534.42,316.34 533.56,316.03 532.70,315.63 531.84,315.15 530.98,314.58 530.13,313.94 529.30,313.23 528.49,312.45 527.72,311.61 526.98,310.72 526.28,309.77 525.63,308.79 525.03,307.78 524.49,306.74 524.01,305.68 523.60,304.62 523.25,303.55 522.97,302.49 522.77,301.45 522.64,300.43 522.58,299.44 522.60,298.49 522.70,297.58 522.87,296.73 523.11,295.94 523.43,295.21 523.81,294.55 524.26,293.97 524.77,293.47 525.35,293.05 527.04,291.99 527.67,291.66 528.34,291.42 529.06,291.27 529.82,291.21 530.62,291.25 531.44,291.38 532.28,291.60 533.13,291.91 533.99,292.31 534.86,292.79 535.72,293.36 536.57,294.00 537.40,294.71 538.20,295.49 538.98,296.33 539.72,297.22 540.42,298.17 541.07,299.15 541.66,300.16 542.20,301.20 542.68,302.26 543.10,303.32 543.45,304.39 543.72,305.45 543.93,306.49 544.06,307.51 544.11,308.50 544.09,309.45 544.00,310.36 543.83,311.21 543.58,312.00 543.27,312.73 542.88,313.39 542.43,313.97 541.92,314.47 541.35,314.89" fill="#fff" stroke="#000" stroke-width="1.20" stroke-linejoin="round" />
<polygon points="525.35,293.05 525.97,292.72 526.65,292.48 527.37,292.33 528.13,292.27 528.92,292.31 529.74,292.44 530.58,292.66 531.44,292.97 532.30,293.37 533.16,293.85 534.02,294.42 534.87,295.06 535.70,295.77 536.51,296.55 537.28,297.39 538.02,298.28 538.72,299.23 539.37,300.21 539.97,301.22 540.51,302.26 540.99,303.32 541.40,304.38 541.75,305.45 542.03,306.51 542.23,307.55 542.36,308.57 542.42,309.56 542.40,310.51 542.30,311.42 542.13,312.27 541.89,313.06 541.57,313.79 541.19,314.45 540.74,315.03 540.23,315.53 539.65,315.95 539.03,316.28 538.35,316.52 537.63,316.67 536.87,316.73 536.08,316.69 535.26,316.56 534.42,316.34 533.56,316.03 532.70,315.63 531.84,315.15 530.98,314.58 530.13,313.94 529.30,313.23 528.49,312.45 527.72,311.61 526.98,310.72 526.28,309.77 525.63,308.79 525.03,307.78 524.49,306.74 524.01,305.68 523.60,304.62 523.25,303.55 522.97,302.49 522.77,301.45 522.64,300.43 522.58,299.44 522.60,298.49 522.70,297.58 522.87,296.73 523.11,295.94 523.43,295.21 523.81,294.55 524.26,293.97 524.77,293.47" fill="#fff" stroke="#000" stroke-width="1.20" stroke-linejoin="round" />
<polygon points="526.14,294.32 526.70,294.03 527.30,293.82 527.94,293.68 528.61,293.63 529.32,293.66 530.05,293.78 530.79,293.98 531.55,294.25 532.32,294.61 533.09,295.04 533.85,295.54 534.61,296.11 535.35,296.74 536.06,297.43 536.75,298.18 537.41,298.98 538.03,299.81 538.61,300.68 539.14,301.59 539.62,302.51 540.04,303.45 540.41,304.40 540.72,305.34 540.97,306.28 541.15,307.21 541.26,308.12 541.31,309.00 541.30,309.84 541.21,310.65 541.06,311.41 540.84,312.11 540.56,312.76 540.22,313.34 539.82,313.86 539.37,314.31 538.86,314.68 538.30,314.97 537.70,315.18 537.06,315.32 536.39,315.37 535.68,315.34 534.95,315.22 534.21,315.02 533.45,314.75 532.68,314.39 531.91,313.96 531.15,313.46 530.39,312.89 529.65,312.26 528.94,311.57 528.25,310.82 527.59,310.02 526.97,309.19 526.39,308.32 525.86,307.41 525.38,306.49 524.96,305.55 524.59,304.60 524.28,303.66 524.03,302.72 523.85,301.79 523.74,300.88 523.69,300.00 523.70,299.16 523.79,298.35 523.94,297.59 524.16,296.89 524.44,296.24 524.78,295.66 525.18,295.14 525.63,294.69" fill="none" stroke="#000" stroke-width="0.50" stroke-linejoin="round" />
<polygon points="528.15,297.55 528.53,297.35 528.95,297.20 529.38,297.11 529.84,297.07 530.33,297.10 530.82,297.17 531.33,297.31 531.85,297.50 532.38,297.74 532.90,298.03 533.43,298.38 533.94,298.77 534.45,299.20 534.93,299.67 535.41,300.18 535.85,300.72 536.28,301.30 536.67,301.89 537.04,302.51 537.36,303.14 537.65,303.78 537.91,304.43 538.12,305.08 538.29,305.72 538.41,306.35 538.49,306.97 538.52,307.57 538.51,308.15 538.45,308.70 538.35,309.22 538.20,309.70 538.01,310.14 537.78,310.54 537.50,310.90 537.19,311.20 536.85,311.45 536.47,311.65 536.05,311.80 535.62,311.89 535.16,311.93 534.67,311.90 534.18,311.83 533.67,311.69 533.15,311.50 532.62,311.26 532.10,310.97 531.57,310.62 531.06,310.23 530.55,309.80 530.07,309.33 529.59,308.82 529.15,308.28 528.72,307.70 528.33,307.11 527.96,306.49 527.64,305.86 527.35,305.22 527.09,304.57 526.88,303.92 526.71,303.28 526.59,302.65 526.51,302.03 526.48,301.43 526.49,300.85 526.55,300.30 526.65,299.78 526.80,299.30 526.99,298.86 527.22,298.46 527.50,298.10 527.81,297.80" fill="#fff" stroke="#000" stroke-width="1.10" stroke-linejoin="round" />
<polygon points="529.81,297.93 530.13,297.76 530.48,297.63 530.86,297.55 531.25,297.52 531.66,297.54 532.09,297.61 532.52,297.72 532.97,297.89 533.41,298.09 533.86,298.34 534.31,298.64 534.75,298.97 535.18,299.34 535.60,299.74 536.00,300.18 536.38,300.64 536.74,301.13 537.08,301.64 537.39,302.16 537.67,302.70 537.92,303.25 538.13,303.80 538.31,304.36 538.46,304.90 538.56,305.45 538.63,305.97 538.66,306.49 538.65,306.98 538.60,307.45 538.51,307.89 538.38,308.30 538.22,308.68 538.02,309.02 537.79,309.32 537.52,309.58 537.23,309.80 536.90,309.97 536.55,310.10 536.18,310.17 535.79,310.20 535.37,310.18 534.95,310.12 534.51,310.00 534.07,309.84 533.62,309.64 533.17,309.38 532.73,309.09 532.29,308.76 531.86,308.39 531.44,307.99 531.04,307.55 530.65,307.09 530.29,306.60 529.96,306.09 529.65,305.56 529.37,305.03 529.12,304.48 528.90,303.93 528.72,303.37 528.58,302.82 528.47,302.28 528.40,301.75 528.38,301.24 528.39,300.75 528.44,300.28 528.52,299.84 528.65,299.42 528.81,299.05 529.01,298.71 529.25,298.40 529.51,298.14" fill="none" stroke="#000" stroke-width="0.80" stroke-linejoin="round" />
<polygon points="511.69,303.77 519.98,308.21 523.86,318.57 519.47,324.49 511.18,320.04 507.29,309.68" fill="#fff" stroke="#000" stroke-width="1.10" stroke-linejoin="round" />
<polygon points="509.31,305.14 517.60,309.58 519.98,308.21 511.69,303.77" fill="#fff" stroke="#000" stroke-width="1.00" stroke-linejoin="round" />
<polygon points="517.60,309.58 521.49,319.94 523.86,318.57 519.98,308.21" fill="#fff" stroke="#000" stroke-width="1.00" stroke-linejoin="round" />
<polygon points="521.49,319.94 517.09,325.86 519.47,324.49 523.86,318.57" fill="#fff" stroke="#000" stroke-width="1.00" stroke-linejoin="round" />
<polygon points="517.09,325.86 508.80,321.42 511.18,320.04 519.47,324.49" fill="#fff" stroke="#000" stroke-width="1.00" stroke-linejoin="round" />
<polygon points="508.80,321.42 504.91,311.06 507.29,309.68 511.18,320.04" fill="#fff" stroke="#000" stroke-width="1.00" stroke-linejoin="round" />
<polygon points="504.91,311.06 509.31,305.14 511.69,303.77 507.29,309.68" fill="#fff" stroke="#000" stroke-width="1.00" stroke-linejoin="round" />
<polygon points="509.31,305.14 517.60,309.58 521.49,319.94 517.09,325.86 508.80,321.42 504.91,311.06" fill="#fff" stroke="#000" stroke-width="1.20" stroke-linejoin="round" />
<polygon points="508.55,307.45 509.00,307.23 509.49,307.07 510.00,306.97 510.54,306.95 511.10,306.98 511.67,307.08 512.26,307.25 512.85,307.48 513.44,307.77 514.04,308.11 514.62,308.52 515.20,308.98 515.76,309.48 516.30,310.04 516.82,310.63 517.31,311.26 517.77,311.93 518.19,312.62 518.58,313.33 518.93,314.06 519.23,314.80 519.48,315.55 519.69,316.29 519.85,317.03 519.96,317.76 520.01,318.47 520.02,319.16 519.97,319.82 519.87,320.44 519.72,321.03 519.52,321.58 519.28,322.08 518.98,322.53 518.65,322.93 518.27,323.27 517.85,323.55 517.40,323.77 516.91,323.93 516.40,324.03 515.86,324.05 515.30,324.02 514.73,323.92 514.14,323.75 513.55,323.52 512.96,323.23 512.36,322.89 511.78,322.48 511.20,322.02 510.64,321.52 510.10,320.96 509.58,320.37 509.09,319.74 508.63,319.07 508.21,318.38 507.82,317.67 507.47,316.94 507.17,316.20 506.92,315.45 506.71,314.71 506.55,313.97 506.44,313.24 506.39,312.53 506.38,311.84 506.43,311.18 506.53,310.56 506.68,309.97 506.88,309.42 507.12,308.92 507.42,308.47 507.75,308.07 508.13,307.73" fill="none" stroke="#000" stroke-width="0.60" stroke-linejoin="round" />
<polygon points="509.40,308.92 509.77,308.74 510.17,308.61 510.59,308.53 511.02,308.51 511.48,308.54 511.95,308.62 512.43,308.76 512.91,308.94 513.40,309.18 513.88,309.46 514.36,309.79 514.83,310.17 515.29,310.58 515.73,311.03 516.16,311.52 516.56,312.04 516.93,312.58 517.28,313.14 517.60,313.73 517.88,314.32 518.13,314.93 518.33,315.54 518.50,316.15 518.63,316.75 518.72,317.35 518.77,317.93 518.77,318.49 518.73,319.03 518.65,319.54 518.53,320.02 518.37,320.47 518.17,320.88 517.93,321.25 517.65,321.57 517.34,321.85 517.00,322.08 516.63,322.26 516.23,322.39 515.81,322.47 515.38,322.49 514.92,322.46 514.45,322.38 513.97,322.24 513.49,322.06 513.00,321.82 512.52,321.54 512.04,321.21 511.57,320.83 511.11,320.42 510.67,319.97 510.24,319.48 509.84,318.96 509.47,318.42 509.12,317.86 508.80,317.27 508.52,316.68 508.27,316.07 508.07,315.46 507.90,314.85 507.77,314.25 507.68,313.65 507.63,313.07 507.63,312.51 507.67,311.97 507.75,311.46 507.87,310.98 508.03,310.53 508.23,310.12 508.47,309.75 508.75,309.43 509.06,309.15" fill="#fff" stroke="#000" stroke-width="1.20" stroke-linejoin="round" />
<polygon points="511.46,309.35 511.76,309.20 512.08,309.09 512.43,309.03 512.78,309.01 513.16,309.04 513.54,309.10 513.93,309.21 514.32,309.37 514.72,309.56 515.12,309.79 515.51,310.06 515.89,310.37 516.27,310.70 516.63,311.07 516.97,311.47 517.30,311.89 517.61,312.33 517.89,312.79 518.15,313.27 518.38,313.75 518.58,314.25 518.75,314.75 518.89,315.24 518.99,315.74 519.06,316.22 519.10,316.69 519.10,317.15 519.07,317.59 519.01,318.01 518.91,318.40 518.78,318.77 518.61,319.10 518.41,319.40 518.19,319.67 517.94,319.90 517.66,320.08 517.36,320.23 517.03,320.34 516.69,320.40 516.33,320.42 515.96,320.39 515.58,320.33 515.19,320.22 514.79,320.06 514.40,319.87 514.00,319.64 513.61,319.37 513.23,319.06 512.85,318.73 512.49,318.36 512.15,317.96 511.82,317.54 511.51,317.10 511.23,316.64 510.97,316.16 510.74,315.68 510.54,315.18 510.37,314.69 510.23,314.19 510.13,313.70 510.05,313.21 510.02,312.74 510.01,312.28 510.04,311.84 510.11,311.42 510.21,311.03 510.34,310.66 510.51,310.33 510.70,310.03 510.93,309.76 511.18,309.53" fill="none" stroke="#000" stroke-width="0.80" stroke-linejoin="round" />
</g>
<g id="bearing_e_4">
<rect x="598" y="236.5" width="33.5" height="32.5" fill="none" stroke="#666" stroke-width="1.2" stroke-dasharray="3.2,2.2"/>
<polygon points="612.98,243.82 612.78,242.81 613.85,242.49 614.45,243.39 615.18,243.38 615.29,242.48 616.53,242.78 616.88,243.79 617.65,244.16 618.06,243.50 619.28,244.37 619.32,245.34 620.02,246.02 620.67,245.71 621.68,247.01 621.40,247.80 621.92,248.69 622.71,248.78 623.36,250.32 622.81,250.80 623.07,251.76 623.88,252.23 624.07,253.77 623.33,253.87 623.29,254.77 623.99,255.55 623.69,256.86 622.88,256.56 622.55,257.25 623.04,258.22 622.30,259.10 621.53,258.46 620.96,258.83 621.16,259.84 620.09,260.16 619.49,259.26 618.76,259.27 618.65,260.17 617.41,259.87 617.06,258.86 616.29,258.49 615.88,259.15 614.66,258.28 614.62,257.31 613.92,256.63 613.27,256.94 612.26,255.64 612.54,254.85 612.02,253.96 611.23,253.87 610.58,252.33 611.13,251.85 610.87,250.89 610.06,250.42 609.87,248.88 610.61,248.78 610.65,247.88 609.95,247.10 610.25,245.79 611.06,246.09 611.39,245.40 610.90,244.43 611.64,243.55 612.41,244.20" fill="#eee" stroke="#000" stroke-width="0.80" stroke-linejoin="round" />
<polygon points="603.90,252.05 604.64,251.95 610.61,248.78 609.87,248.88" fill="#222" stroke="#000" stroke-width="0.80" stroke-linejoin="round" />
<polygon points="610.32,261.67 609.91,262.32 615.88,259.15 616.29,258.49" fill="#222" stroke="#000" stroke-width="0.80" stroke-linejoin="round" />
<polygon points="604.28,248.97 605.09,249.26 611.06,246.09 610.25,245.79" fill="#222" stroke="#000" stroke-width="0.80" stroke-linejoin="round" />
<polygon points="612.79,262.44 612.68,263.34 618.65,260.17 618.76,259.27" fill="#222" stroke="#000" stroke-width="0.80" stroke-linejoin="round" />
<polygon points="605.67,246.73 606.44,247.37 612.41,244.20 611.64,243.55" fill="#222" stroke="#000" stroke-width="0.80" stroke-linejoin="round" />
<polygon points="614.99,262.01 615.19,263.02 621.16,259.84 620.96,258.83" fill="#222" stroke="#000" stroke-width="0.80" stroke-linejoin="round" />
<polygon points="615.56,261.63 614.99,262.01 620.96,258.83 621.53,258.46" fill="#222" stroke="#000" stroke-width="0.80" stroke-linejoin="round" />
<polygon points="606.81,245.98 607.88,245.67 613.85,242.49 612.78,242.81" fill="#eee" stroke="#000" stroke-width="0.80" stroke-linejoin="round" />
<polygon points="607.88,245.67 608.48,246.56 614.45,243.39 613.85,242.49" fill="#222" stroke="#000" stroke-width="0.80" stroke-linejoin="round" />
<polygon points="617.07,261.40 616.33,262.27 622.30,259.10 623.04,258.22" fill="#eee" stroke="#000" stroke-width="0.80" stroke-linejoin="round" />
<polygon points="608.48,246.56 609.21,246.56 615.18,243.38 614.45,243.39" fill="#222" stroke="#000" stroke-width="0.80" stroke-linejoin="round" />
<polygon points="616.58,260.43 617.07,261.40 623.04,258.22 622.55,257.25" fill="#222" stroke="#000" stroke-width="0.80" stroke-linejoin="round" />
<polygon points="616.91,259.74 616.58,260.43 622.55,257.25 622.88,256.56" fill="#222" stroke="#000" stroke-width="0.80" stroke-linejoin="round" />
<polygon points="609.32,245.66 610.56,245.95 616.53,242.78 615.29,242.48" fill="#eee" stroke="#000" stroke-width="0.80" stroke-linejoin="round" />
<polygon points="610.56,245.95 610.91,246.97 616.88,243.79 616.53,242.78" fill="#222" stroke="#000" stroke-width="0.80" stroke-linejoin="round" />
<polygon points="610.91,246.97 611.68,247.33 617.65,244.16 616.88,243.79" fill="#222" stroke="#000" stroke-width="0.80" stroke-linejoin="round" />
<polygon points="618.02,258.72 617.72,260.03 623.69,256.86 623.99,255.55" fill="#eee" stroke="#000" stroke-width="0.80" stroke-linejoin="round" />
<polygon points="617.32,257.94 618.02,258.72 623.99,255.55 623.29,254.77" fill="#222" stroke="#000" stroke-width="0.80" stroke-linejoin="round" />
<polygon points="617.36,257.05 617.32,257.94 623.29,254.77 623.33,253.87" fill="#222" stroke="#000" stroke-width="0.80" stroke-linejoin="round" />
<polygon points="612.09,246.68 613.31,247.54 619.28,244.37 618.06,243.50" fill="#eee" stroke="#000" stroke-width="0.80" stroke-linejoin="round" />
<polygon points="613.35,248.51 614.05,249.19 620.02,246.02 619.32,245.34" fill="#222" stroke="#000" stroke-width="0.80" stroke-linejoin="round" />
<polygon points="613.31,247.54 613.35,248.51 619.32,245.34 619.28,244.37" fill="#222" stroke="#000" stroke-width="0.80" stroke-linejoin="round" />
<polygon points="616.84,253.97 617.10,254.94 623.07,251.76 622.81,250.80" fill="#222" stroke="#000" stroke-width="0.80" stroke-linejoin="round" />
<polygon points="617.91,255.41 618.10,256.95 624.07,253.77 623.88,252.23" fill="#eee" stroke="#000" stroke-width="0.80" stroke-linejoin="round" />
<polygon points="617.10,254.94 617.91,255.41 623.88,252.23 623.07,251.76" fill="#222" stroke="#000" stroke-width="0.80" stroke-linejoin="round" />
<polygon points="614.05,249.19 614.70,248.89 620.67,245.71 620.02,246.02" fill="#222" stroke="#000" stroke-width="0.80" stroke-linejoin="round" />
<polygon points="615.43,250.97 615.95,251.87 621.92,248.69 621.40,247.80" fill="#222" stroke="#000" stroke-width="0.80" stroke-linejoin="round" />
<polygon points="617.39,253.49 616.84,253.97 622.81,250.80 623.36,250.32" fill="#222" stroke="#000" stroke-width="0.80" stroke-linejoin="round" />
<polygon points="615.71,250.19 615.43,250.97 621.40,247.80 621.68,247.01" fill="#222" stroke="#000" stroke-width="0.80" stroke-linejoin="round" />
<polygon points="615.95,251.87 616.74,251.95 622.71,248.78 621.92,248.69" fill="#222" stroke="#000" stroke-width="0.80" stroke-linejoin="round" />
<polygon points="614.70,248.89 615.71,250.19 621.68,247.01 620.67,245.71" fill="#eee" stroke="#000" stroke-width="0.80" stroke-linejoin="round" />
<polygon points="616.74,251.95 617.39,253.49 623.36,250.32 622.71,248.78" fill="#eee" stroke="#000" stroke-width="0.80" stroke-linejoin="round" />
<polygon points="607.01,246.99 606.81,245.98 607.88,245.67 608.48,246.56 609.21,246.56 609.32,245.66 610.56,245.95 610.91,246.97 611.68,247.33 612.09,246.68 613.31,247.54 613.35,248.51 614.05,249.19 614.70,248.89 615.71,250.19 615.43,250.97 615.95,251.87 616.74,251.95 617.39,253.49 616.84,253.97 617.10,254.94 617.91,255.41 618.10,256.95 617.36,257.05 617.32,257.94 618.02,258.72 617.72,260.03 616.91,259.74 616.58,260.43 617.07,261.40 616.33,262.27 615.56,261.63 614.99,262.01 615.19,263.02 614.12,263.33 613.52,262.44 612.79,262.44 612.68,263.34 611.44,263.05 611.09,262.03 610.32,261.67 609.91,262.32 608.69,261.46 608.65,260.49 607.95,259.81 607.30,260.11 606.29,258.81 606.57,258.03 606.05,257.13 605.26,257.05 604.61,255.51 605.16,255.03 604.90,254.06 604.09,253.59 603.90,252.05 604.64,251.95 604.68,251.06 603.98,250.28 604.28,248.97 605.09,249.26 605.42,248.57 604.93,247.60 605.67,246.73 606.44,247.37" fill="#555" stroke="#000" stroke-width="0.80" stroke-linejoin="round" />
<polygon points="607.95,248.76 608.29,248.61 608.65,248.50 609.03,248.44 609.43,248.42 609.84,248.45 610.25,248.52 610.67,248.64 611.10,248.81 611.52,249.02 611.94,249.27 612.35,249.56 612.75,249.89 613.14,250.25 613.52,250.64 613.87,251.07 614.20,251.52 614.51,251.99 614.79,252.49 615.04,252.99 615.26,253.51 615.45,254.04 615.60,254.57 615.72,255.10 615.81,255.63 615.85,256.14 615.86,256.65 615.84,257.13 615.77,257.60 615.67,258.05 615.54,258.46 615.37,258.85 615.16,259.20 614.93,259.52 614.66,259.80 614.37,260.04 614.05,260.24 613.71,260.39 613.35,260.50 612.97,260.56 612.57,260.58 612.16,260.55 611.75,260.48 611.33,260.36 610.90,260.19 610.48,259.98 610.06,259.73 609.65,259.44 609.25,259.11 608.86,258.75 608.48,258.36 608.13,257.93 607.80,257.48 607.49,257.01 607.21,256.51 606.96,256.01 606.74,255.49 606.55,254.96 606.40,254.43 606.28,253.90 606.19,253.37 606.15,252.86 606.14,252.35 606.16,251.87 606.23,251.40 606.33,250.95 606.46,250.54 606.63,250.15 606.84,249.80 607.07,249.48 607.34,249.20 607.63,248.96" fill="#555" stroke="#000" stroke-width="0.60" stroke-linejoin="round" />
<path d="M636.3,246 L642.3,246 L642.3,240.1 L654.1,253.2 L642.3,265.6 L642.3,259 L636.3,259 Z" fill="#fff" stroke="#000" stroke-width="1.1"/>
<text x="668.7" y="258.3" font-size="13.5" fill="#000" stroke="#000" stroke-width="0.15" text-anchor="middle" font-weight="bold" font-family="Liberation Sans" textLength="22" lengthAdjust="spacingAndGlyphs">E-4</text>
</g>
<g id="labels">
<rect x="483.5" y="88.5" width="15.0" height="15.0" fill="#737373" stroke="#111" stroke-width="1"/>
<text x="491.0" y="99.6" font-size="10.0" fill="#fff" text-anchor="middle" font-family="Liberation Sans">1</text>
<rect x="537.5" y="105.5" width="15.0" height="15.0" fill="#737373" stroke="#111" stroke-width="1"/>
<text x="545.0" y="116.6" font-size="10.0" fill="#fff" text-anchor="middle" font-family="Liberation Sans">14</text>
<rect x="377.5" y="162.5" width="15.0" height="15.0" fill="#737373" stroke="#111" stroke-width="1"/>
<text x="385.0" y="173.6" font-size="10.0" fill="#fff" text-anchor="middle" font-family="Liberation Sans">2</text>
<rect x="695.5" y="101.5" width="15.0" height="15.0" fill="#737373" stroke="#111" stroke-width="1"/>
<text x="703.0" y="112.6" font-size="10.0" fill="#fff" text-anchor="middle" font-family="Liberation Sans">8</text>
<rect x="287.5" y="228.5" width="15.0" height="15.0" fill="#737373" stroke="#111" stroke-width="1"/>
<text x="295.0" y="239.6" font-size="10.0" fill="#fff" text-anchor="middle" font-family="Liberation Sans">7</text>
<rect x="335.5" y="295.5" width="15.0" height="15.0" fill="#737373" stroke="#111" stroke-width="1"/>
<text x="343.0" y="306.6" font-size="10.0" fill="#fff" text-anchor="middle" font-family="Liberation Sans">11</text>
<rect x="560.5" y="319.5" width="15.0" height="15.0" fill="#737373" stroke="#111" stroke-width="1"/>
<text x="568.0" y="330.6" font-size="10.0" fill="#fff" text-anchor="middle" font-family="Liberation Sans">6</text>
<rect x="528.5" y="332.5" width="15.0" height="15.0" fill="#737373" stroke="#111" stroke-width="1"/>
<text x="536.0" y="343.6" font-size="10.0" fill="#fff" text-anchor="middle" font-family="Liberation Sans">12</text>
<rect x="504.5" y="341.5" width="15.0" height="15.0" fill="#737373" stroke="#111" stroke-width="1"/>
<text x="512.0" y="352.6" font-size="10.0" fill="#fff" text-anchor="middle" font-family="Liberation Sans">10</text>
<path d="M519.5,346 C522.5,347 522.5,352 519.5,353 Z" fill="#000"/>
<rect x="231.5" y="286.0" width="15.0" height="15.0" fill="#737373" stroke="#111" stroke-width="1"/>
<text x="239.0" y="297.1" font-size="10.0" fill="#fff" text-anchor="middle" font-family="Liberation Sans">3</text>
<rect x="202.8" y="294.8" width="15.0" height="15.0" fill="#737373" stroke="#111" stroke-width="1"/>
<text x="210.3" y="305.9" font-size="10.0" fill="#fff" text-anchor="middle" font-family="Liberation Sans">13</text>
<rect x="259.0" y="326.5" width="15.0" height="15.0" fill="#737373" stroke="#111" stroke-width="1"/>
<text x="266.5" y="337.6" font-size="10.0" fill="#fff" text-anchor="middle" font-family="Liberation Sans">15</text>
<rect x="150.5" y="313.5" width="15.0" height="15.0" fill="#737373" stroke="#111" stroke-width="1"/>
<text x="158.0" y="324.6" font-size="10.0" fill="#fff" text-anchor="middle" font-family="Liberation Sans">9</text>
<rect x="113.5" y="356.5" width="15.0" height="15.0" fill="#737373" stroke="#111" stroke-width="1"/>
<text x="121.0" y="367.6" font-size="10.0" fill="#fff" text-anchor="middle" font-family="Liberation Sans">4</text>
<rect x="213.5" y="398.5" width="15.0" height="15.0" fill="#737373" stroke="#111" stroke-width="1"/>
<text x="221.0" y="409.6" font-size="10.0" fill="#fff" text-anchor="middle" font-family="Liberation Sans">5</text>
<line x1="490.5" y1="103.0" x2="490.5" y2="117.0" stroke="#808080" stroke-width="1.10"/>
<line x1="545.0" y1="120.0" x2="545.0" y2="131.0" stroke="#808080" stroke-width="1.10"/>
<line x1="385.0" y1="177.5" x2="385.0" y2="191.0" stroke="#808080" stroke-width="1.10"/>
<line x1="703.0" y1="90.0" x2="703.0" y2="101.0" stroke="#808080" stroke-width="1.10"/>
<line x1="295.5" y1="243.0" x2="295.5" y2="256.0" stroke="#808080" stroke-width="1.10"/>
<line x1="342.5" y1="282.0" x2="342.5" y2="295.0" stroke="#808080" stroke-width="1.10"/>
<line x1="565.8" y1="309.0" x2="565.8" y2="319.0" stroke="#808080" stroke-width="1.10"/>
<line x1="535.9" y1="315.0" x2="535.9" y2="332.0" stroke="#808080" stroke-width="1.10"/>
<line x1="514.5" y1="325.0" x2="514.5" y2="341.0" stroke="#808080" stroke-width="1.10"/>
<line x1="238.8" y1="300.5" x2="238.8" y2="316.0" stroke="#808080" stroke-width="1.10"/>
<line x1="209.8" y1="310.0" x2="209.8" y2="323.0" stroke="#808080" stroke-width="1.10"/>
<line x1="264.4" y1="310.0" x2="264.4" y2="326.0" stroke="#808080" stroke-width="1.10"/>
<line x1="157.9" y1="329.0" x2="157.9" y2="341.0" stroke="#808080" stroke-width="1.10"/>
<line x1="120.3" y1="371.5" x2="120.3" y2="384.0" stroke="#808080" stroke-width="1.10"/>
<line x1="431.3" y1="182.0" x2="431.3" y2="197.0" stroke="#808080" stroke-width="1.10"/>
<line x1="455.2" y1="212.0" x2="455.2" y2="226.0" stroke="#808080" stroke-width="1.10"/>
<line x1="567.0" y1="159.5" x2="567.0" y2="147.0" stroke="#808080" stroke-width="1.10"/>
<line x1="613.5" y1="42.0" x2="613.5" y2="56.0" stroke="#808080" stroke-width="1.10"/>
<line x1="660.0" y1="45.5" x2="660.0" y2="61.0" stroke="#808080" stroke-width="1.10"/>
<line x1="169.5" y1="366.0" x2="169.5" y2="382.0" stroke="#808080" stroke-width="1.10"/>
<line x1="230.0" y1="345.0" x2="230.0" y2="353.0" stroke="#808080" stroke-width="1.10"/>
<line x1="184.3" y1="384.0" x2="184.3" y2="394.0" stroke="#808080" stroke-width="1.10"/>
<polyline points="202.8,370 202.8,389 231.8,373.8 231.8,368.5" fill="none" stroke="#555" stroke-width="1"/>
<line x1="218.5" y1="381.0" x2="218.5" y2="393.0" stroke="#555" stroke-width="1.00"/>
<path d="M216,398 L216,396.3 L221,396.3" fill="none" stroke="#000" stroke-width="1.1"/>
<path d="M120.5,356 L121.5,354" fill="none" stroke="#000" stroke-width="0.9"/>
<rect x="223.5" y="353.5" width="15" height="15" fill="#fff" stroke="#000" stroke-width="1"/>
<rect x="160.5" y="382.5" width="15" height="15" fill="#fff" stroke="#000" stroke-width="1"/>
<text x="613.8" y="40.3" font-size="12.0" fill="#000" stroke="#000" stroke-width="0.15" text-anchor="middle" font-weight="normal" font-family="Liberation Sans" >2</text>
<text x="660.0" y="41.5" font-size="12.0" fill="#000" stroke="#000" stroke-width="0.15" text-anchor="middle" font-weight="normal" font-family="Liberation Sans" >11</text>
<text x="432.0" y="178.5" font-size="12.0" fill="#000" stroke="#000" stroke-width="0.15" text-anchor="middle" font-weight="normal" font-family="Liberation Sans" >14</text>
<text x="455.5" y="239.0" font-size="12.0" fill="#000" stroke="#000" stroke-width="0.15" text-anchor="middle" font-weight="normal" font-family="Liberation Sans" >14</text>
<text x="567.0" y="173.0" font-size="12.0" fill="#000" stroke="#000" stroke-width="0.15" text-anchor="middle" font-weight="normal" font-family="Liberation Sans" >14</text>
<text x="185.2" y="405.5" font-size="12.0" fill="#000" stroke="#000" stroke-width="0.15" text-anchor="middle" font-weight="normal" font-family="Liberation Sans" >9</text>
<g transform="translate(779,371.5) rotate(29)"><text x="0" y="0" font-size="15.5" font-weight="bold" font-family="Liberation Sans" text-anchor="middle" stroke="#000" stroke-width="0.6">FR.</text></g>
<polygon points="790.27,377.29 807.08,387.18 804.75,391.14 817.50,388.20 813.87,375.63 811.54,379.59 794.73,369.71" fill="#000" stroke="none" />
<text x="785.2" y="410.8" font-size="11.0" fill="#000" stroke="#000" stroke-width="0.15" text-anchor="middle" font-weight="normal" font-family="Liberation Sans" textLength="54" lengthAdjust="spacingAndGlyphs">MKS8E0810</text>
</g>
</svg></body></html>
